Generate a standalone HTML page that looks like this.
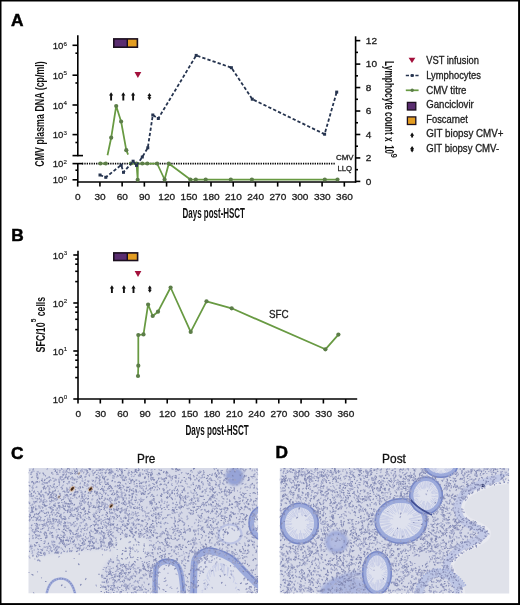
<!DOCTYPE html>
<html><head><meta charset="utf-8"><style>
html,body{margin:0;padding:0;background:#fff;}
svg{display:block;will-change:transform;}
text{font-family:"Liberation Sans", sans-serif;}
</style></head><body>
<svg width="520" height="605" viewBox="0 0 520 605">
<rect x="0" y="0" width="520" height="605" fill="#000"/>
<rect x="1.5" y="1.5" width="516.6" height="601.6" fill="#fff"/>
<text x="11.00" y="26.20" font-size="17.3" text-anchor="start" font-weight="bold" fill="#000" stroke="#000" stroke-width="0.5">A</text>
<line x1="77.80" y1="35.30" x2="77.80" y2="156.20" stroke="#000" stroke-width="1.6" />
<line x1="72.50" y1="155.60" x2="83.00" y2="155.60" stroke="#000" stroke-width="1.6" />
<line x1="72.50" y1="45.30" x2="77.80" y2="45.30" stroke="#000" stroke-width="1.6" />
<line x1="72.50" y1="75.20" x2="77.80" y2="75.20" stroke="#000" stroke-width="1.6" />
<line x1="72.50" y1="105.00" x2="77.80" y2="105.00" stroke="#000" stroke-width="1.6" />
<line x1="72.50" y1="134.60" x2="77.80" y2="134.60" stroke="#000" stroke-width="1.6" />
<line x1="75.40" y1="53.20" x2="77.80" y2="53.20" stroke="#000" stroke-width="1.6" />
<line x1="75.40" y1="83.00" x2="77.80" y2="83.00" stroke="#000" stroke-width="1.6" />
<line x1="75.40" y1="112.80" x2="77.80" y2="112.80" stroke="#000" stroke-width="1.6" />
<line x1="75.40" y1="142.50" x2="77.80" y2="142.50" stroke="#000" stroke-width="1.6" />
<line x1="77.80" y1="162.90" x2="77.80" y2="182.60" stroke="#000" stroke-width="1.6" />
<line x1="72.50" y1="163.60" x2="83.00" y2="163.60" stroke="#000" stroke-width="1.6" />
<line x1="75.40" y1="170.20" x2="77.80" y2="170.20" stroke="#000" stroke-width="1.6" />
<line x1="72.50" y1="179.80" x2="77.80" y2="179.80" stroke="#000" stroke-width="1.6" />
<line x1="77.20" y1="182.00" x2="356.20" y2="182.00" stroke="#000" stroke-width="1.6" />
<line x1="77.70" y1="182.00" x2="77.70" y2="186.60" stroke="#000" stroke-width="1.6" />
<text x="77.90" y="199.90" font-size="9.1" text-anchor="middle" font-weight="normal" fill="#222" textLength="5.6" lengthAdjust="spacingAndGlyphs"  stroke="#222" stroke-width="0.3">0</text>
<line x1="99.92" y1="182.00" x2="99.92" y2="186.60" stroke="#000" stroke-width="1.6" />
<text x="100.12" y="199.90" font-size="9.1" text-anchor="middle" font-weight="normal" fill="#222" textLength="11.2" lengthAdjust="spacingAndGlyphs"  stroke="#222" stroke-width="0.3">30</text>
<line x1="122.14" y1="182.00" x2="122.14" y2="186.60" stroke="#000" stroke-width="1.6" />
<text x="122.34" y="199.90" font-size="9.1" text-anchor="middle" font-weight="normal" fill="#222" textLength="11.2" lengthAdjust="spacingAndGlyphs"  stroke="#222" stroke-width="0.3">60</text>
<line x1="144.35" y1="182.00" x2="144.35" y2="186.60" stroke="#000" stroke-width="1.6" />
<text x="144.55" y="199.90" font-size="9.1" text-anchor="middle" font-weight="normal" fill="#222" textLength="11.2" lengthAdjust="spacingAndGlyphs"  stroke="#222" stroke-width="0.3">90</text>
<line x1="166.57" y1="182.00" x2="166.57" y2="186.60" stroke="#000" stroke-width="1.6" />
<text x="166.77" y="199.90" font-size="9.1" text-anchor="middle" font-weight="normal" fill="#222" textLength="16.799999999999997" lengthAdjust="spacingAndGlyphs"  stroke="#222" stroke-width="0.3">120</text>
<line x1="188.79" y1="182.00" x2="188.79" y2="186.60" stroke="#000" stroke-width="1.6" />
<text x="188.99" y="199.90" font-size="9.1" text-anchor="middle" font-weight="normal" fill="#222" textLength="16.799999999999997" lengthAdjust="spacingAndGlyphs"  stroke="#222" stroke-width="0.3">150</text>
<line x1="211.01" y1="182.00" x2="211.01" y2="186.60" stroke="#000" stroke-width="1.6" />
<text x="211.21" y="199.90" font-size="9.1" text-anchor="middle" font-weight="normal" fill="#222" textLength="16.799999999999997" lengthAdjust="spacingAndGlyphs"  stroke="#222" stroke-width="0.3">180</text>
<line x1="233.23" y1="182.00" x2="233.23" y2="186.60" stroke="#000" stroke-width="1.6" />
<text x="233.43" y="199.90" font-size="9.1" text-anchor="middle" font-weight="normal" fill="#222" textLength="16.799999999999997" lengthAdjust="spacingAndGlyphs"  stroke="#222" stroke-width="0.3">210</text>
<line x1="255.44" y1="182.00" x2="255.44" y2="186.60" stroke="#000" stroke-width="1.6" />
<text x="255.64" y="199.90" font-size="9.1" text-anchor="middle" font-weight="normal" fill="#222" textLength="16.799999999999997" lengthAdjust="spacingAndGlyphs"  stroke="#222" stroke-width="0.3">240</text>
<line x1="277.66" y1="182.00" x2="277.66" y2="186.60" stroke="#000" stroke-width="1.6" />
<text x="277.86" y="199.90" font-size="9.1" text-anchor="middle" font-weight="normal" fill="#222" textLength="16.799999999999997" lengthAdjust="spacingAndGlyphs"  stroke="#222" stroke-width="0.3">270</text>
<line x1="299.88" y1="182.00" x2="299.88" y2="186.60" stroke="#000" stroke-width="1.6" />
<text x="300.08" y="199.90" font-size="9.1" text-anchor="middle" font-weight="normal" fill="#222" textLength="16.799999999999997" lengthAdjust="spacingAndGlyphs"  stroke="#222" stroke-width="0.3">300</text>
<line x1="322.10" y1="182.00" x2="322.10" y2="186.60" stroke="#000" stroke-width="1.6" />
<text x="322.30" y="199.90" font-size="9.1" text-anchor="middle" font-weight="normal" fill="#222" textLength="16.799999999999997" lengthAdjust="spacingAndGlyphs"  stroke="#222" stroke-width="0.3">330</text>
<line x1="344.32" y1="182.00" x2="344.32" y2="186.60" stroke="#000" stroke-width="1.6" />
<text x="344.52" y="199.90" font-size="9.1" text-anchor="middle" font-weight="normal" fill="#222" textLength="16.799999999999997" lengthAdjust="spacingAndGlyphs"  stroke="#222" stroke-width="0.3">360</text>
<text x="63.30" y="48.90" font-size="9.6" text-anchor="end" fill="#222" stroke="#222" stroke-width="0.3">10</text>
<text x="63.50" y="45.50" font-size="6.2" fill="#222" stroke="#222" stroke-width="0.15">6</text>
<text x="63.30" y="78.80" font-size="9.6" text-anchor="end" fill="#222" stroke="#222" stroke-width="0.3">10</text>
<text x="63.50" y="75.40" font-size="6.2" fill="#222" stroke="#222" stroke-width="0.15">5</text>
<text x="63.30" y="108.60" font-size="9.6" text-anchor="end" fill="#222" stroke="#222" stroke-width="0.3">10</text>
<text x="63.50" y="105.20" font-size="6.2" fill="#222" stroke="#222" stroke-width="0.15">4</text>
<text x="63.30" y="138.20" font-size="9.6" text-anchor="end" fill="#222" stroke="#222" stroke-width="0.3">10</text>
<text x="63.50" y="134.80" font-size="6.2" fill="#222" stroke="#222" stroke-width="0.15">3</text>
<text x="63.30" y="167.20" font-size="9.6" text-anchor="end" fill="#222" stroke="#222" stroke-width="0.3">10</text>
<text x="63.50" y="163.80" font-size="6.2" fill="#222" stroke="#222" stroke-width="0.15">2</text>
<text x="63.30" y="183.40" font-size="9.6" text-anchor="end" fill="#222" stroke="#222" stroke-width="0.3">10</text>
<text x="63.50" y="180.00" font-size="6.2" fill="#222" stroke="#222" stroke-width="0.15">0</text>
<text transform="translate(44.2,114) rotate(-90)" font-size="13" text-anchor="middle" fill="#111" textLength="105.5" lengthAdjust="spacingAndGlyphs" font-weight="bold">CMV plasma DNA (cp/ml)</text>
<line x1="355.60" y1="36.30" x2="355.60" y2="182.60" stroke="#000" stroke-width="1.6" />
<line x1="355.60" y1="181.40" x2="360.30" y2="181.40" stroke="#000" stroke-width="1.6" />
<text x="365.80" y="184.50" font-size="9.1" text-anchor="start" font-weight="normal" fill="#222" textLength="5.6" lengthAdjust="spacingAndGlyphs"  stroke="#222" stroke-width="0.3">0</text>
<line x1="355.60" y1="169.67" x2="358.00" y2="169.67" stroke="#000" stroke-width="1.6" />
<line x1="355.60" y1="157.94" x2="360.30" y2="157.94" stroke="#000" stroke-width="1.6" />
<text x="365.80" y="161.04" font-size="9.1" text-anchor="start" font-weight="normal" fill="#222" textLength="5.6" lengthAdjust="spacingAndGlyphs"  stroke="#222" stroke-width="0.3">2</text>
<line x1="355.60" y1="146.21" x2="358.00" y2="146.21" stroke="#000" stroke-width="1.6" />
<line x1="355.60" y1="134.48" x2="360.30" y2="134.48" stroke="#000" stroke-width="1.6" />
<text x="365.80" y="137.58" font-size="9.1" text-anchor="start" font-weight="normal" fill="#222" textLength="5.6" lengthAdjust="spacingAndGlyphs"  stroke="#222" stroke-width="0.3">4</text>
<line x1="355.60" y1="122.75" x2="358.00" y2="122.75" stroke="#000" stroke-width="1.6" />
<line x1="355.60" y1="111.02" x2="360.30" y2="111.02" stroke="#000" stroke-width="1.6" />
<text x="365.80" y="114.12" font-size="9.1" text-anchor="start" font-weight="normal" fill="#222" textLength="5.6" lengthAdjust="spacingAndGlyphs"  stroke="#222" stroke-width="0.3">6</text>
<line x1="355.60" y1="99.29" x2="358.00" y2="99.29" stroke="#000" stroke-width="1.6" />
<line x1="355.60" y1="87.56" x2="360.30" y2="87.56" stroke="#000" stroke-width="1.6" />
<text x="365.80" y="90.66" font-size="9.1" text-anchor="start" font-weight="normal" fill="#222" textLength="5.6" lengthAdjust="spacingAndGlyphs"  stroke="#222" stroke-width="0.3">8</text>
<line x1="355.60" y1="75.83" x2="358.00" y2="75.83" stroke="#000" stroke-width="1.6" />
<line x1="355.60" y1="64.10" x2="360.30" y2="64.10" stroke="#000" stroke-width="1.6" />
<text x="365.80" y="67.20" font-size="9.1" text-anchor="start" font-weight="normal" fill="#222" textLength="11.2" lengthAdjust="spacingAndGlyphs"  stroke="#222" stroke-width="0.3">10</text>
<line x1="355.60" y1="52.37" x2="358.00" y2="52.37" stroke="#000" stroke-width="1.6" />
<line x1="355.60" y1="40.64" x2="360.30" y2="40.64" stroke="#000" stroke-width="1.6" />
<text x="365.80" y="43.74" font-size="9.1" text-anchor="start" font-weight="normal" fill="#222" textLength="11.2" lengthAdjust="spacingAndGlyphs"  stroke="#222" stroke-width="0.3">12</text>
<text transform="translate(385.3,61) rotate(90)" font-size="13" fill="#111" textLength="80.6" lengthAdjust="spacingAndGlyphs" font-weight="bold">Lymphocyte count x</text>
<text transform="translate(385.3,145.2) rotate(90)" font-size="12" fill="#111" textLength="8.8" lengthAdjust="spacingAndGlyphs" font-weight="bold">10</text>
<text transform="translate(390.6,153.6) rotate(90)" font-size="8.6" fill="#111" textLength="4.3" lengthAdjust="spacingAndGlyphs" font-weight="bold">9</text>
<text x="182.50" y="217.90" font-size="14.2" text-anchor="start" font-weight="bold" fill="#111" textLength="62.5" lengthAdjust="spacingAndGlyphs" >Days post-HSCT</text>
<line x1="82.00" y1="163.60" x2="335.20" y2="163.60" stroke="#000" stroke-width="1.7" stroke-dasharray="1.3 1.05"/>
<text x="336.00" y="160.30" font-size="8" text-anchor="start" font-weight="normal" fill="#222" textLength="17.6" lengthAdjust="spacingAndGlyphs"  stroke="#222" stroke-width="0.3">CMV</text>
<text x="337.40" y="170.60" font-size="8" text-anchor="start" font-weight="normal" fill="#222" textLength="14.6" lengthAdjust="spacingAndGlyphs"  stroke="#222" stroke-width="0.3">LLQ</text>
<rect x="113.80" y="38.90" width="13.50" height="8.30" fill="#5a2d70"/>
<rect x="127.30" y="38.90" width="10.10" height="8.30" fill="#e39d22"/>
<rect x="113.80" y="38.90" width="23.60" height="8.30" fill="none" stroke="#1b0f1e" stroke-width="1.6"/>
<line x1="127.30" y1="38.90" x2="127.30" y2="47.20" stroke="#1b0f1e" stroke-width="1.4" />
<path d="M134.50,72.10 L141.30,72.10 L137.90,78.00 Z" fill="#a3113c"/>
<path d="M111.10,92.20 L113.20,95.60 L112.05,95.60 L112.05,100.60 L110.15,100.60 L110.15,95.60 L109.00,95.60 Z" fill="#111"/>
<path d="M123.30,92.20 L125.40,95.60 L124.25,95.60 L124.25,100.60 L122.35,100.60 L122.35,95.60 L121.20,95.60 Z" fill="#111"/>
<path d="M133.10,92.20 L135.20,95.60 L134.05,95.60 L134.05,100.60 L132.15,100.60 L132.15,95.60 L131.00,95.60 Z" fill="#111"/>
<path d="M149.40,93.00 L151.40,96.00 L150.30,96.00 L150.30,97.30 L151.40,97.30 L149.40,100.30 L147.40,97.30 L148.50,97.30 L148.50,96.00 L147.40,96.00 Z" fill="#111"/>
<polyline points="100.40,163.50 105.80,163.50" fill="none" stroke="#689a42" stroke-width="1.75" stroke-linejoin="round"/>
<polyline points="130.80,163.50 136.50,163.50 137.70,179.80 137.90,163.50 142.30,163.50 147.30,163.50 157.10,163.50 164.60,179.50 168.80,163.50 190.30,179.50 195.80,179.50 205.70,179.50 230.80,179.50 251.90,179.50 324.80,179.50 337.50,179.50" fill="none" stroke="#689a42" stroke-width="1.75" stroke-linejoin="round"/>
<circle cx="100.40" cy="163.50" r="2.1" fill="#5c7d48"/>
<circle cx="105.80" cy="163.50" r="2.1" fill="#5c7d48"/>
<circle cx="130.80" cy="163.50" r="2.1" fill="#5c7d48"/>
<circle cx="136.50" cy="163.50" r="2.1" fill="#5c7d48"/>
<circle cx="137.70" cy="179.80" r="2.1" fill="#5c7d48"/>
<circle cx="142.30" cy="163.50" r="2.1" fill="#5c7d48"/>
<circle cx="147.30" cy="163.50" r="2.1" fill="#5c7d48"/>
<circle cx="157.10" cy="163.50" r="2.1" fill="#5c7d48"/>
<circle cx="164.60" cy="179.50" r="2.1" fill="#5c7d48"/>
<circle cx="168.80" cy="163.50" r="2.1" fill="#5c7d48"/>
<circle cx="190.30" cy="179.50" r="2.1" fill="#5c7d48"/>
<circle cx="195.80" cy="179.50" r="2.1" fill="#5c7d48"/>
<circle cx="205.70" cy="179.50" r="2.1" fill="#5c7d48"/>
<circle cx="230.80" cy="179.50" r="2.1" fill="#5c7d48"/>
<circle cx="251.90" cy="179.50" r="2.1" fill="#5c7d48"/>
<circle cx="324.80" cy="179.50" r="2.1" fill="#5c7d48"/>
<circle cx="337.50" cy="179.50" r="2.1" fill="#5c7d48"/>
<polyline points="107.50,155.20 111.20,137.70 116.20,106.00 121.10,121.50 126.30,150.20 128.10,154.60" fill="none" stroke="#689a42" stroke-width="1.75" stroke-linejoin="round"/>
<circle cx="111.20" cy="137.70" r="2.1" fill="#5c7d48"/>
<circle cx="116.20" cy="106.00" r="2.1" fill="#5c7d48"/>
<circle cx="121.10" cy="121.50" r="2.1" fill="#5c7d48"/>
<circle cx="126.30" cy="150.20" r="2.1" fill="#5c7d48"/>
<polyline points="100.00,175.00 105.80,177.30 121.20,165.00 123.50,172.30 133.10,161.20 136.50,165.40 142.30,157.00 147.80,147.80 152.80,115.00 158.30,118.50 196.20,55.40 231.40,67.70 252.30,99.20 324.60,134.20 336.70,92.10" fill="none" stroke="#26344f" stroke-width="1.8" stroke-linejoin="round" stroke-dasharray="3.3 2.1"/>
<rect x="98.50" y="173.50" width="3" height="3" fill="#26344f"/>
<rect x="104.30" y="175.80" width="3" height="3" fill="#26344f"/>
<rect x="119.70" y="163.50" width="3" height="3" fill="#26344f"/>
<rect x="122.00" y="170.80" width="3" height="3" fill="#26344f"/>
<rect x="131.60" y="159.70" width="3" height="3" fill="#26344f"/>
<rect x="135.00" y="163.90" width="3" height="3" fill="#26344f"/>
<rect x="140.80" y="155.50" width="3" height="3" fill="#26344f"/>
<rect x="146.30" y="146.30" width="3" height="3" fill="#26344f"/>
<rect x="151.30" y="113.50" width="3" height="3" fill="#26344f"/>
<rect x="156.80" y="117.00" width="3" height="3" fill="#26344f"/>
<rect x="194.70" y="53.90" width="3" height="3" fill="#26344f"/>
<rect x="229.90" y="66.20" width="3" height="3" fill="#26344f"/>
<rect x="250.80" y="97.70" width="3" height="3" fill="#26344f"/>
<rect x="323.10" y="132.70" width="3" height="3" fill="#26344f"/>
<rect x="335.20" y="90.60" width="3" height="3" fill="#26344f"/>
<path d="M408.60,57.70 L415.40,57.70 L412.00,63.10 Z" fill="#a3113c"/>
<text x="426.20" y="64.10" font-size="10" text-anchor="start" font-weight="normal" fill="#222" textLength="52.7" lengthAdjust="spacingAndGlyphs"  stroke="#222" stroke-width="0.3">VST infusion</text>
<line x1="405.80" y1="75.50" x2="418.60" y2="75.50" stroke="#26344f" stroke-width="1.7" stroke-dasharray="3.2 1.6"/>
<rect x="410.80" y="74.10" width="2.8" height="2.8" fill="#26344f"/>
<text x="426.20" y="78.80" font-size="10" text-anchor="start" font-weight="normal" fill="#222" textLength="54.8" lengthAdjust="spacingAndGlyphs"  stroke="#222" stroke-width="0.3">Lymphocytes</text>
<line x1="405.80" y1="90.30" x2="418.60" y2="90.30" stroke="#689a42" stroke-width="1.7" />
<circle cx="412.20" cy="90.30" r="1.7" fill="#5c7d48"/>
<text x="426.20" y="93.50" font-size="10" text-anchor="start" font-weight="normal" fill="#222" textLength="40.3" lengthAdjust="spacingAndGlyphs"  stroke="#222" stroke-width="0.3">CMV titre</text>
<rect x="407.4" y="102.4" width="8.4" height="7.6" fill="#5a2d70" stroke="#1b0f1e" stroke-width="1.3"/>
<text x="426.20" y="108.00" font-size="10" text-anchor="start" font-weight="normal" fill="#222" textLength="47.6" lengthAdjust="spacingAndGlyphs"  stroke="#222" stroke-width="0.3">Ganciclovir</text>
<rect x="407.4" y="116.9" width="8.4" height="7.6" fill="#e39d22" stroke="#1b0f1e" stroke-width="1.3"/>
<text x="426.20" y="122.80" font-size="10" text-anchor="start" font-weight="normal" fill="#222" textLength="41.7" lengthAdjust="spacingAndGlyphs"  stroke="#222" stroke-width="0.3">Foscarnet</text>
<path d="M412.10,132.40 L414.20,135.80 L413.05,135.80 L413.05,137.40 L411.15,137.40 L411.15,135.80 L410.00,135.80 Z" fill="#111"/>
<text x="426.20" y="137.20" font-size="10" text-anchor="start" font-weight="normal" fill="#222" textLength="77.3" lengthAdjust="spacingAndGlyphs"  stroke="#222" stroke-width="0.3">GIT biopsy CMV+</text>
<path d="M412.10,146.00 L414.10,149.00 L413.00,149.00 L413.00,149.40 L414.10,149.40 L412.10,152.40 L410.10,149.40 L411.20,149.40 L411.20,149.00 L410.10,149.00 Z" fill="#111"/>
<text x="426.20" y="151.60" font-size="10" text-anchor="start" font-weight="normal" fill="#222" textLength="73.0" lengthAdjust="spacingAndGlyphs"  stroke="#222" stroke-width="0.3">GIT biopsy CMV-</text>
<text x="11.20" y="241.30" font-size="17.3" text-anchor="start" font-weight="bold" fill="#000" stroke="#000" stroke-width="0.5">B</text>
<line x1="78.00" y1="250.80" x2="78.00" y2="399.60" stroke="#000" stroke-width="1.6" />
<line x1="77.40" y1="399.00" x2="357.20" y2="399.00" stroke="#000" stroke-width="1.6" />
<line x1="73.30" y1="399.00" x2="78.00" y2="399.00" stroke="#000" stroke-width="1.6" />
<line x1="73.30" y1="351.00" x2="78.00" y2="351.00" stroke="#000" stroke-width="1.6" />
<line x1="73.30" y1="303.00" x2="78.00" y2="303.00" stroke="#000" stroke-width="1.6" />
<line x1="73.30" y1="255.00" x2="78.00" y2="255.00" stroke="#000" stroke-width="1.6" />
<line x1="75.20" y1="259.10" x2="78.00" y2="259.10" stroke="#000" stroke-width="1.6" />
<line x1="75.20" y1="264.20" x2="78.00" y2="264.20" stroke="#000" stroke-width="1.6" />
<line x1="75.20" y1="271.30" x2="78.00" y2="271.30" stroke="#000" stroke-width="1.6" />
<line x1="75.20" y1="281.60" x2="78.00" y2="281.60" stroke="#000" stroke-width="1.6" />
<line x1="75.20" y1="307.10" x2="78.00" y2="307.10" stroke="#000" stroke-width="1.6" />
<line x1="75.20" y1="312.20" x2="78.00" y2="312.20" stroke="#000" stroke-width="1.6" />
<line x1="75.20" y1="319.30" x2="78.00" y2="319.30" stroke="#000" stroke-width="1.6" />
<line x1="75.20" y1="329.60" x2="78.00" y2="329.60" stroke="#000" stroke-width="1.6" />
<line x1="75.20" y1="355.10" x2="78.00" y2="355.10" stroke="#000" stroke-width="1.6" />
<line x1="75.20" y1="360.20" x2="78.00" y2="360.20" stroke="#000" stroke-width="1.6" />
<line x1="75.20" y1="367.30" x2="78.00" y2="367.30" stroke="#000" stroke-width="1.6" />
<line x1="75.20" y1="377.60" x2="78.00" y2="377.60" stroke="#000" stroke-width="1.6" />
<text x="63.50" y="258.60" font-size="9.6" text-anchor="end" fill="#222" stroke="#222" stroke-width="0.3">10</text>
<text x="63.70" y="255.20" font-size="6.2" fill="#222" stroke="#222" stroke-width="0.15">3</text>
<text x="63.50" y="306.60" font-size="9.6" text-anchor="end" fill="#222" stroke="#222" stroke-width="0.3">10</text>
<text x="63.70" y="303.20" font-size="6.2" fill="#222" stroke="#222" stroke-width="0.15">2</text>
<text x="63.50" y="354.60" font-size="9.6" text-anchor="end" fill="#222" stroke="#222" stroke-width="0.3">10</text>
<text x="63.70" y="351.20" font-size="6.2" fill="#222" stroke="#222" stroke-width="0.15">1</text>
<text x="63.50" y="402.60" font-size="9.6" text-anchor="end" fill="#222" stroke="#222" stroke-width="0.3">10</text>
<text x="63.70" y="399.20" font-size="6.2" fill="#222" stroke="#222" stroke-width="0.15">0</text>
<line x1="78.00" y1="399.00" x2="78.00" y2="403.50" stroke="#000" stroke-width="1.6" />
<text x="78.20" y="416.90" font-size="9.1" text-anchor="middle" font-weight="normal" fill="#222" textLength="5.6" lengthAdjust="spacingAndGlyphs"  stroke="#222" stroke-width="0.3">0</text>
<line x1="100.31" y1="399.00" x2="100.31" y2="403.50" stroke="#000" stroke-width="1.6" />
<text x="100.51" y="416.90" font-size="9.1" text-anchor="middle" font-weight="normal" fill="#222" textLength="11.2" lengthAdjust="spacingAndGlyphs"  stroke="#222" stroke-width="0.3">30</text>
<line x1="122.62" y1="399.00" x2="122.62" y2="403.50" stroke="#000" stroke-width="1.6" />
<text x="122.82" y="416.90" font-size="9.1" text-anchor="middle" font-weight="normal" fill="#222" textLength="11.2" lengthAdjust="spacingAndGlyphs"  stroke="#222" stroke-width="0.3">60</text>
<line x1="144.92" y1="399.00" x2="144.92" y2="403.50" stroke="#000" stroke-width="1.6" />
<text x="145.12" y="416.90" font-size="9.1" text-anchor="middle" font-weight="normal" fill="#222" textLength="11.2" lengthAdjust="spacingAndGlyphs"  stroke="#222" stroke-width="0.3">90</text>
<line x1="167.23" y1="399.00" x2="167.23" y2="403.50" stroke="#000" stroke-width="1.6" />
<text x="167.43" y="416.90" font-size="9.1" text-anchor="middle" font-weight="normal" fill="#222" textLength="16.799999999999997" lengthAdjust="spacingAndGlyphs"  stroke="#222" stroke-width="0.3">120</text>
<line x1="189.54" y1="399.00" x2="189.54" y2="403.50" stroke="#000" stroke-width="1.6" />
<text x="189.74" y="416.90" font-size="9.1" text-anchor="middle" font-weight="normal" fill="#222" textLength="16.799999999999997" lengthAdjust="spacingAndGlyphs"  stroke="#222" stroke-width="0.3">150</text>
<line x1="211.85" y1="399.00" x2="211.85" y2="403.50" stroke="#000" stroke-width="1.6" />
<text x="212.05" y="416.90" font-size="9.1" text-anchor="middle" font-weight="normal" fill="#222" textLength="16.799999999999997" lengthAdjust="spacingAndGlyphs"  stroke="#222" stroke-width="0.3">180</text>
<line x1="234.16" y1="399.00" x2="234.16" y2="403.50" stroke="#000" stroke-width="1.6" />
<text x="234.36" y="416.90" font-size="9.1" text-anchor="middle" font-weight="normal" fill="#222" textLength="16.799999999999997" lengthAdjust="spacingAndGlyphs"  stroke="#222" stroke-width="0.3">210</text>
<line x1="256.46" y1="399.00" x2="256.46" y2="403.50" stroke="#000" stroke-width="1.6" />
<text x="256.66" y="416.90" font-size="9.1" text-anchor="middle" font-weight="normal" fill="#222" textLength="16.799999999999997" lengthAdjust="spacingAndGlyphs"  stroke="#222" stroke-width="0.3">240</text>
<line x1="278.77" y1="399.00" x2="278.77" y2="403.50" stroke="#000" stroke-width="1.6" />
<text x="278.97" y="416.90" font-size="9.1" text-anchor="middle" font-weight="normal" fill="#222" textLength="16.799999999999997" lengthAdjust="spacingAndGlyphs"  stroke="#222" stroke-width="0.3">270</text>
<line x1="301.08" y1="399.00" x2="301.08" y2="403.50" stroke="#000" stroke-width="1.6" />
<text x="301.28" y="416.90" font-size="9.1" text-anchor="middle" font-weight="normal" fill="#222" textLength="16.799999999999997" lengthAdjust="spacingAndGlyphs"  stroke="#222" stroke-width="0.3">300</text>
<line x1="323.39" y1="399.00" x2="323.39" y2="403.50" stroke="#000" stroke-width="1.6" />
<text x="323.59" y="416.90" font-size="9.1" text-anchor="middle" font-weight="normal" fill="#222" textLength="16.799999999999997" lengthAdjust="spacingAndGlyphs"  stroke="#222" stroke-width="0.3">330</text>
<line x1="345.70" y1="399.00" x2="345.70" y2="403.50" stroke="#000" stroke-width="1.6" />
<text x="345.90" y="416.90" font-size="9.1" text-anchor="middle" font-weight="normal" fill="#222" textLength="16.799999999999997" lengthAdjust="spacingAndGlyphs"  stroke="#222" stroke-width="0.3">360</text>
<text x="185.40" y="435.20" font-size="14.2" text-anchor="start" font-weight="bold" fill="#111" textLength="63.4" lengthAdjust="spacingAndGlyphs" >Days post-HSCT</text>
<text transform="translate(44.9,352.6) rotate(-90)" font-size="13" fill="#111" font-weight="bold" textLength="30.4" lengthAdjust="spacingAndGlyphs">SFC/10</text>
<text transform="translate(36.3,322.3) rotate(-90)" font-size="6.8" fill="#111" font-weight="bold">5</text>
<text transform="translate(44.9,316.2) rotate(-90)" font-size="13" fill="#111" font-weight="bold" textLength="19.3" lengthAdjust="spacingAndGlyphs">cells</text>
<rect x="113.80" y="252.90" width="13.50" height="7.60" fill="#5a2d70"/>
<rect x="127.30" y="252.90" width="10.30" height="7.60" fill="#e39d22"/>
<rect x="113.80" y="252.90" width="23.80" height="7.60" fill="none" stroke="#1b0f1e" stroke-width="1.6"/>
<line x1="127.30" y1="252.90" x2="127.30" y2="260.50" stroke="#1b0f1e" stroke-width="1.4" />
<path d="M134.60,270.90 L141.40,270.90 L138.00,277.00 Z" fill="#a3113c"/>
<path d="M111.90,285.20 L114.00,288.60 L112.85,288.60 L112.85,292.90 L110.95,292.90 L110.95,288.60 L109.80,288.60 Z" fill="#111"/>
<path d="M123.90,285.20 L126.00,288.60 L124.85,288.60 L124.85,292.90 L122.95,292.90 L122.95,288.60 L121.80,288.60 Z" fill="#111"/>
<path d="M133.50,285.20 L135.60,288.60 L134.45,288.60 L134.45,292.90 L132.55,292.90 L132.55,288.60 L131.40,288.60 Z" fill="#111"/>
<path d="M149.80,285.40 L151.80,288.40 L150.70,288.40 L150.70,289.70 L151.80,289.70 L149.80,292.70 L147.80,289.70 L148.90,289.70 L148.90,288.40 L147.80,288.40 Z" fill="#111"/>
<polyline points="138.00,376.00 138.30,365.70 138.30,335.00 143.50,334.40 148.10,304.50 152.70,316.00 158.00,311.70 170.60,287.50 190.70,331.90 206.50,301.30 231.70,308.30 325.40,349.30 338.40,334.60" fill="none" stroke="#689a42" stroke-width="1.75" stroke-linejoin="round"/>
<circle cx="138.00" cy="376.00" r="2.1" fill="#5c7d48"/>
<circle cx="138.30" cy="365.70" r="2.1" fill="#5c7d48"/>
<circle cx="138.30" cy="335.00" r="2.1" fill="#5c7d48"/>
<circle cx="143.50" cy="334.40" r="2.1" fill="#5c7d48"/>
<circle cx="148.10" cy="304.50" r="2.1" fill="#5c7d48"/>
<circle cx="152.70" cy="316.00" r="2.1" fill="#5c7d48"/>
<circle cx="158.00" cy="311.70" r="2.1" fill="#5c7d48"/>
<circle cx="170.60" cy="287.50" r="2.1" fill="#5c7d48"/>
<circle cx="190.70" cy="331.90" r="2.1" fill="#5c7d48"/>
<circle cx="206.50" cy="301.30" r="2.1" fill="#5c7d48"/>
<circle cx="231.70" cy="308.30" r="2.1" fill="#5c7d48"/>
<circle cx="325.40" cy="349.30" r="2.1" fill="#5c7d48"/>
<circle cx="338.40" cy="334.60" r="2.1" fill="#5c7d48"/>
<text x="269.00" y="318.20" font-size="10" text-anchor="start" font-weight="normal" fill="#222" textLength="19.6" lengthAdjust="spacingAndGlyphs"  stroke="#222" stroke-width="0.3">SFC</text>
<text x="10.90" y="458.60" font-size="17.3" text-anchor="start" font-weight="bold" fill="#000" stroke="#000" stroke-width="0.5">C</text>
<text x="275.40" y="458.30" font-size="17.3" text-anchor="start" font-weight="bold" fill="#000" stroke="#000" stroke-width="0.5">D</text>
<text x="137.10" y="462.90" font-size="13" text-anchor="start" font-weight="normal" fill="#111" textLength="18.3" lengthAdjust="spacingAndGlyphs"  stroke="#111" stroke-width="0.3">Pre</text>
<text x="382.10" y="462.90" font-size="13" text-anchor="start" font-weight="normal" fill="#111" textLength="23.8" lengthAdjust="spacingAndGlyphs"  stroke="#111" stroke-width="0.3">Post</text>
<filter id="soft" x="-5%" y="-5%" width="110%" height="110%"><feGaussianBlur stdDeviation="0.55"/></filter>
<filter id="soft2" x="-30%" y="-30%" width="160%" height="160%"><feGaussianBlur stdDeviation="1.5"/></filter>
<clipPath id="cC"><rect x="28.5" y="468" width="229.6" height="125.3"/></clipPath>
<g clip-path="url(#cC)"><g filter="url(#soft)">
<rect x="28.5" y="468" width="229.6" height="125.3" fill="#d6d9e7"/>
<path d="M20.0,557.0 C23.3,549.7 32.8,556.8 40.0,556.0 C47.2,555.2 56.3,553.3 63.0,552.5 C69.7,551.7 74.8,551.4 80.0,551.0 C85.2,550.6 90.0,550.2 94.0,550.0 C98.0,549.8 101.0,549.2 104.0,549.5 C107.0,549.8 110.8,550.1 112.0,551.5 C113.2,552.9 112.2,555.9 111.0,558.0 C109.8,560.1 106.7,561.2 105.0,564.0 C103.3,566.8 102.0,569.0 101.0,575.0 C100.0,581.0 112.5,595.8 99.0,600.0 C85.5,604.2 33.2,607.2 20.0,600.0 C6.8,592.8 16.7,564.3 20.0,557.0 Z" fill="#e0e2ea" filter="url(#soft2)"/>
<path d="M114.0,541.0 C116.8,537.7 124.7,536.3 130.0,536.0 C135.3,535.7 142.7,536.7 146.0,539.0 C149.3,541.3 151.0,546.3 150.0,550.0 C149.0,553.7 144.8,558.8 140.0,561.0 C135.2,563.2 125.5,563.8 121.0,563.0 C116.5,562.2 114.2,559.7 113.0,556.0 C111.8,552.3 111.2,544.3 114.0,541.0 Z" fill="#dde0ea" filter="url(#soft2)"/>
<path d="M46,600 Q47,579 61,578.5 Q74,579 76,600" fill="#dfe1eb" stroke="#a2addb" stroke-width="2.6"/>
<path d="M46,600 Q47,579 61,578.5 Q74,579 76,600" fill="none" stroke="#7c88c2" stroke-width="1.3" stroke-dasharray="1.2 1.3"/>
<path d="M155.0,600.0 C155.1,595.3 155.0,577.8 155.5,572.0 C156.0,566.2 156.2,566.8 158.0,565.0 C159.8,563.2 163.0,561.7 166.0,561.5 C169.0,561.3 173.5,561.9 176.0,564.0 C178.5,566.1 179.7,568.0 181.0,574.0 C182.3,580.0 183.5,595.7 184.0,600.0" fill="#dde0ec" stroke="#9caadb" stroke-width="5.5"/>
<path d="M155.0,600.0 C155.1,595.3 155.0,577.8 155.5,572.0 C156.0,566.2 156.2,566.8 158.0,565.0 C159.8,563.2 163.0,561.7 166.0,561.5 C169.0,561.3 173.5,561.9 176.0,564.0 C178.5,566.1 179.7,568.0 181.0,574.0 C182.3,580.0 183.5,595.7 184.0,600.0" fill="none" stroke="#7686c6" stroke-width="1.5" transform="translate(0,-2.15)"/>
<path d="M193.5,600.0 C193.6,594.7 193.6,575.0 194.0,568.0 C194.4,561.0 194.2,560.8 196.0,558.0 C197.8,555.2 201.7,552.5 205.0,551.5 C208.3,550.5 211.5,550.8 216.0,552.0 C220.5,553.2 227.3,555.8 232.0,559.0 C236.7,562.2 240.0,567.0 244.0,571.0 C248.0,575.0 252.3,579.8 256.0,583.0 C259.7,586.2 264.3,588.8 266.0,590.0" fill="#dde0ec" stroke="#9caadb" stroke-width="7"/>
<path d="M193.5,600.0 C193.6,594.7 193.6,575.0 194.0,568.0 C194.4,561.0 194.2,560.8 196.0,558.0 C197.8,555.2 201.7,552.5 205.0,551.5 C208.3,550.5 211.5,550.8 216.0,552.0 C220.5,553.2 227.3,555.8 232.0,559.0 C236.7,562.2 240.0,567.0 244.0,571.0 C248.0,575.0 252.3,579.8 256.0,583.0 C259.7,586.2 264.3,588.8 266.0,590.0" fill="none" stroke="#7686c6" stroke-width="1.5" transform="translate(0,-2.9)"/>
<path d="M237.0 596.3L237.3 596.3M236.9 599.3L238.7 599.1M236.8 601.6L238.4 601.3M236.7 602.2L235.1 600.8M236.0 607.0L235.7 605.2M235.6 609.2L231.8 604.5M235.3 610.4L232.4 606.0M234.6 612.8L233.9 609.7M234.3 613.7L231.4 608.1M233.4 616.3L234.7 615.1M232.1 619.2L229.4 611.4M231.1 620.9L228.5 612.4M230.3 622.2L227.8 613.1M230.0 622.7L230.7 620.7M228.7 624.4L226.9 615.4M226.6 626.4L227.1 624.1M226.2 626.7L227.0 625.3M224.7 627.7L224.7 623.0M223.9 628.1L224.3 626.5M222.0 628.8L222.2 627.4M220.4 629.0L220.4 619.6M219.9 629.0L219.9 618.0M218.9 628.9L219.2 616.7M217.4 628.6L217.5 622.9M216.5 628.3L216.5 623.5M214.8 627.4L215.7 618.6M213.0 626.1L213.7 619.5M212.5 625.6L213.2 619.1M210.9 623.9L213.4 613.5M209.5 622.0L212.5 612.0M208.8 620.8L208.1 618.7M208.6 620.4L208.1 617.8M207.3 618.0L208.0 614.0M206.8 616.8L210.4 609.0M205.9 614.4L204.3 613.6M205.2 612.3L204.8 610.4M204.2 608.3L202.6 607.7M204.0 607.4L206.3 604.4M203.6 604.6L203.0 603.6M203.4 603.2L203.0 602.3M203.1 599.0L201.9 598.7M203.0 598.5L201.2 598.3M203.0 595.8L205.5 595.9M203.1 592.0L201.5 592.2M203.3 590.2L201.6 590.5M203.6 587.2L206.3 589.7M203.9 585.4L207.4 588.9M204.2 583.7L207.9 587.9M205.1 580.0L203.2 580.5M205.4 579.0L209.4 585.4M206.8 575.2L207.7 579.3M207.1 574.4L209.6 581.1M208.2 572.3L207.5 574.5M209.0 570.8L210.3 576.9M209.6 569.9L208.6 571.5M210.6 568.5L211.4 574.4M212.7 566.2L214.4 576.5M213.7 565.3L213.0 566.8M214.8 564.6L214.6 568.0M215.3 564.3L215.9 571.7M216.6 563.6L216.4 566.5M218.1 563.2L218.3 570.7M220.4 563.0L220.4 565.8M221.6 563.1L221.4 570.7M222.2 563.3L222.3 567.5M223.5 563.7L222.9 573.0M224.6 564.3L223.6 575.1M225.8 565.0L226.6 566.1M227.7 566.6L227.5 571.5M228.3 567.2L227.1 575.0M228.9 567.9L227.3 576.2M230.8 570.4L231.5 572.4M231.3 571.3L231.7 574.0M232.6 573.9L232.6 577.0M233.3 575.6L233.7 578.0M233.9 576.9L233.9 579.5M234.5 578.8L233.2 582.6M235.4 582.2L235.4 584.1M235.7 583.3L237.4 583.9M236.3 586.5L235.5 588.3M236.4 587.3L235.4 589.0M236.8 590.4L236.6 591.2M236.9 593.4L237.8 593.7" stroke="#c6cce7" stroke-width="0.9" fill="none"/>
<ellipse cx="263" cy="523" rx="11.5" ry="14.5" fill="#dfe2ee" stroke="#9caadb" stroke-width="5"/>
<ellipse cx="263" cy="523" rx="14" ry="17" fill="none" stroke="#7686c6" stroke-width="1.5"/>
<ellipse cx="230" cy="534" rx="11.5" ry="9.5" fill="#dcdfeb" stroke="#bcc3e3" stroke-width="2.2"/>
<circle cx="234.6" cy="476.5" r="8" fill="#97a4d7" stroke="#8796cf" stroke-width="2" filter="url(#soft2)"/>
<g transform="scale(0.5)" fill="none" stroke-linecap="round" stroke-width="2.4">
<path d="M67 938l-1 1m8 8l1 2m29-4l-1 1m7-3l1 0m12-6l1 2m9 2l1 2m2 2l1 0m2-6l0 1m10 7l2 1m-1-8l-1 2m4-5l1 2m32 1l0 1m3 5l-2 1m4-3l-2 1m4-5l0 1m7-1l-2 1m8-3l-1 2m5 5l1 2m6-1l1 1m8-3l-2 1m9-4l1 0m10-3l-1 2m9-4l2 1m3 8l1 1m14-7l-1 1m14-1l0 1m9 2l1 1m3 2l1 0m3 0l1 0m1 1l1 2m26-2l1 0m1-3l1 2m1 1l1 0m10-8l0 1m5-1l1 1m0 3l0 1m4-4l1 2m2-2l1 1m3 5l0 1m20-5l-2 1m21 1l-1 2m6-4l0 1m31 5l-1 1m2-2l0 1m4 0l1 1m0-7l1 0m8 1l1 0m6 1l1 0m9-2l0 1m5-6l0 1m8 0l-2 1m11 1l-1 1m-426 14l-2 1m13 1l-1 2m16-7l0 1m8 2l-1 1m7-7l1 0m8 0l2 1m6 4l0 1m6-6l1 0m-1 10l-2 1m7-11l-1 2m6 2l0 1m6 1l1 0m9 4l0 1m24-9l1 2m20 1l1 0m8 4l1 2m3-6l-2 1m16 1l0 1m16-1l2 1m3-5l-1 1m12 6l1 0m11-9l1 0m6 2l1 1m2-3l1 1m-1 2l1 0m4-3l1 0m10 1l1 0m5 9l1 1m1-11l-1 1m23 8l-2 1m20-3l1 2m0-5l-1 1m7-3l2 1m-1 3l-1 1m21 2l1 0m4-3l1 1m3-7l-1 1m2 8l-1 2m12-4l1 2m13-10l1 1m1 5l0 1m10-6l1 0m3 2l1 0m11 7l1 0m19-2l-2 1m33 1l0 1m12 0l-1 1m5-7l2 1m0-1l0 1m6-6l-2 1m-435 14l2 1m17 1l1 0m2 0l0 1m4-5l-1 2m1-1l-2 1m4 8l0 1m7-10l0 1m10-3l1 0m4 0l1 0m10 7l1 0m4-4l-2 1m11 2l0 1m6-4l-1 1m31 4l2 1m1-8l-2 1m10 4l1 0m4 3l1 0m-1-4l-1 2m11-2l0 1m2 3l1 0m49-4l0 1m6 2l1 0m4-8l-1 1m1 6l1 0m12-3l1 0m6-1l-1 2m6-3l0 1m0 7l0 1m0 0l0 1m9-4l2 1m5-4l-1 2m10 1l0 1m10 1l0 1m24-8l0 1m13-2l1 1m33 0l-1 2m16 0l1 2m1-7l1 0m9 8l0 1m2 0l-1 1m8-9l0 1m8-2l-1 2m27 7l0 1m12-3l-2 1m18 1l0 1m6 0l1 2m4-6l1 0m-448 10l1 0m2 6l-1 2m15-2l0 1m4-9l1 0m0 0l-2 1m4 1l1 2m4-6l1 1m2 9l1 1m8-10l1 1m16 0l-2 1m3 2l-1 1m4 4l-2 1m3 0l1 2m4-7l2 1m0 0l-2 1m11-3l1 0m2-3l1 0m29 1l-1 2m3 6l1 0m2-10l1 0m0 6l1 0m1-5l1 0m9 4l1 0m7-2l0 1m4 4l-1 2m2-10l0 1m14 2l2 1m2 4l0 1m7 0l1 2m5-10l-1 2m8-3l1 0m6 1l2 1m3 7l-1 2m2-6l-1 1m5 1l0 1m3 1l1 2m5-1l0 1m0-4l-2 1m4-9l-1 2m5-1l1 0m7 7l0 1m6-5l-1 2m15-5l1 0m20 6l-1 1m2 0l-2 1m21-1l1 1m4 0l1 0m2 1l1 0m7-10l2 1m3 3l-1 2m23-2l0 1m9-5l-1 2m21 9l0 1m37-5l2 1m0 3l1 2m0-5l-1 1m9-3l1 2m-1-5l1 2m39-2l1 0m-442 16l0 1m7 0l0 1m3-7l2 1m-1 1l0 1m2 0l1 2m1 1l1 1m-1-9l0 1m17 10l-1 2m3-2l-2 1m2-5l-1 2m1-4l1 0m1 0l-2 1m5-6l-1 2m2 9l1 2m3-5l0 1m6 0l2 1m2-3l0 1m9-2l2 1m1-2l2 1m5-1l1 0m8 5l1 0m0-10l-1 1m15 6l0 1m0-8l-2 1m15 0l1 1m12-2l1 0m2 0l1 2m39-1l0 1m10-1l1 2m0 8l1 1m5-5l0 1m15-5l-1 2m3-2l-1 1m19-2l1 2m8 5l-1 2m7-11l0 1m5 4l-2 1m29-5l1 0m2 9l1 1m2-7l1 0m3 7l1 1m12-5l0 1m4 0l1 1m1-3l2 1m7 2l0 1m1-2l-1 2m5-8l1 0m12 4l0 1m7-2l-1 1m30 0l1 0m1 3l-1 2m2-5l-2 1m5-6l-1 1m9-1l2 1m12 2l-1 2m3 1l-1 1m3-8l2 1m27 1l2 1m-1 4l1 2m1-6l1 2m2-2l1 0m17-1l2 1m4 1l2 1m-2-5l0 1m-458 19l1 0m16-7l2 1m3-2l0 1m20 5l2 1m3-1l-2 1m10-6l-2 1m5 1l-2 1m5 6l-1 1m7-8l-1 2m3-2l1 0m5 8l2 1m6-8l-1 1m3 5l-1 2m2-6l-2 1m18 3l1 2m4-12l2 1m2 2l1 1m2 4l-1 1m25-6l-1 2m8 5l1 0m0-9l1 0m5 3l-1 1m2-5l1 2m10 5l0 1m1-7l0 1m7 2l1 2m0 4l0 1m7-3l2 1m7 0l2 1m10-5l0 1m0-6l1 0m0 8l0 1m3-5l0 1m2 6l1 2m16-6l0 1m19-1l1 0m-1 2l1 0m0 1l-1 2m2-6l-1 1m2 1l1 1m3-5l1 1m-1-4l2 1m15 5l0 1m29 0l0 1m13-5l1 2m13 5l-2 1m4-3l2 1m-1-9l1 1m3 7l2 1m2-4l0 1m5-3l-1 1m11 4l1 1m5-1l-1 1m4-3l-1 2m7-8l1 2m-1 1l1 0m4 3l-1 2m21-8l2 1m5 6l1 0m5-1l1 0m-1-3l1 2m8-5l2 1m1 5l-1 2m10 2l-1 1m2-6l-2 1m18 4l1 1m13-7l1 1m-446 15l-1 2m8-1l1 0m3-6l2 1m7 2l-1 1m4-8l0 1m5 2l-2 1m9 4l1 0m0 1l0 1m2 0l2 1m2-10l-1 2m1-1l1 2m0-2l0 1m5 5l1 1m10-7l1 0m0 4l1 0m-1-4l1 2m0 5l2 1m6-6l1 1m1 0l1 2m1-2l1 1m10 2l1 0m2 0l0 1m3-3l-1 2m9-6l-2 1m16-1l0 1m3-3l1 0m6 3l-1 2m13 0l1 0m3-2l-1 2m7-2l-1 2m10 6l1 1m1-11l-1 1m2 1l2 1m2-4l0 1m3 10l-1 2m23-2l1 0m1-1l-1 1m8-5l1 0m12 2l2 1m4-2l-1 1m6-3l-1 2m29-6l1 0m9 1l-1 2m7 3l1 0m5-2l1 2m2 4l1 0m0-9l-2 1m16 3l-1 1m4-6l0 1m7 1l1 2m2 0l2 1m3-5l-1 2m9 5l0 1m10-3l-1 1m7-2l1 0m2 0l0 1m7-6l2 1m-2 10l-2 1m6-11l-1 1m2-1l-1 1m4 0l1 1m4-2l1 0m14 3l-2 1m8-2l2 1m8 7l1 0m1-4l0 1m4 0l1 1m3-6l1 0m23 3l0 1m9-3l1 2m7 3l1 0m14 0l1 0m-456 12l1 1m1 1l-1 2m13-6l1 2m19-4l-1 2m8 3l-1 2m5-8l-2 1m2 3l1 2m-1-8l-1 2m3-4l0 1m2 4l0 1m4 3l-2 1m5-5l-2 1m23-3l-1 2m1-4l-1 2m7-2l-2 1m21 8l-1 2m11-11l0 1m0 1l-2 1m22 2l2 1m20-3l0 1m18 3l1 1m3 2l-2 1m6-1l-1 2m6-13l-1 1m4-1l1 0m2 4l0 1m2 1l2 1m-1-6l-1 1m4 7l2 1m8 0l1 0m8-4l1 0m8-6l1 2m16 0l1 0m5-2l1 2m4 6l-1 1m38-9l-1 2m38 4l1 1m-1-6l1 2m6 1l0 1m12 2l-2 1m7-8l1 0m12 3l1 1m1-3l1 2m6 3l1 2m10-6l0 1m1 8l1 1m15-1l0 1m2-8l1 0m3 1l-2 1m23 3l1 1m-1-2l1 0m17-1l2 1m1 0l1 0m0 2l-2 1m-449 2l1 1m0 5l-1 2m5-6l1 0m8 5l1 0m1-1l-1 2m9-6l-1 1m5 5l2 1m1-3l0 1m1-7l1 0m5 6l-1 1m2 3l1 1m0-1l-2 1m5-1l1 1m3-7l0 1m2 1l1 1m5-1l1 0m5 3l-1 1m5-9l-1 1m9 1l1 2m21-2l1 2m1-2l-2 1m3 1l-1 2m5-7l2 1m-1 1l1 1m28-2l1 0m8-1l-1 1m17 3l-1 2m4 0l2 1m5-7l1 0m2 1l1 1m3 3l1 0m14-2l1 0m7 6l1 0m-1 0l2 1m-1-2l1 1m0-4l0 1m8-4l1 1m9 1l0 1m3 1l-1 2m8 0l1 2m-1-2l-2 1m7-3l0 1m8-3l1 1m13 2l0 1m0-5l1 1m-1-1l0 1m15 0l-2 1m24 2l1 0m7 3l-2 1m3-6l1 2m2 0l0 1m3 1l1 1m32-3l1 0m14 0l1 0m0 2l-1 2m14-2l1 0m15-10l1 2m7 5l1 0m5 3l0 1m2-3l2 1m20 2l-2 1m2-6l-2 1m7 4l-2 1m2-6l2 1m-2 4l2 1m4-9l-2 1m17-4l-1 1m8 2l0 1m-449 14l-1 1m13 4l1 2m-1-2l-1 2m3-7l1 0m10-3l-1 1m6-4l-1 2m9 0l0 1m4 5l-2 1m12-2l0 1m3-6l0 1m9 4l-1 1m20-7l1 1m6 1l0 1m6 4l1 0m12-3l1 1m28-3l1 1m2 5l1 2m5-11l1 1m0 10l1 1m1-4l0 1m4-9l-1 2m5 1l-1 2m8 5l1 1m5-6l-1 2m33-4l0 1m0 1l0 1m10-2l0 1m6 1l1 0m9 2l-2 1m8 1l1 0m8-2l-1 1m13-7l2 1m9-2l-1 1m14 8l0 1m4-8l1 1m20 1l-1 1m9 1l0 1m20-2l-1 2m1-8l0 1m18 4l-1 2m53-5l0 1m7 6l1 1m41-2l2 1m-452 6l-1 1m6 2l-2 1m2-5l0 1m11-1l0 1m0 5l0 1m7 1l-1 1m4 0l1 0m7-3l1 0m4 1l-2 1m30-10l2 1m8 5l-1 2m11 3l-1 1m3-9l-1 2m15 0l1 0m0-5l-1 1m11 9l0 1m2-7l0 1m10 5l-2 1m5-3l-1 2m5-10l2 1m2 6l1 2m5 1l1 2m7-4l1 1m4-7l0 1m12 1l1 2m0-2l-2 1m5-4l1 0m6 4l0 1m5-3l-1 2m11-1l-1 1m5-3l1 1m7 4l1 0m0-7l-2 1m17 1l2 1m-1 8l1 0m3-6l-1 2m3-6l0 1m5 1l-1 1m3 5l1 1m4-4l1 0m2-3l0 1m3 6l2 1m10 0l-1 1m4-2l1 1m4-10l-2 1m4 5l1 2m11-7l-2 1m2 6l-1 1m13-4l1 1m2-4l1 0m6 1l1 0m0 4l1 2m9-4l0 1m8-3l-1 1m16-3l1 1m-1-3l1 0m1 3l-1 1m15 4l1 1m2 1l1 1m4-8l0 1m11 2l0 1m14-5l0 1m3 6l1 2m19-7l1 0m35-4l2 1m2-1l1 0m-458 12l0 1m15 6l-2 1m8-5l-2 1m2-2l0 1m2 6l1 0m10-3l2 1m-2 0l-1 1m2-6l-1 1m2 1l1 0m9 2l2 1m-1-5l0 1m9 2l1 1m1-4l0 1m6 4l1 0m5-7l1 0m18 1l1 0m7 3l1 1m3 0l-1 1m3-4l-1 2m6 5l-1 1m6-5l0 1m10-4l-1 2m26 7l0 1m2-5l-1 2m5-1l-2 1m8-6l1 0m6 1l1 0m16 5l-1 2m10-11l2 1m14 3l0 1m2-3l0 1m10 2l1 2m0-5l-1 2m5-2l1 0m4 3l-2 1m13-1l1 2m19-3l-2 1m16-5l-1 1m2 1l0 1m7 1l1 0m7-2l0 1m8 7l-2 1m7-11l-2 1m29-1l1 0m7 11l1 0m6-8l0 1m7-1l0 1m22 6l1 0m1-4l1 2m0-7l1 2m55 5l1 0m0-8l2 1m8 5l2 1m5-3l-2 1m-451 9l1 0m12 9l1 0m-1 0l-1 1m2-7l1 0m9-4l1 0m6 2l1 1m0-2l-1 1m19 6l2 1m11-7l2 1m-1-2l1 0m1 0l-1 2m1-3l-1 2m4 6l2 1m-1-4l1 2m2-7l1 0m4 8l1 0m1-1l1 0m6-5l1 2m3-5l-1 2m17 3l1 0m1-2l2 1m8 7l-2 1m5-6l-1 2m2-5l0 1m11-2l0 1m11 8l1 0m3-7l-1 1m3-1l0 1m8 5l1 2m-1-4l1 1m1-4l-2 1m4-3l-2 1m4 3l-2 1m3 2l-1 2m65-4l1 0m-1 3l1 1m13-2l2 1m4-2l-1 2m16-6l2 1m10-1l-2 1m4 5l2 1m18-2l1 0m19-1l1 0m4-1l0 1m6-2l2 1m-2 1l0 1m2-9l0 1m44 2l0 1m13 4l-2 1m10 0l1 1m1-2l2 1m13-1l2 1m16 0l1 1m4-9l2 1m0 6l1 2m5-9l2 1m0 6l1 0m-447 13l0 1m5-1l1 0m14-10l0 1m5 6l1 0m-1 0l1 2m3-7l1 0m5 6l0 1m4-9l1 0m5 9l-1 2m10-9l-2 1m16 7l2 1m10-1l1 1m4-2l-1 2m24-5l-2 1m10 0l1 0m12-6l-1 2m2 0l0 1m3 2l1 0m5-2l0 1m5-5l-1 2m2 4l1 0m5-6l1 0m3 2l1 0m37 7l0 1m8 0l1 1m26-1l0 1m33-10l0 1m4 6l0 1m1 0l0 1m3 1l1 0m20 0l-1 1m7-11l1 2m8-1l1 0m-1 0l1 1m15 6l0 1m12-7l0 1m14-3l1 2m1 3l1 1m0-5l1 0m9 8l1 0m0-2l-1 2m9-3l0 1m2-1l1 1m32-7l1 1m0 9l2 1m4-5l1 1m9 0l-1 1m1-2l0 1m2 3l1 0m3-6l1 2m9 1l-1 1m13-7l1 2m4 4l0 1m1-9l1 1m-437 17l-1 1m11-6l1 0m9 1l1 0m18-1l-1 2m118 8l0 1m41-1l1 0m17-2l-2 1m5-3l0 1m8-5l2 1m-1-3l1 0m0 8l1 1m8-8l1 2m3 5l1 1m3 1l1 2m5-5l1 1m10-6l-2 1m34-3l2 1m14 8l1 2m5-1l-1 2m1-11l-2 1m2-3l0 1m4 0l1 0m0-1l-1 2m10 8l1 1m31-8l-2 1m14 2l0 1m8-2l1 0m10 0l1 0m12 2l1 0m-269 15l1 1m4-9l1 2m45 7l-1 2m8-10l2 1m5-4l1 1m7 7l0 1m5 0l-1 1m5-3l1 0m-1 4l0 1m11-1l0 1m4-3l1 0m4 2l0 1m18-8l1 2m0-2l0 1m3-2l1 0m8 2l1 2m18-5l1 0m8 3l0 1m18 0l-1 2m5-3l-1 1m2 2l-2 1m5-8l-1 2m13-2l-1 1m4 6l1 0m14 0l1 0m6-6l0 1m26 1l0 1m4 5l1 0m0-4l0 1m4 3l1 0m-1-1l0 1m10-10l1 1m0 9l-2 1m7-1l-2 1m-276 8l-1 1m14 0l1 0m7-4l1 0m1 7l-2 1m7-9l1 1m3-3l0 1m4 1l-1 2m4-1l-2 1m2 1l-1 1m1 2l2 1m3 0l0 1m18-3l1 0m11-6l-1 2m3 4l-1 1m1-4l-1 2m7-6l1 2m8 4l2 1m-2-4l2 1m-1-4l1 1m4 9l1 1m6-7l1 1m20-3l-1 1m30-2l2 1m1 5l0 1m13-1l2 1m-1-6l0 1m130-2l-1 1m-456 14l1 0m74-3l0 1m87 0l2 1m1 3l-2 1m5-3l1 0m2 4l2 1m2-2l-2 1m11-1l1 0m-1-3l1 0m0-5l1 2m-1 5l1 2m13 0l0 1m25-9l-1 1m6 7l1 2m6-10l2 1m2-1l-1 1m3 8l1 1m1-5l-1 2m2-7l-1 1m8 9l1 0m3-2l0 1m3 1l-1 2m51-2l1 0m3-1l1 0m6-2l2 1m13-9l-1 1m14 3l2 1m18-4l-2 1m17 9l1 2m9-4l-1 1m43-9l1 0m1 0l-2 1m6 2l1 2m4-6l-1 1m-330 16l-1 2m34-7l1 0m4 4l-2 1m6 1l1 2m0-8l-2 1m12 2l2 1m-1 3l1 0m3 3l-1 2m8-5l-1 2m10-9l-1 1m12 5l-1 2m20 2l-1 2m5-8l0 1m1-2l2 1m17-4l-1 2m66 8l0 1m10-8l0 1m12 2l1 2m-1-5l-1 1m10 5l1 0m98-2l1 0m16 2l0 1m0-9l1 1m1 5l1 0m0-2l-1 1m-384 16l0 1m71 0l1 0m2-11l1 0m4 0l0 1m12 10l1 0m22-5l-1 2m6 1l1 0m3 2l-2 1m26-4l0 1m7-3l1 0m26-4l1 2m1-2l1 0m1 7l1 0m54-5l0 1m2 1l1 1m13 3l0 1m4-5l0 1m0-2l-2 1m6 4l-1 1m106-2l0 1m11 0l-1 2m-297 2l1 0m3 7l2 1m3-8l0 1m13 4l0 1m9-1l-1 2m14-8l2 1m12 0l0 1m6 1l-2 1m11-2l-1 1m8 5l1 2m14-8l-1 2m7 3l1 2m5-9l0 1m7 1l2 1m34 2l1 0m7 0l1 0m127-6l0 1m7 7l-2 1m8 1l2 1" stroke="#8f95bc"/>
<path d="M66 941l0 1m7 5l0 1m3-4l1 0m3 2l-1 1m31-9l-2 1m6 4l0 1m18-4l1 0m29 1l-1 1m7 2l-1 2m19 1l1 0m11-9l1 2m1 7l1 0m1-3l0 1m5-6l-2 1m8 0l-1 1m3-3l1 1m6 7l0 1m0-8l-1 2m1-1l2 1m9-4l2 1m4-1l1 0m3 9l1 1m13-1l-1 1m1-3l2 1m6 0l-1 1m5-2l-1 1m9-8l1 2m2 6l0 1m9-5l1 1m5 1l1 2m0-7l0 1m8 0l-2 1m7-1l1 0m12 1l1 0m10 7l0 1m30-3l1 0m20-1l1 0m43-7l1 2m3-2l1 0m4 7l0 1m5-4l1 0m0 5l1 1m11-3l0 1m0-7l-1 1m15 2l0 1m15 5l-1 1m17-11l1 0m-427 14l-1 1m2 0l1 0m19 4l-2 1m5-3l2 1m1 4l1 2m8-3l1 1m5-11l-2 1m6 7l1 1m1 1l0 1m9-7l1 1m3 2l0 1m6 1l1 1m-1-9l1 0m13 4l0 1m6-3l1 0m9 2l-2 1m3-1l-1 1m2-6l-1 1m21 5l1 0m5 0l1 1m14 4l0 1m14-8l1 1m16 5l1 0m0-4l-2 1m8-1l-1 1m5-6l1 2m2 7l0 1m3 0l-1 2m1-12l1 0m17-1l-1 1m10 8l1 0m0-4l1 2m11 0l-1 2m3-1l1 2m21 0l1 1m13-4l1 0m11 0l1 1m27-2l1 0m14-4l-1 1m5 8l-1 2m7-11l-1 1m1 3l1 1m13 2l-1 2m3-3l1 1m3-9l-1 2m6-1l0 1m9 4l-2 1m5 0l-2 1m9 3l1 2m6-3l1 2m12-1l1 2m1-2l0 1m14-3l1 0m3-6l1 0m-419 14l0 1m3-2l-2 1m17 0l1 2m2-1l2 1m3-4l2 1m20-1l-2 1m27 1l2 1m-2 4l1 2m16-6l-1 2m15 1l1 2m2-9l-1 2m13 7l1 1m0-9l-1 1m24-4l1 0m30 0l1 1m-1 10l1 0m5-4l1 1m4-4l1 0m16 7l2 1m3-10l1 1m11 1l2 1m0-1l-1 2m14 1l1 0m9-6l-1 2m15-3l1 1m0 7l-2 1m4 0l0 1m12 1l1 0m12-10l0 1m17 6l1 0m7 2l1 0m10 1l-1 1m15-4l-1 2m31 0l-1 2m1-2l1 1m2-3l-1 1m7-3l-1 1m2 1l1 1m7-4l-1 1m25-2l-1 2m-414 9l1 1m7-1l1 0m2 8l1 0m7-2l-1 2m18-5l-2 1m5-5l2 1m4 1l1 0m23 4l2 1m5-1l-1 2m12-3l0 1m7 0l1 0m3 1l0 1m18 0l1 0m2-1l1 2m21-11l0 1m2 5l-2 1m3 1l-1 2m8-5l1 2m6 2l1 0m8-9l-1 1m16 2l0 1m3 3l1 2m16-4l1 0m4 2l1 2m13-5l-2 1m3 3l1 0m15-5l-1 1m9-2l1 1m4 4l-1 1m13-3l-2 1m10 5l-1 1m6-5l-1 1m5 1l0 1m1-1l-1 2m7-9l0 1m0 1l-1 1m2-4l1 0m11 8l1 2m4-3l1 2m6-9l0 1m43 3l1 1m4 1l-2 1m2-7l1 2m13-3l1 2m0 3l1 1m3 1l-2 1m7 3l1 1m5-2l-1 2m2-2l0 1m6-8l2 1m2 5l-2 1m5-1l1 1m6-1l0 1m15-8l0 1m2-1l-1 1m5-1l0 1m5-1l-1 2m8 0l0 1m7 1l1 1m-445 7l0 1m11 5l-1 1m4-4l-1 1m3 3l1 2m-1-5l1 2m2-7l1 0m6 4l-2 1m4-6l1 0m1 1l1 0m1 8l1 1m-1-3l1 1m-1 3l1 1m4-9l-1 2m6 5l1 2m14-3l0 1m7-10l2 1m10 5l-1 2m3-3l1 2m3-7l-2 1m2 10l1 2m1-12l0 1m9 0l1 1m1 1l-1 1m3 4l0 1m1-4l1 2m16-1l-1 1m9-4l1 0m6-2l0 1m2 2l2 1m10 0l2 1m3 4l1 0m4-9l0 1m1 3l1 0m7 4l1 1m3-2l-1 1m5-10l1 0m1 4l-1 2m5-5l0 1m3 2l1 2m19 4l1 2m0-7l2 1m2-6l1 0m28 5l-2 1m3 3l1 0m38-7l-2 1m18 1l-1 1m16 5l-2 1m14-9l-2 1m7-2l-1 2m11-3l1 0m3 8l-1 1m4-7l1 0m10 8l0 1m4-1l1 0m1-10l0 1m2 10l-1 1m2-5l0 1m4-4l1 2m23-1l0 1m1-3l0 1m3-3l1 0m14 10l1 0m8-1l1 1m12-4l2 1m-1-5l1 0m-434 16l1 1m4-1l2 1m0-4l1 0m5-1l2 1m0 2l0 1m5-3l0 1m2-2l1 0m25-1l0 1m3 6l1 0m1-8l1 0m2 8l1 0m11 2l1 0m2-9l0 1m1 4l1 0m22 3l1 1m3-5l1 0m6-6l-2 1m10 8l1 1m2-7l0 1m0-2l0 1m11 6l0 1m2-4l1 2m0-8l1 1m16 2l2 1m14 0l1 1m2-3l1 1m8 7l0 1m5-11l-1 1m6-1l0 1m10 9l1 0m0-8l-1 2m6 0l0 1m9-2l2 1m8-1l-2 1m13 3l1 1m5 2l-1 2m5-4l1 1m18 2l1 0m5-10l1 0m0 7l-1 1m12 1l1 1m12-1l1 2m-1-4l1 2m2-7l0 1m9 4l1 2m-1-9l1 2m11 1l1 2m6-6l-1 1m9 5l-2 1m48 4l1 1m1-5l0 1m18 3l-1 2m14-2l1 2m14-4l1 1m7-4l0 1m1-3l1 0m-1-2l2 1m0 1l-1 1m-445 15l1 0m5 0l0 1m3-9l-1 2m6 2l1 0m-1 5l1 0m7-5l1 0m4 1l0 1m1-6l1 0m-1 1l1 0m6 9l1 0m5-3l2 1m7 3l0 1m13-8l-1 2m2 0l-2 1m10 2l0 1m9 0l-1 2m1-12l1 2m2 8l1 0m3-2l-1 1m10 0l-1 1m3 0l1 2m1-8l0 1m1 1l1 0m1 2l0 1m1-7l-1 2m17 1l0 1m13 1l0 1m4-2l1 0m2-4l0 1m0 7l1 0m11-4l-2 1m4 0l1 0m-1-6l-2 1m5 4l-1 2m7-1l-2 1m8 2l1 2m-1-3l1 0m9 2l-2 1m8-1l1 1m10-4l1 0m4-6l1 1m7-2l1 0m7 5l1 2m9 1l-1 2m27-3l1 1m2-3l2 1m4 0l1 0m9 4l1 0m2-9l1 0m11 5l1 0m4 1l1 0m0-7l2 1m5 4l-1 1m5 0l-1 2m13 0l2 1m0-8l0 1m9 3l1 0m1-6l-1 1m8 10l1 0m2-2l1 0m5-7l0 1m6 8l1 2m7-13l1 2m4 1l2 1m2 4l0 1m4 0l-1 2m4-3l2 1m2-9l-1 2m3 8l2 1m7-3l1 0m-1 2l1 2m1-5l1 2m0-2l1 2m22-8l1 0m1 2l0 1m1 4l1 2m15-4l-2 1m4-1l0 1m0 1l1 0m1 2l2 1m1 0l1 1m4-4l1 2m3-9l-1 1m4 8l1 1m-1-9l1 2m-453 16l0 1m3-5l-2 1m4-5l-1 1m3 2l0 1m13-1l0 1m42 4l1 2m18-10l1 1m36 2l-1 2m9 4l1 2m2-2l1 2m2-9l1 0m2 9l1 0m4-10l0 1m6 8l-2 1m17-5l-1 1m2-1l1 0m17-2l1 2m3-3l-2 1m2-4l0 1m14 0l0 1m9 3l-1 1m5-3l0 1m2 6l-1 2m5-1l1 0m8 0l0 1m5-2l1 2m0-6l0 1m6-2l0 1m9 1l2 1m13 1l1 1m1-6l-2 1m18 4l0 1m4-4l2 1m-1-7l-1 1m3 0l-1 1m8 2l0 1m6 1l1 2m2-4l1 2m14-1l1 1m7 2l-2 1m12 2l1 1m15-9l1 1m4-3l1 2m3 3l0 1m12-5l1 1m4 5l2 1m1-4l1 0m-1 2l-1 2m15-9l-2 1m9 8l-2 1m8-2l1 0m0 0l1 0m1-1l0 1m5-1l0 1m18 3l1 0m17-1l-1 2m-452 9l0 1m7-2l0 1m5-6l2 1m4 4l1 1m0-9l2 1m-1 6l1 0m19-5l1 2m5 2l1 2m0 2l0 1m1-6l-2 1m7 5l-2 1m5-12l-2 1m3 10l-1 2m7-10l1 1m-1 7l1 2m1-8l1 1m5-1l1 2m6-3l1 1m3-5l-2 1m11 10l1 0m6-5l-1 1m14 1l0 1m0-7l1 0m6 4l1 0m2 0l1 1m11-2l-1 1m3-1l-1 2m3 1l0 1m11 0l-2 1m4-7l1 0m12 2l0 1m4-4l0 1m1 2l1 0m-1 5l0 1m15 0l1 1m3-3l1 1m0 1l-2 1m5-12l1 0m9 6l0 1m2-4l1 2m9 4l0 1m3-4l-2 1m21-6l-2 1m4 6l1 0m8 1l1 1m19-6l1 0m7-1l-2 1m11-1l2 1m5-2l0 1m0 2l1 0m9-5l-1 1m16 0l0 1m0-2l1 0m26 4l1 1m0-4l2 1m4 4l1 0m7 1l0 1m1-6l-1 1m14 7l0 1m19-10l2 1m-1 7l1 2m8-3l1 1m0-2l1 1m39 0l1 1m4-3l1 0m4-6l1 0m0 2l1 0m0-1l1 2m-444 12l1 0m2 3l1 2m18-1l0 1m1-5l1 1m2 2l1 2m2 3l-1 2m7-9l0 1m16-3l1 0m6 1l1 0m0 0l2 1m-1-2l2 1m5 4l0 1m2 3l-1 2m4-11l1 2m1 2l-1 1m4-3l-1 1m3 3l1 1m8 1l0 1m3-5l0 1m3-6l0 1m6 5l2 1m2-5l-2 1m10 5l-1 1m6-5l2 1m7-1l1 2m1 4l1 2m10-9l0 1m6-3l0 1m4 2l-1 1m3 4l1 0m12 1l1 1m15-4l2 1m17 1l1 0m3 1l0 1m6-8l2 1m23 6l1 0m1-3l1 1m15 0l1 2m0-11l-2 1m15 2l1 0m15 5l-1 2m6-4l1 1m9-7l1 1m47 9l2 1m5-6l1 0m1 4l1 2m11-1l1 2m0-12l0 1m6 8l0 1m24-8l0 1m5 2l2 1m4-3l1 1m8 5l-1 2m3-7l2 1m16 1l1 0m-435 6l1 1m8 6l-1 2m5-8l0 1m14 9l1 1m25-5l1 1m15-1l-2 1m6 1l1 0m6-3l2 1m7 0l2 1m-1-6l1 2m2-3l2 1m1 9l0 1m14-5l1 0m3 0l0 1m4-5l0 1m3 2l0 1m2 0l0 1m4 1l1 1m15-6l-2 1m5-1l1 2m5 5l-2 1m4-4l0 1m8-8l2 1m0-2l1 1m4-1l1 2m-1 0l1 1m41 0l1 2m4-5l1 0m38 8l1 2m19-7l0 1m3 2l-2 1m3-5l-2 1m7 1l0 1m12-3l1 1m6 0l1 1m5-1l0 1m16 6l0 1m1-10l-2 1m10 0l-2 1m13 8l1 1m5-5l2 1m1 3l2 1m7-8l1 0m28-3l1 1m3 2l1 1m24 6l1 0m0-3l0 1m1 0l-1 1m2-4l0 1m2 4l0 1m4-5l-1 1m-442 13l0 1m7-7l-1 1m2 4l-2 1m7-5l1 0m3 5l2 1m-2-8l-1 2m4 0l1 0m2 5l1 0m30 0l0 1m15-7l1 0m0 3l0 1m3 4l1 0m3 0l0 1m3-4l0 1m7-4l-2 1m8-2l1 0m-1 2l0 1m3-5l2 1m3 0l2 1m2 5l1 1m2-8l0 1m12-1l1 0m5 3l1 0m0 3l-1 2m16 1l-2 1m20-8l-2 1m3 2l0 1m0 1l0 1m5-7l2 1m5 3l-1 2m20-9l0 1m1 4l-2 1m4-6l0 1m12 0l1 1m0 4l0 1m10-7l1 1m0 3l0 1m19 3l1 0m1-3l1 1m34-5l1 1m2-2l1 2m1 7l0 1m9 0l0 1m10-8l1 1m5 1l2 1m24 5l0 1m1-3l2 1m-2-3l0 1m11-7l1 0m1 6l-1 1m17 3l1 0m27-11l-1 2m37 1l-1 1m7 1l0 1m16-5l1 0m-445 21l-1 2m17-3l0 1m18-2l1 0m9 3l1 0m0-9l0 1m2 0l-1 1m2 0l-2 1m25 3l1 0m1-8l-1 1m6-1l1 2m0 4l1 0m-1-4l0 1m11 6l-1 1m6-2l1 1m5 2l1 0m2-11l1 2m3 5l0 1m8-7l0 1m2 4l0 1m1-7l1 0m1 2l2 1m-1 8l-1 1m3-7l1 2m15-1l0 1m0 1l1 1m19-7l-2 1m4-2l1 2m0 6l1 2m33-7l-1 1m3-2l0 1m12 5l0 1m27 0l-1 1m20-6l1 1m4-1l1 0m1 3l1 1m3-6l2 1m2-2l0 1m5 3l1 0m13-6l2 1m21 2l-1 2m11 0l2 1m23-6l-1 1m2 8l1 1m10-4l1 0m5 4l1 1m0-3l1 0m3-3l1 1m0-1l1 1m4-4l-2 1m13 2l0 1m21 1l1 0m29-7l1 2m5 1l1 2m-1 4l0 1m-444 7l-2 1m3-5l-2 1m5 6l1 0m6-2l2 1m0 4l-1 2m19-9l0 1m9 5l1 0m3-9l-1 1m1 5l2 1m0-3l1 0m3-5l2 1m-2 0l-1 1m4 0l-1 2m3-2l-1 1m4 1l1 0m2 2l0 1m10 3l-1 2m7-3l1 0m17-2l-1 2m34-5l2 1m13-5l1 0m1 7l1 2m4-6l1 0m43 1l2 1m-1-2l0 1m14 4l1 0m32-7l1 2m2 2l1 2m5-1l2 1m-1-2l1 0m13 3l1 1m6-7l-2 1m8-2l0 1m1 5l-1 2m7-7l1 2m6 2l0 1m4-7l-1 2m25 1l0 1m5 7l2 1m-2-4l-1 2m9 0l1 0m11 0l1 0m3-8l-1 2m4 5l0 1m13 0l2 1m8-7l-1 2m5 1l0 1m8-6l1 0m1 8l1 2m3-3l0 1m39 0l1 2m-423 5l2 1m4 1l1 0m0-7l-1 1m1 2l1 0m0 4l1 0m5-6l1 1m21-1l-2 1m4-2l2 1m8 0l-1 2m113 4l0 1m24-3l1 2m7 3l-2 1m35-5l0 1m1 0l1 1m22-1l1 2m5 1l-1 1m8-8l1 0m13 0l2 1m-2-1l1 0m0 0l1 2m23 5l1 2m2-10l-1 2m12 2l-1 1m4-1l1 1m7 4l0 1m14-4l-1 1m3-7l-1 1m4 0l2 1m4 3l-2 1m10-7l0 1m12-2l1 2m4 4l-2 1m14-7l1 0m0 2l1 2m2-2l2 1m-1 4l0 1m0-2l1 0m9 2l1 0m8 2l1 0m4-1l2 1m11-4l1 0m-430 10l-1 1m143 1l1 1m0-1l-1 2m2-2l-1 2m7-1l0 1m11-3l2 1m45 1l1 0m1 4l0 1m22-7l-1 1m6 0l1 0m3 3l-1 1m7 0l1 0m13-9l1 1m3 7l1 0m-1-2l1 2m11-8l2 1m-1 8l1 1m8-6l0 1m3-1l-1 2m5-4l1 1m6 2l1 0m7-1l1 0m10 2l-1 2m2 0l-2 1m16-3l0 1m2-5l1 0m8 5l0 1m3-5l-2 1m43 3l-1 1m2 0l1 1m7-9l1 1m1 2l-1 2m14-1l1 1m-285 17l1 0m11-1l1 2m1-7l0 1m2 3l1 0m12-2l1 0m6-6l2 1m1 4l0 1m7-6l1 0m2 8l1 1m11-4l-1 1m23 3l2 1m7-4l-1 1m4-1l1 2m1 0l-2 1m16-3l-1 2m1-4l-2 1m14 3l-1 2m4-8l1 0m4-1l1 0m6-2l1 0m18 10l-1 1m27-5l-1 2m1-8l0 1m2 2l1 1m16 6l-1 1m73-2l-2 1m21-7l-2 1m15-1l1 0m-299 12l-1 1m4 0l0 1m1 2l1 1m2 0l0 1m0-6l1 0m11-1l-2 1m12 1l-1 1m4-2l1 0m4 5l0 1m0-4l-2 1m4-1l0 1m20-3l0 1m20 5l-1 1m7-7l2 1m17 0l2 1m43 1l1 2m25-2l-1 2m17-6l1 0m38 0l1 0m17 6l1 2m3-8l1 0m37 2l1 2m5 3l1 0m-375 13l1 2m82-7l0 1m8 1l-1 1m4-6l1 0m0-2l-1 2m4 9l-1 1m7-8l1 0m1 7l-2 1m13-8l-2 1m13-1l1 1m6 4l1 2m41-2l-1 2m16 0l1 0m2-7l-2 1m3 4l-1 1m56-4l0 1m4-7l-2 1m99 6l0 1m16-1l0 1m5-3l2 1m-310 12l1 0m6-6l-2 1m5 8l1 1m1-9l1 1m8 5l1 0m2 0l-2 1m4-7l1 2m4-3l1 0m1 11l1 2m1-4l0 1m14-6l-1 1m3-1l0 1m1 6l2 1m-1-6l0 1m1 2l1 1m2-4l-2 1m8 0l-1 1m8 2l-1 2m13-2l-2 1m24-2l2 1m2 1l-1 1m6-6l-1 2m4 3l2 1m47-12l1 0m10 9l0 1m3-1l2 1m4 0l1 0m1 1l1 2m0-5l1 2m20-8l-2 1m8 2l-1 1m87 4l1 1m6-10l1 0m-297 20l1 0m3-5l0 1m7-2l1 2m12-2l0 1m9 1l1 0m5-4l1 2m0 0l-1 2m3 4l0 1m9 0l-1 2m3-12l2 1m3 8l2 1m-1-2l0 1m12-6l-2 1m8-3l1 2m1 0l1 0m4 2l-1 1m5 4l0 1m0-10l0 1m13 4l-2 1m52 0l-2 1m17-3l-1 1m2-6l0 1m5 8l0 1m91-7l1 0m16-2l-1 2m2-1l-2 1m7-1l1 0m1 6l2 1m2 0l1 0m4-6l-1 2m6-2l-1 1" stroke="#9ca2c6"/>
<path d="M64 944l-1 1m23 1l1 2m24-8l0 1m2 4l1 0m5-1l1 0m0-4l0 1m11 3l1 0m4-7l-1 1m3-2l1 0m0 9l2 1m2 0l2 1m5-4l1 2m4 1l-1 1m1-5l-2 1m11-1l1 0m7-3l0 1m2 1l1 1m1 3l-2 1m4-9l1 2m1-2l1 2m20 0l1 1m10 4l0 1m7-6l-1 2m2 2l-1 2m2 0l1 1m1-3l2 1m14-5l1 0m4 2l-1 2m2 1l-1 2m5-5l1 0m13 2l0 1m9-5l-2 1m2 1l-1 2m2 1l1 1m4-5l-1 1m15 6l2 1m24-2l-1 1m2 0l1 2m2-8l1 0m5 2l-1 2m6-1l1 1m-1 0l1 0m10-8l0 1m9-1l-1 2m3 0l1 2m21 6l-2 1m12-12l2 1m-1 0l-1 1m12 8l-2 1m11-3l0 1m23 1l-1 1m5-6l1 1m0-2l-1 1m7 3l1 1m24-8l-1 1m3 4l1 2m16-6l0 1m1 1l1 1m12-3l1 0m14 2l1 0m-454 8l0 1m12 6l2 1m8 2l1 0m5 1l-1 2m17-5l0 1m14-3l1 0m3 0l1 0m1-5l1 1m3 5l0 1m2-2l0 1m3 2l1 1m0-4l1 0m7 1l1 1m3 2l1 2m9-5l0 1m3-2l0 1m2-3l-1 2m24-4l1 0m5 5l0 1m1-7l1 0m0 6l0 1m4 1l1 1m6-2l1 0m0-3l-1 2m4 1l-1 2m8 0l0 1m10-8l0 1m5-4l-1 1m5 2l1 2m3-3l2 1m1-1l-2 1m8 8l1 2m3-6l-2 1m15 3l1 2m13-11l-2 1m13 4l-1 1m8-8l0 1m0 4l0 1m4-6l1 0m-1 2l1 2m2 3l1 0m1 3l1 2m2-1l0 1m9-4l-1 2m5-2l1 0m7 1l-1 1m3-3l1 2m5-5l1 0m-1 0l2 1m12 1l-2 1m18 0l1 0m11 1l1 1m6-6l0 1m3 7l0 1m25-9l2 1m-2 4l-2 1m19-4l1 1m0-3l1 2m-1-4l0 1m1 1l-1 2m15-4l1 2m2 6l2 1m12-7l1 1m0 7l0 1m14-10l1 1m6 3l1 0m1-3l1 2m7 2l1 1m10-4l-2 1m10-5l1 2m-459 21l2 1m5-9l-2 1m2 0l1 0m1 2l1 2m6-5l1 0m8-2l2 1m-1 6l1 0m24 0l-1 1m11-4l0 1m9-3l-1 1m42 1l1 0m0 1l-1 1m7-5l0 1m10-2l0 1m14-2l-1 1m10 1l1 0m1 7l1 0m2-3l1 1m0 1l2 1m-1-3l-1 1m5 4l1 1m4-11l-1 1m6 1l0 1m5 7l2 1m1-8l-2 1m3 5l1 1m0-6l1 1m7-6l0 1m11 6l1 0m3-6l-1 2m7 0l-1 1m13 2l-2 1m5-2l-1 2m30-3l-1 1m9 3l-1 2m8-8l1 1m8 2l-1 1m15-4l1 0m10 2l-1 1m3-5l0 1m22 7l1 1m10-8l1 2m0 8l-1 1m18-11l1 2m2 7l2 1m3-11l1 1m29 3l1 0m44-4l-2 1m9 6l-1 1m-445 14l1 2m28-8l-1 2m2-6l0 1m9 3l1 0m7 6l0 1m3-1l1 0m1-2l-1 2m4-9l1 0m18 3l1 0m18 7l-1 1m4-1l1 1m0-8l1 0m3-3l1 2m-1 1l1 0m4-2l1 1m5 8l-1 1m13-2l-1 2m2-6l-1 1m7 3l-1 2m12-5l1 0m1-2l1 0m2 3l0 1m11-5l2 1m1-5l-2 1m2 9l1 0m2-8l-1 1m12 8l0 1m5-8l-1 1m4 1l0 1m0-4l-2 1m2 3l0 1m11 0l1 0m0-5l0 1m0 5l-1 1m3-7l1 0m5 5l2 1m9 1l-1 2m15-11l1 0m3 10l-1 1m11-7l-2 1m2 2l1 0m3-5l-1 2m10-5l1 0m4 5l0 1m17 3l0 1m19-4l0 1m2-7l1 0m10 7l-1 1m21-1l1 0m0 2l1 1m6-8l-1 2m5 0l-1 2m2-1l0 1m5 4l-1 2m5-5l0 1m2 2l0 1m9-5l1 0m3 3l0 1m0-4l2 1m-2-1l2 1m-1-2l1 0m17 6l-1 1m6-1l1 0m-1-3l1 1m2-7l-1 1m-388 12l-1 2m1 3l1 1m3-9l1 0m24 0l0 1m4 2l1 2m2-4l0 1m3 8l2 1m0-9l0 1m8 2l1 2m6-4l1 2m-1-2l1 1m14 2l1 1m1-7l1 0m6 4l-2 1m7-1l2 1m-1 1l-1 1m11 1l-1 2m6-1l1 1m16-8l0 1m11 0l2 1m1-4l-1 1m11 8l-2 1m9-8l-1 2m14 0l-2 1m7-2l-1 2m5 0l1 0m1 3l1 0m13-2l0 1m8-1l2 1m-2-1l1 1m5 1l1 0m0 2l-1 1m18-9l1 0m0 2l0 1m3-3l1 1m3 1l-2 1m10-2l-2 1m10 4l2 1m13-2l2 1m-1 1l1 0m0-5l1 1m11 5l-2 1m3-10l-1 2m5 4l-1 2m5-8l1 1m4 1l0 1m6-2l-1 1m5 7l1 1m4-10l1 0m5 10l1 2m0-5l1 0m15 2l1 0m12-2l2 1m2-1l0 1m12-3l0 1m6 4l0 1m1-3l1 0m2-3l-1 1m5-7l0 1m14 8l0 1m19-9l-2 1m8 7l-1 2m14-6l1 1m9 5l0 1m16-11l-2 1m-448 20l1 1m11-3l-1 1m3-2l-2 1m9 0l1 0m6 0l1 1m1-1l-2 1m17-5l1 1m25 2l0 1m3 2l-1 1m6 0l1 0m1-6l1 1m1-6l1 0m1 10l2 1m20-6l-1 2m13 1l-1 2m1-9l-2 1m23 6l1 2m0-9l1 1m4 6l2 1m8-7l1 0m4-1l0 1m3 8l1 0m1 1l0 1m0-8l0 1m7-5l0 1m0 2l1 0m1 7l0 1m5-4l0 1m9-5l-1 1m1 7l-1 1m4-6l-1 1m9 3l0 1m0-4l0 1m15-4l-2 1m11 1l2 1m18 4l2 1m0-8l1 0m8 7l0 1m5-4l1 1m25-8l1 2m17-3l-1 2m9 6l-1 1m13-6l1 2m11-5l1 0m13 3l1 0m8 1l1 0m1-3l0 1m7 7l1 0m3-4l1 0m2 6l1 2m20-11l1 0m18 5l1 2m2-1l-2 1m6-9l0 1m6 3l-1 2m8 1l1 0m2-4l-1 1m13 2l-1 2m5-7l2 1m-451 16l0 1m1 3l0 1m3-5l-1 1m5 3l1 2m16-10l1 1m2 0l-1 2m10 1l1 2m8-5l2 1m6-1l0 1m1 2l0 1m1-4l0 1m5 2l0 1m4 3l1 0m2-6l-1 1m6-5l1 0m12 11l0 1m0-11l-1 1m4 7l0 1m1-1l1 0m12 1l-2 1m3-1l1 2m0-5l1 2m7-9l0 1m2 9l0 1m2-6l-1 1m9 0l-2 1m6-1l-2 1m6 0l2 1m-1-3l1 0m0 0l1 0m3 6l1 0m5-11l-2 1m3 8l-1 2m14-1l1 1m10-1l-1 1m5-2l-1 1m8-2l-2 1m7-8l2 1m-1 8l0 1m5-6l1 0m6 2l0 1m5-1l1 2m0-1l2 1m9-9l0 1m26 7l0 1m5 0l0 1m1 0l1 2m-1-3l0 1m3-3l2 1m8 1l-1 1m22 1l2 1m-1-1l1 2m6-2l1 0m6-5l-1 2m4-2l0 1m26-1l0 1m2-7l1 0m2 10l1 0m5-5l1 1m20-6l2 1m13 3l1 0m7 6l-2 1m13-3l1 2m3-10l1 2m3 5l2 1m0-8l0 1m9 3l1 1m6 6l-2 1m4-5l1 2m7-4l-2 1m7-6l1 1m-433 12l0 1m1 1l-1 2m6 3l-1 2m8-3l-1 2m3-4l0 1m4-5l1 2m5 4l1 0m6-3l1 2m19 0l2 1m3 3l-1 1m10-11l2 1m3-1l0 1m4 3l2 1m0 5l1 0m1-2l-1 1m2 2l1 0m5-2l1 0m4-7l-1 1m2 5l2 1m3-4l2 1m8 1l-1 2m4-2l2 1m1-6l0 1m2 2l1 0m19-1l0 1m13 4l1 1m1-5l1 2m4-4l0 1m4 1l1 1m0-1l-1 1m2 0l1 0m7-6l2 1m5 2l1 2m15 5l0 1m3-4l0 1m13-1l-2 1m20-5l0 1m6 2l0 1m8 3l-1 1m14-3l0 1m1-3l-2 1m20 3l-1 1m13-8l0 1m2 1l0 1m31-6l2 1m-1 5l-1 2m11-8l0 1m10 10l1 0m12-8l2 1m7-4l1 0m8 3l2 1m2 7l0 1m7-1l2 1m6-7l-2 1m10 5l-1 1m7-6l1 2m1 0l0 1m14-2l0 1m2-1l1 0m8 3l1 1m-431 4l0 1m4-3l1 1m6 3l0 1m2-3l-1 2m5 3l1 0m19-1l0 1m7 1l0 1m3-4l0 1m2 0l1 1m8-8l-2 1m9 0l2 1m-2 3l-2 1m3 1l1 0m14-7l1 0m2 1l1 0m21 6l-1 2m9-7l2 1m8-2l2 1m-1 9l2 1m6-2l1 0m3-2l-2 1m17-9l0 1m2 6l2 1m0-4l-1 2m17-4l0 1m6 1l1 0m8-1l1 1m2 0l-2 1m27 2l-2 1m8 1l2 1m19-1l1 2m6-10l-1 2m5 1l1 0m1-4l2 1m31 9l-1 2m9-3l0 1m40-8l0 1m18 0l1 1m2 5l1 0m2-4l2 1m17 3l1 0m1-4l1 0m4-1l-1 1m5-2l1 0m5 1l0 1m3-5l1 2m10 1l0 1m17 2l2 1m0 0l-1 1m2-7l-2 1m18 4l1 1m5-1l-1 2m-441 7l1 1m0 5l1 2m0-6l0 1m9-1l2 1m3 0l-2 1m41 2l0 1m1-10l2 1m-1 6l1 1m1 0l1 0m49-1l1 0m7-1l-1 2m4-4l-2 1m11-5l1 0m9 7l0 1m5-6l-1 2m4 2l2 1m2-2l2 1m0-2l1 1m0 0l0 1m18-1l1 2m5 0l-1 2m4 2l0 1m0-9l2 1m1 1l-2 1m7 4l0 1m4-5l1 0m1-2l-1 1m28-2l-1 2m7 5l-2 1m4-6l-1 1m3-3l1 0m2 8l0 1m5-10l1 2m3-4l0 1m33 6l1 2m55 1l-2 1m8-11l-2 1m8 9l1 1m2-5l0 1m5-7l1 1m5 10l0 1m1-8l1 1m3-5l0 1m10 0l1 0m0 2l0 1m18-1l0 1m32 5l1 0m-429 11l-1 2m3-6l1 0m3 3l1 0m8-6l1 0m4 7l2 1m5-5l0 1m5 5l1 0m14-8l2 1m8 6l2 1m0-8l-2 1m4 1l0 1m7-1l2 1m1-1l0 1m0 6l0 1m5-1l0 1m7-1l1 0m2-9l1 0m17 1l0 1m5 4l0 1m10-8l1 2m0 0l1 2m1-1l1 2m2-1l1 1m0-5l1 0m6 5l1 1m0-6l1 0m2 8l1 2m14-4l-1 1m23 1l1 1m8-10l2 1m6 5l1 0m0 0l-1 2m2 2l2 1m-1-4l0 1m0-7l-1 1m7 7l2 1m-1-2l1 0m5-5l0 1m1 6l0 1m2-4l1 0m0 4l1 1m0-2l0 1m13-11l-1 1m1 5l1 2m5-2l0 1m2-3l0 1m4 4l1 0m23-4l1 1m23-1l-1 1m2-6l0 1m5 7l-1 1m9-1l-2 1m3-2l0 1m10-4l1 0m-1-3l-2 1m10 4l1 2m2-3l1 1m16 0l-1 1m2 1l0 1m14-2l1 0m0 4l1 2m1-13l1 0m6 10l1 0m4-5l1 0m8-2l-1 1m3 4l2 1m0-3l-2 1m5 1l2 1m0 1l-1 2m21-11l1 1m25 7l1 0m3-5l1 0m0-2l0 1m7 0l-1 2m-442 8l1 0m0 0l0 1m17-1l0 1m3 5l0 1m12-5l2 1m10-2l0 1m2 4l1 2m0-1l1 2m1 1l2 1m-1-1l-1 1m5-6l2 1m-2-3l1 0m16 5l1 1m6-9l1 0m19 10l1 2m12-8l-2 1m26-1l1 2m1-4l-1 2m9-5l-1 1m5 0l2 1m-1 7l1 2m18-11l0 1m11 3l1 2m6-3l1 1m10 6l1 2m23-10l1 1m11 0l1 1m-1-3l-2 1m10 6l0 1m1-3l-2 1m8-5l1 0m8 9l1 2m1-4l-1 1m5-1l1 0m-1-2l-1 1m7 0l1 1m7-1l1 1m7-5l1 0m11 6l-1 2m21-11l0 1m28 4l-1 1m7 0l0 1m22 3l-2 1m2-1l0 1m35-8l-1 1m22-5l1 0m5 7l0 1m-439 13l0 1m6-5l-2 1m15 1l1 0m8-1l0 1m23-1l-1 1m7-2l-1 2m1-4l0 1m1-3l0 1m0-2l-1 2m6-1l1 0m3 0l1 1m11 0l-1 2m14 7l1 0m3-6l-1 2m2 1l1 1m2-1l0 1m8-6l1 0m2 8l-1 2m1-10l-2 1m7 0l0 1m1 6l-1 1m4-6l-2 1m15-4l-1 1m3-1l0 1m14 2l1 2m0 0l1 1m2-5l-1 2m5 2l-2 1m9 0l-1 2m35-1l1 0m8-6l2 1m38-3l0 1m14 8l0 1m1-12l0 1m2 6l1 2m1 1l-1 1m26-2l-1 1m7 0l0 1m11-9l0 1m7-3l1 1m3 3l0 1m23 3l1 1m8-8l-1 1m20 6l-1 2m6-2l1 0m53 3l-2 1m2-12l1 2m6 7l0 1m-443 3l-2 1m19-1l1 0m2 6l2 1m16-8l0 1m2 2l0 1m12 3l-1 2m17-9l1 2m8 3l0 1m11-6l1 0m4 10l-2 1m3-7l-1 1m3-1l2 1m5 3l-2 1m21-4l-2 1m7-2l-2 1m10-1l-1 2m6-6l0 1m17 2l0 1m1-4l0 1m25 8l1 0m5 2l1 0m-1-7l1 1m10 0l-1 1m44 1l0 1m15-3l1 1m21-5l0 1m10-2l1 2m8 4l2 1m8-5l2 1m9 6l-1 1m2-2l-1 1m3 2l-1 2m2-11l-1 2m12 3l0 1m9-8l2 1m5 1l-1 2m10-3l-2 1m11 9l-1 2m50-2l2 1m3-11l0 1m6 7l-1 1m23 1l-1 2m-447 7l1 0m0-2l0 1m7 1l1 2m6-9l2 1m5 1l0 1m3 0l-1 1m22-5l1 2m3-2l-1 2m44 2l1 0m86-1l-1 2m11 6l0 1m5-10l0 1m1 7l1 1m32-6l1 0m3-3l-2 1m24-2l1 0m1 6l2 1m7-4l-1 1m7 6l0 1m5-3l1 0m35-1l-1 1m12-5l1 0m0-3l0 1m6 0l-1 2m12-4l2 1m1 5l-2 1m46-4l0 1m32-2l0 1m3 7l1 0m6-8l-2 1m-416 14l2 1m137 5l0 1m10-4l-1 1m8-5l1 0m8-3l2 1m7-1l0 1m17 5l2 1m37-5l2 1m2 1l0 1m0-5l-1 2m16 2l1 2m2 1l2 1m3-6l-2 1m5-1l0 1m1 7l0 1m8-4l-2 1m2 2l1 0m2-5l-2 1m6-5l1 0m-1 2l0 1m9 5l1 0m11-5l0 1m19-6l0 1m1 4l1 0m6-4l0 1m8 6l-1 2m1-9l1 1m47-1l0 1m49 1l-1 2m4-4l2 1m-355 10l1 1m76 3l-1 1m7 4l-2 1m9-10l0 1m13 4l0 1m1 4l0 1m3-8l-1 1m2-3l-1 1m16 9l-1 1m7-3l1 1m0-8l-1 2m4 6l1 2m6-7l-2 1m15-3l-2 1m3-1l-2 1m8-1l0 1m29-2l0 1m5 6l-2 1m12-1l-2 1m11-6l1 0m22 6l1 2m1-1l2 1m-1-2l-1 1m3 0l0 1m4-7l0 1m10-1l-1 1m50-3l0 1m34-4l0 1m-431 20l2 1m132-2l0 1m6 1l-1 2m16-8l1 2m-1 2l-2 1m4-5l-2 1m4 5l1 1m14-1l1 2m1-6l-1 1m6-7l1 1m2 5l2 1m7-2l1 1m2-1l-2 1m12-4l1 2m8 0l-1 2m21 4l1 1m3-10l-2 1m3 4l1 0m11-1l1 1m62 1l0 1m3-8l-1 1m105 1l1 1m20-3l-1 1m-415 22l1 0m118-6l1 0m2 5l0 1m0-2l0 1m16-2l2 1m-2-8l0 1m5-2l2 1m3 6l0 1m1-8l-1 2m6 8l0 1m3-3l1 2m3-10l0 1m8 6l-1 1m3-7l1 1m7-2l1 1m32 0l-1 1m6 7l-1 1m69 1l0 1m14-11l1 0m99 3l-2 1m7 3l1 0m8-7l0 1m7 8l-1 2m5-11l2 1m-393 16l-1 1m39-2l-1 1m46 3l1 1m1 0l2 1m5-11l1 0m-1 7l2 1m-1 1l0 1m10-4l2 1m0 0l-1 2m2 2l0 1m9-1l1 0m10-4l0 1m4 0l0 1m19 1l1 0m5 0l1 2m18-8l-1 1m70 6l-2 1m3-4l-1 2m15-9l1 0m1 2l2 1m5 6l1 0m2-10l1 0m2 7l-1 1m48-7l-1 1m40 0l-2 1m10 1l1 0m3-1l-2 1m9 5l-2 1m9-9l-1 2m6-1l-2 1m-445 19l1 1m134-4l1 0m6 2l0 1m3-8l0 1m1 4l0 1m11-7l1 2m0 0l1 0m1 6l1 0m13 1l-1 1m2-4l-2 1m23 1l0 1m7-3l1 0m-1-5l-2 1m39 2l0 1m24 1l1 0m39 1l-1 1m40-7l1 0m83 6l1 0m8 1l1 2m9-8l1 0m0 4l1 1m1-3l1 0" stroke="#8188b3"/>
<path d="M57 945l-1 1m4-6l-1 1m3 4l0 1m6-4l0 1m8 0l-2 1m21-7l-1 2m20 0l2 1m9 4l2 1m1-1l1 0m-1-4l-1 2m12 3l-1 1m6-4l1 0m2-4l1 0m10 8l0 1m4-3l1 0m2-6l-2 1m5 0l2 1m3 2l0 1m11 0l1 1m10-4l0 1m2 4l-1 1m8-8l1 1m0 6l-1 1m4-7l1 0m12 2l-1 2m2 3l0 1m0-10l1 2m1 5l2 1m4 2l-1 1m8-6l-1 1m5-3l0 1m3-1l-2 1m16-1l0 1m17 0l-2 1m8 4l1 0m4 1l-1 1m7-9l2 1m10 2l0 1m14-4l1 1m53 6l1 1m23-3l1 2m3-4l-1 2m37 3l2 1m18-3l2 1m3-6l1 0m7 0l2 1m12-4l1 1m3 1l0 1m3 3l-2 1m17-4l-1 2m5-2l1 2m3 3l1 0m0-7l-1 1m-424 10l-1 1m25 9l-1 2m6-3l-1 2m8-9l0 1m20 7l1 1m0-5l0 1m1 1l-2 1m6 0l1 2m9-8l-2 1m5 3l1 2m6 1l-1 2m9-13l1 0m17 3l2 1m0 4l0 1m1 2l1 0m3-10l-1 2m3 1l1 2m13-5l0 1m6 6l2 1m1-4l0 1m6-1l-2 1m11-2l0 1m0 0l-1 2m1-7l1 0m6 5l-1 1m3 5l-1 2m7-5l1 2m4-6l-1 1m6-1l-2 1m5 6l2 1m4-10l0 1m18 7l1 0m10-3l-1 1m8-7l2 1m18 0l-1 1m5 1l-2 1m3-3l1 1m1 4l0 1m7-5l0 1m10-3l1 0m-1 7l-1 1m32-4l-1 1m10 0l1 0m4 1l-2 1m3-1l-1 1m21-8l1 0m15 6l0 1m10-4l-2 1m11 4l-2 1m5 0l1 0m21 1l0 1m9-8l-1 2m13 3l1 0m3-3l1 1m3 4l-1 2m2-1l1 0m-458 5l0 1m1-1l0 1m8 6l-1 2m6-8l-1 1m2-3l0 1m7-1l-1 2m7 3l2 1m-1-5l1 1m11 6l0 1m8-2l1 0m1-2l-1 2m4-10l-2 1m10 8l-1 2m9-1l-2 1m11-4l-1 1m3-4l1 2m25-4l2 1m-2-2l2 1m3 6l-1 2m1 1l1 0m5-3l-1 1m1-7l1 0m0 7l-1 2m9-11l1 2m2 9l-1 2m6-13l-1 2m1 6l-1 2m7-8l1 2m5 0l-2 1m9-2l-1 2m6 0l1 2m27 3l2 1m33-1l1 2m12-1l1 1m6-3l1 2m19-8l1 0m9-3l1 1m7 1l1 0m4-2l1 1m1 6l-1 2m8-5l1 0m3 2l-1 2m8 3l0 1m10-6l0 1m14-2l1 0m19 1l-1 1m11 0l1 2m1 0l-1 1m3-1l-2 1m10-9l1 0m2 1l0 1m2 2l-1 1m8-1l1 0m-1-1l1 1m26 4l-1 1m15-6l1 0m1-4l1 1m8 7l-2 1m10 2l0 1m15-7l1 0m-451 15l-1 1m9-8l1 1m19 1l0 1m4-4l1 0m14 3l2 1m3 6l-1 1m16 0l2 1m0-6l-1 2m7-6l-1 2m12-2l1 1m5 1l1 0m14-4l2 1m0 4l0 1m10-5l-1 2m9-2l0 1m3 0l-1 1m18 6l1 0m11-1l-1 2m11-1l0 1m0-9l1 1m23-1l2 1m6 6l-1 1m5-9l0 1m2-1l0 1m7 9l2 1m0-11l1 0m0 3l-2 1m4-4l1 0m1 5l0 1m1 4l1 0m-1-10l0 1m10 7l-2 1m4-2l1 0m1-4l1 0m7 4l-1 2m8-6l1 0m17-1l-1 2m46-2l1 1m1 7l1 0m15-9l0 1m2 2l2 1m4-3l0 1m7 4l-1 1m3-4l-1 2m8-3l0 1m9-1l1 0m0 8l1 0m11-6l0 1m7 1l2 1m-1-2l-1 1m32-3l-1 2m10-4l-1 1m4-2l1 0m-1 8l1 0m18-5l1 2m-456 11l1 1m2 2l-1 1m4-2l0 1m6 3l1 2m22-12l-1 2m10 4l-1 2m7-3l-1 1m3-4l0 1m11-1l-2 1m11 6l1 1m5-3l-2 1m4-1l-2 1m16-5l1 0m10 1l2 1m0-3l0 1m0-1l0 1m5 1l1 0m5 2l1 2m-1-6l1 0m3-3l1 2m11 4l0 1m5 0l1 2m1-7l-1 1m11-2l-2 1m20-1l1 0m6 5l0 1m4-7l-2 1m3 9l-1 2m5-3l-2 1m2-5l-1 1m2-5l1 2m-1-3l-2 1m3 6l0 1m1 3l1 0m16-8l0 1m38 4l0 1m14-3l-1 1m13-7l2 1m0 0l-1 1m2-1l-1 1m5-2l0 1m7 3l0 1m10 3l1 0m4-3l2 1m8 3l-1 1m4 0l1 0m6-2l2 1m-1-7l-2 1m7-2l2 1m37 8l-1 1m29-9l1 2m0 0l-1 2m32-6l-1 1m8 10l1 0m-431 10l2 1m4-9l2 1m2 5l1 1m1 1l-1 2m13-7l2 1m-2-3l1 0m0 3l-2 1m4 2l0 1m4-7l-1 2m2 3l2 1m1-3l1 2m6 4l-1 2m4-6l0 1m4-3l1 2m1-4l2 1m0 6l0 1m0-8l0 1m6 5l-2 1m11-1l0 1m1-10l1 1m1 9l1 2m6-12l1 1m8 0l1 0m14 4l1 2m1-6l0 1m1-2l2 1m0 0l1 0m1 7l1 1m0-4l1 1m1 1l2 1m-2 1l1 0m-1 0l-1 2m6-9l0 1m7 8l1 0m2-9l1 0m7 7l1 2m0-4l0 1m12 3l1 2m3-3l1 1m9-7l-1 2m12-4l1 0m0 2l0 1m19 3l-1 1m2-9l1 2m-1 8l2 1m8-3l-1 2m10-2l0 1m5-1l-1 2m7-10l-1 2m2 1l1 1m1-1l2 1m35 1l1 1m0-4l1 2m0 0l0 1m6 2l-1 1m17 2l-1 1m5-9l1 0m9 2l1 2m5-6l1 1m12 3l0 1m1 6l1 2m3-12l2 1m-2 7l-2 1m13-8l2 1m1-3l-2 1m34 5l2 1m0-6l2 1m4 3l0 1m7 5l1 0m27-1l2 1m3-10l0 1m10 8l1 2m4-3l1 0m7-4l0 1m7 5l0 1m7-12l1 0m-453 14l-2 1m3 7l0 1m6-5l0 1m9-1l-1 2m2-1l1 2m16-2l1 0m5-2l1 1m2 1l1 0m2-7l1 1m4 9l0 1m3-5l1 0m1 3l1 1m24-9l0 1m12 4l1 0m-1 2l-1 2m29-7l-2 1m11-2l1 0m2 8l0 1m1-9l1 1m3 8l-1 1m4-12l-1 2m4 5l1 0m4-1l1 1m1-7l1 2m2 1l0 1m12-4l1 0m3 6l0 1m0-2l1 2m2-2l-2 1m3 5l0 1m1-10l-1 1m3 6l0 1m3 1l1 1m7-1l-1 1m3-11l-2 1m12 3l-2 1m10-1l-2 1m9-4l2 1m-1 8l1 0m14-5l-1 2m10-6l0 1m5 3l2 1m4-1l0 1m20-1l0 1m26-2l-2 1m2 3l1 0m0 0l0 1m12-8l1 2m33-4l1 0m-1 4l1 0m18 0l1 0m6 4l-1 1m9-5l-1 1m13 2l0 1m17-3l1 2m3-3l1 0m14 6l-1 2m16-11l1 2m-448 11l1 0m22 0l1 0m5 2l2 1m-2-4l1 0m8 9l-2 1m18-11l2 1m3 1l1 0m1-1l0 1m11 3l-2 1m12-4l0 1m3-2l2 1m1-2l-1 1m1 9l-1 1m2-11l2 1m0 8l0 1m3 0l1 2m3-1l1 2m2-8l-1 1m10 4l-1 2m22-6l0 1m6-3l0 1m2-3l1 0m2 0l1 0m-1 0l1 0m10-1l1 0m1 9l1 1m10-5l1 1m6-5l-1 2m1 4l1 1m18-3l2 1m0-4l-1 1m3 3l1 1m9 0l-1 2m2-6l2 1m5 0l0 1m5-1l1 0m11-4l-2 1m9 9l0 1m12-2l0 1m4-6l1 0m3 4l-1 1m5-1l1 0m18 0l-2 1m22-1l-1 1m39 0l2 1m32-4l2 1m0-1l1 0m12 4l-1 1m6-9l1 2m10 0l1 0m0-2l0 1m16-2l1 2m33 0l2 1m-454 13l1 2m15-6l-1 1m8 6l-2 1m15-6l-1 2m15 0l0 1m8 0l-1 2m2-2l0 1m3 3l1 2m1-6l0 1m6-7l0 1m24 5l0 1m12-2l-1 1m2 4l-1 1m7-7l1 0m15 4l1 0m7-6l1 2m4 1l1 1m6 0l0 1m3-2l-1 1m10-7l1 2m7 3l-1 1m10 4l1 0m4-4l-1 1m15-5l1 2m-1-4l1 2m11 6l1 0m4-8l1 1m21 0l2 1m1 5l1 0m5-6l1 0m4 10l2 1m7-7l-2 1m2-6l1 2m9 1l1 0m28 4l1 0m3-3l2 1m11-1l1 1m-1 1l-1 1m18 0l1 1m4-7l1 0m1 9l2 1m3-1l1 0m10-1l1 2m6-6l1 0m4-1l1 1m4 2l-1 1m4-7l-2 1m17-2l1 1m8 1l1 2m20-3l1 1m21-1l1 0m6 10l1 1m4-12l0 1m-452 22l1 2m10-7l1 2m-1-2l-2 1m5 4l-2 1m5-7l1 0m7 3l-2 1m3 2l0 1m1-9l2 1m3 3l1 2m5-6l-1 2m3-3l-1 1m6-1l1 2m-1-2l-2 1m2 8l-1 2m9-7l0 1m2-7l1 1m-1 3l0 1m4-1l1 2m8 4l1 0m3-10l1 0m1 2l0 1m2-2l2 1m10 4l1 1m1 0l0 1m5 3l0 1m5-11l-2 1m12 3l1 2m3 4l-1 2m18-13l-1 2m4 3l1 1m4 5l-1 2m7-12l1 0m2 5l-1 2m10-8l-2 1m4-1l-2 1m8 2l1 0m15 6l-2 1m7-5l1 2m-1-4l0 1m4 2l2 1m-2 1l1 0m6-6l-1 1m5-1l2 1m2-3l-1 1m4 6l1 0m0 0l1 1m3-4l-2 1m9 2l-1 2m4-2l0 1m7-7l1 0m11 9l1 2m8-4l1 1m8-1l0 1m6-6l1 1m5-3l0 1m33 4l0 1m2-6l0 1m0 1l1 0m14 6l0 1m6-9l-1 2m11 4l2 1m14-6l1 0m-1 6l1 1m0 0l1 1m4-4l2 1m13-5l-2 1m12-3l0 1m10 1l-1 2m2 6l-1 2m15-10l-2 1m5 0l-1 2m11 2l1 1m19 3l-1 1m1-3l1 2m9 0l0 1m-457 0l1 0m5 5l1 2m3 0l-1 2m5-3l0 1m3-2l-1 2m23-3l-2 1m8-5l-1 1m7-1l-1 1m5 7l1 0m0-5l-2 1m12 2l0 1m9-2l1 2m23 3l-1 2m17-1l0 1m25-1l0 1m3-2l1 1m-1 0l2 1m0-3l-1 1m7 1l1 0m4-2l2 1m11-10l1 2m8 6l2 1m6 1l2 1m17-10l-1 1m15 2l1 0m14 2l0 1m1 1l-1 2m4-6l-1 1m3 4l0 1m12-1l1 2m11 0l-2 1m4-2l-1 2m2-5l-1 2m16-8l0 1m11 9l1 1m1-11l-2 1m5 6l1 1m2-2l2 1m2 1l0 1m5-10l1 0m6 4l-2 1m15 2l1 1m3-4l-1 2m5-2l1 2m4-4l0 1m2 1l1 0m17-2l2 1m-1 5l2 1m5-9l0 1m71 10l1 0m10-10l1 2m-447 17l2 1m45-3l1 1m8-5l2 1m3 7l1 0m3-9l1 1m3 4l1 2m-1 2l0 1m5-5l2 1m5-1l1 0m1-5l1 0m5 7l0 1m1 2l0 1m2-7l-1 1m6-2l-2 1m13 3l1 2m3-3l-1 2m5 2l2 1m-2-2l1 0m4-2l1 1m1-2l1 2m4 1l-1 2m9-5l1 2m-1 2l1 1m1-12l-1 1m3 1l1 0m0 1l-1 1m3-1l0 1m20 2l0 1m21-5l1 0m-1 0l2 1m3 0l1 2m10 1l1 1m12-1l0 1m4-3l1 0m3-4l1 1m2 4l-1 1m5 2l0 1m3-2l0 1m6-1l-2 1m21-4l1 2m13-2l1 0m4-1l2 1m3 7l1 0m19-3l1 2m20 1l1 2m0-5l-1 1m2 2l-1 2m9-13l1 1m34 3l1 2m14-5l1 2m0 3l0 1m-359 8l1 0m15 5l1 1m-1-7l-1 2m2 0l0 1m14 1l-1 1m1-2l-1 2m12 3l-1 1m3-1l2 1m15-3l-2 1m11 1l1 0m1-9l1 1m7 6l-1 2m19 0l1 0m6-7l-1 2m4 1l0 1m5 4l0 1m6-12l-1 1m3 5l-1 2m22 0l1 0m1-3l2 1m-1-6l-1 1m39 0l1 1m5 7l1 1m21-9l1 0m2 1l1 0m0 8l0 1m10-6l-1 1m19-2l0 1m6 4l0 1m44-8l-2 1m2 4l2 1m8-2l-2 1m4-1l1 2m6-4l1 2m3 3l-2 1m16-5l2 1m14 2l1 0m1-3l0 1m1-4l-1 1m4-2l2 1m36 4l2 1m9-1l1 1m15 4l1 0m0-5l1 0m-443 6l1 0m21 6l-2 1m6-4l1 0m1-2l2 1m2 1l-1 1m1-3l-1 1m1 1l0 1m1 7l1 0m2-6l1 2m-1 2l1 0m12-7l0 1m1 2l0 1m2 5l2 1m23-3l1 0m3-6l0 1m7-2l1 2m7-3l1 1m2 5l2 1m3-5l0 1m5-1l-1 2m8 2l1 1m19-5l0 1m14 3l-1 1m8 0l-1 2m7-8l2 1m5 4l1 0m14 3l0 1m11-9l1 1m4 0l1 2m-1 1l1 1m3 3l2 1m6 0l-2 1m13-7l-1 2m23-5l1 2m7-3l-1 2m11 1l2 1m0 3l1 0m16 2l1 0m0-2l2 1m17 2l0 1m13-2l2 1m1-1l0 1m3-11l0 1m2 10l-1 2m14-10l1 2m15 1l0 1m1 4l0 1m18-4l-2 1m4-1l-2 1m9-4l-1 2m10 1l0 1m1-6l1 2m32 4l0 1m24-2l0 1m-454 11l-1 1m2 2l1 1m5-11l-1 2m12-1l-2 1m3-3l0 1m1 5l-1 2m13-2l-1 1m1-3l1 0m28 5l-2 1m88-5l0 1m86-6l-1 2m2 0l-2 1m6-3l-1 2m7-1l1 0m23 4l1 0m17 2l-1 2m13-8l1 0m-1 3l1 0m3 4l-2 1m6-3l0 1m4-4l0 1m2 5l-1 2m21-5l1 0m3 5l0 1m4-1l-2 1m15-1l1 1m0-4l1 2m0-7l-1 2m4 0l-1 2m7 2l2 1m5-4l-2 1m6-4l1 2m0 6l-1 1m2-7l0 1m16 1l0 1m18 1l-1 1m1-4l-2 1m5-6l1 0m2 3l-1 1m15-2l1 0m-1-1l1 0m3 1l0 1m-424 10l1 0m7 1l1 1m70-3l1 0m70 5l1 0m2 1l2 1m12-5l-1 1m2 7l-2 1m4-2l1 1m19-3l-1 2m27 1l0 1m39-1l1 0m33-1l0 1m13 0l1 0m17-8l1 2m0-4l2 1m-1 3l-1 1m5-2l-1 1m4 6l-2 1m7-10l0 1m2 2l-2 1m2-4l1 0m4 7l1 2m2-6l1 0m4 0l0 1m11-5l0 1m3 8l-1 2m33-10l1 0m2 4l0 1m9 2l1 0m-1-9l2 1m3-1l-2 1m-271 18l1 0m7-3l0 1m19 4l0 1m20 1l1 0m0-10l1 0m0 2l0 1m1 4l1 1m1-4l1 0m1 3l0 1m7-8l1 2m-1 6l1 0m-1 0l-2 1m4 0l1 0m6-3l-2 1m19-1l1 0m3-4l0 1m13-3l0 1m7 4l0 1m65-1l1 1m14 0l-1 2m14-4l2 1m29 4l-2 1m6-10l2 1m19 3l2 1m9-5l2 1m3 0l0 1m28 6l-1 2m1-5l1 0m-438 9l0 1m136-1l1 0m-1-3l1 0m1 10l1 0m5-6l0 1m2-5l-1 1m2 8l0 1m9-1l-2 1m7-7l1 0m8 3l0 1m7-7l1 1m8 2l-1 1m4 7l1 1m2-5l0 1m1 3l2 1m3-7l0 1m0 2l1 0m-1-4l1 0m9-4l-1 2m8 9l-2 1m3-5l-1 2m8-4l0 1m1 2l1 1m2 0l-1 2m1-6l1 1m4-1l0 1m29 0l0 1m16 1l2 1m14-7l0 1m13 0l1 2m17-5l1 2m-1 9l0 1m1-6l1 0m-1 1l1 0m2-5l-2 1m61-2l0 1m24-1l1 0m7-1l1 0m7 8l0 1m-419 6l0 1m120-3l1 2m1 0l1 0m17 0l-1 2m21-3l1 0m6 1l-1 1m5 0l1 2m1-1l-2 1m6-4l1 0m-1 2l1 2m5-6l-2 1m5 10l-1 2m11-5l0 1m2-6l1 1m3 0l-1 1m10 0l1 1m11 0l1 0m-1 2l0 1m4-5l1 0m5-3l-2 1m58-1l1 0m2 9l-2 1m86-8l2 1m52-1l-1 1m-320 14l1 2m10 0l1 1m1 1l1 1m0-3l1 0m10-1l-2 1m11-6l1 2m20 3l1 2m0-9l-1 1m4 4l-2 1m10 4l1 0m1-7l-2 1m7 2l0 1m4 2l-1 2m7-10l1 1m10 7l0 1m1-10l1 2m17 6l1 2m9 0l-1 2m3-8l0 1m17 1l-2 1m9 3l-2 1m21-3l0 1m22-4l1 2m4 4l0 1m36-1l1 1m26-6l0 1m56-5l-1 2m9-1l1 0m-294 19l-1 2m2-11l0 1m4-2l-1 1m2 4l1 0m12 4l-1 2m3-8l1 0m22 6l-2 1m4-1l-1 2m4-4l1 0m6-3l2 1m2-5l0 1m1 1l-1 1m6 5l-1 1m5-1l1 1m12-3l1 0m-1 1l-2 1m5-4l-2 1m3 5l0 1m1-5l1 0m32-5l1 0m11-1l-1 1m3 6l-2 1m8 2l-1 1m4-4l1 2m8-6l0 1m2 1l1 2m1 3l-1 2m100-8l1 0m18 2l1 0m0 2l1 0m2-5l1 2" stroke="#a9aece"/>
</g>
<ellipse cx="72.3" cy="488.8" rx="2.2" ry="3.2" fill="#d79e66" opacity="0.5" transform="rotate(40 72.3 488.8)"/>
<ellipse cx="72.3" cy="488.8" rx="1.1" ry="2.2" fill="#3d2516" opacity="1" transform="rotate(40 72.3 488.8)"/>
<ellipse cx="90.5" cy="489" rx="1.9800000000000002" ry="2.8800000000000003" fill="#d79e66" opacity="0.5" transform="rotate(40 90.5 489)"/>
<ellipse cx="90.5" cy="489" rx="0.9900000000000001" ry="1.9800000000000002" fill="#3d2516" opacity="1" transform="rotate(40 90.5 489)"/>
<ellipse cx="111.2" cy="506" rx="1.87" ry="2.72" fill="#d79e66" opacity="0.5" transform="rotate(40 111.2 506)"/>
<ellipse cx="111.2" cy="506" rx="0.935" ry="1.87" fill="#3d2516" opacity="1" transform="rotate(40 111.2 506)"/>
<ellipse cx="59" cy="497" rx="1.4300000000000002" ry="2.08" fill="#d79e66" opacity="0.2" transform="rotate(40 59 497)"/>
<ellipse cx="59" cy="497" rx="0.7150000000000001" ry="1.4300000000000002" fill="#3d2516" opacity="0.4" transform="rotate(40 59 497)"/>
<ellipse cx="79" cy="473.5" rx="1.32" ry="1.92" fill="#d79e66" opacity="0.175" transform="rotate(40 79 473.5)"/>
<ellipse cx="79" cy="473.5" rx="0.66" ry="1.32" fill="#3d2516" opacity="0.35" transform="rotate(40 79 473.5)"/>
</g></g>
<clipPath id="cD"><rect x="279.6" y="468" width="229.6" height="125.5"/></clipPath>
<g clip-path="url(#cD)"><g filter="url(#soft)">
<rect x="279.6" y="468" width="229.6" height="125.5" fill="#d6d9e7"/>
<path d="M514.0,482.0 C511.0,482.3 501.0,483.0 496.0,484.0 C491.0,485.0 488.3,486.2 484.0,488.0 C479.7,489.8 473.3,492.5 470.0,495.0 C466.7,497.5 465.2,500.5 464.0,503.0 C462.8,505.5 462.3,507.5 463.0,510.0 C463.7,512.5 465.0,515.6 468.0,518.0 C471.0,520.4 477.5,522.3 481.0,524.5 C484.5,526.7 488.0,528.6 489.0,531.0 C490.0,533.4 489.2,536.5 487.0,539.0 C484.8,541.5 479.8,543.9 476.0,546.0 C472.2,548.1 467.3,549.3 464.0,551.5 C460.7,553.7 458.0,556.6 456.0,559.0 C454.0,561.4 452.0,563.3 452.0,566.0 C452.0,568.7 454.3,571.8 456.0,575.0 C457.7,578.2 460.7,581.5 462.0,585.0 C463.3,588.5 463.7,594.2 464.0,596.0" fill="none" stroke="#c2c9e6" stroke-width="18"/>
<path d="M514.0,482.0 C511.0,463.3 501.0,483.0 496.0,484.0 C491.0,485.0 488.3,486.2 484.0,488.0 C479.7,489.8 473.3,492.5 470.0,495.0 C466.7,497.5 465.2,500.5 464.0,503.0 C462.8,505.5 462.3,507.5 463.0,510.0 C463.7,512.5 465.0,515.6 468.0,518.0 C471.0,520.4 477.5,522.3 481.0,524.5 C484.5,526.7 488.0,528.6 489.0,531.0 C490.0,533.4 489.2,536.5 487.0,539.0 C484.8,541.5 479.8,543.9 476.0,546.0 C472.2,548.1 467.3,549.3 464.0,551.5 C460.7,553.7 458.0,556.6 456.0,559.0 C454.0,561.4 452.0,563.3 452.0,566.0 C452.0,568.7 454.3,571.8 456.0,575.0 C457.7,578.2 460.7,581.5 462.0,585.0 C463.3,588.5 455.3,594.2 464.0,596.0 C472.7,597.8 505.7,615.0 514.0,596.0 C522.3,577.0 517.0,500.7 514.0,482.0 Z" fill="#e0e2ea"/>
<path d="M514.0,482.0 C511.0,482.3 501.0,483.0 496.0,484.0 C491.0,485.0 488.3,486.2 484.0,488.0 C479.7,489.8 473.3,492.5 470.0,495.0 C466.7,497.5 465.2,500.5 464.0,503.0 C462.8,505.5 462.3,507.5 463.0,510.0 C463.7,512.5 465.0,515.6 468.0,518.0 C471.0,520.4 477.5,522.3 481.0,524.5 C484.5,526.7 488.0,528.6 489.0,531.0 C490.0,533.4 489.2,536.5 487.0,539.0 C484.8,541.5 479.8,543.9 476.0,546.0 C472.2,548.1 467.3,549.3 464.0,551.5 C460.7,553.7 458.0,556.6 456.0,559.0 C454.0,561.4 452.0,563.3 452.0,566.0 C452.0,568.7 454.3,571.8 456.0,575.0 C457.7,578.2 460.7,581.5 462.0,585.0 C463.3,588.5 463.7,594.2 464.0,596.0" fill="none" stroke="#e8e9f0" stroke-width="3.2"/>
<path d="M418,600 Q420,578 436,573 Q452,572 462,588" fill="none" stroke="#bcc5e4" stroke-width="8"/>
<path d="M414,600 Q416,574 436,569 Q455,568 466,586" fill="none" stroke="#9fabd9" stroke-width="1.4" stroke-dasharray="1.4 1.2"/>
<ellipse cx="347" cy="592" rx="27" ry="15" fill="#aeb8df" filter="url(#soft2)"/>
<path d="M322,596 Q330,578 352,574 Q366,573 372,580" fill="none" stroke="#9da9d9" stroke-width="3" filter="url(#soft2)"/>
<ellipse cx="299.5" cy="523.5" rx="17.0" ry="18.5" fill="#dfe2ee" stroke="#9caadb" stroke-width="5"/>
<path d="M314.0 523.9L309.0 523.8M313.9 525.3L306.6 524.4M313.6 527.3L307.1 525.5M312.9 529.5L306.3 526.5M312.4 530.9L307.2 527.8M311.2 533.0L306.2 528.8M310.5 533.9L306.7 530.2M309.0 535.6L304.1 529.2M307.3 537.0L305.3 533.1M305.9 537.8L304.0 533.4M304.8 538.4L303.0 532.9M302.5 539.1L301.4 533.2M301.3 539.4L300.3 530.3M299.6 539.5L299.5 533.0M297.3 539.3L297.9 534.7M296.1 539.0L297.1 534.0M294.6 538.6L296.2 533.4M292.7 537.6L296.7 529.1M291.1 536.5L295.0 530.3M289.6 535.2L293.3 530.7M289.0 534.6L293.5 529.7M287.3 532.2L293.6 527.6M286.8 531.1L290.6 528.7M286.1 529.5L291.5 527.0M285.5 527.7L289.3 526.5M285.1 525.0L291.5 524.3M285.0 524.0L292.1 523.8M285.1 521.6L289.2 522.1M285.3 520.2L291.2 521.6M286.0 517.6L291.6 520.1M286.8 515.7L292.1 519.1M287.9 513.9L292.5 517.8M288.7 512.8L293.5 517.7M290.0 511.4L294.4 517.2M291.3 510.3L295.4 517.0M292.4 509.5L296.2 517.1M294.5 508.5L296.4 514.4M296.0 508.0L298.0 516.9M298.0 507.6L298.5 512.7M300.0 507.5L299.8 512.8M301.7 507.7L301.1 512.5M303.0 508.0L301.4 515.4M304.9 508.6L302.2 516.3M306.6 509.5L304.4 514.1M308.1 510.6L304.7 515.9M309.5 511.9L305.5 516.7M310.3 512.8L306.3 517.0M311.8 514.9L308.2 517.6M312.5 516.4L305.1 520.5M313.1 518.0L307.2 520.4M313.6 519.8L309.2 521.0M313.9 521.2L308.8 522.1" stroke="#c6cce7" stroke-width="0.9" fill="none"/>
<ellipse cx="299.5" cy="523.5" rx="18.8" ry="20.3" fill="none" stroke="#7686c6" stroke-width="1.5"/>
<ellipse cx="401" cy="521" rx="24.0" ry="20.5" fill="#dfe2ee" stroke="#9caadb" stroke-width="5"/>
<path d="M422.5 520.5L414.6 520.7M422.3 523.1L410.6 522.0M422.1 524.5L411.7 522.8M421.5 526.4L413.6 524.5M421.1 527.3L408.6 523.5M419.7 529.9L410.4 525.6M418.6 531.3L407.5 525.0M417.7 532.4L410.9 528.0M416.5 533.4L411.3 529.5M414.1 535.3L406.0 526.6M413.6 535.6L407.8 529.1M410.5 537.2L405.6 529.2M409.7 537.5L405.3 529.5M408.0 538.0L404.1 528.7M405.3 538.6L403.2 530.6M403.6 538.9L402.1 529.2M401.5 539.0L401.2 530.5M399.3 538.9L400.3 528.0M396.2 538.6L398.4 530.8M394.5 538.2L398.2 528.6M392.0 537.3L395.3 531.8M391.4 537.1L396.5 528.9M388.7 535.8L393.8 530.0M386.8 534.5L393.9 528.0M385.4 533.4L392.0 528.4M384.6 532.6L392.0 527.6M382.8 530.5L389.5 527.2M382.0 529.5L390.5 525.8M381.5 528.5L392.3 524.5M380.3 525.8L390.7 523.5M380.0 525.0L389.7 523.2M379.6 522.5L388.6 521.9M379.5 521.2L390.1 521.1M379.6 519.2L388.0 519.9M379.9 517.5L390.7 519.2M380.4 515.8L393.2 519.0M380.8 514.7L389.2 517.2M382.4 511.9L390.7 515.8M383.0 511.1L393.4 516.7M384.4 509.6L389.8 513.0M386.1 508.0L393.0 513.8M387.8 506.8L395.2 514.5M389.1 506.0L393.1 510.7M391.0 505.1L395.9 512.6M392.4 504.5L396.4 511.8M395.5 503.6L399.0 514.3M397.3 503.3L398.7 509.6M399.6 503.0L400.1 509.9M401.5 503.0L401.3 511.1M403.2 503.1L402.1 511.7M404.4 503.2L403.2 509.3M407.4 503.8L403.7 513.3M409.2 504.4L405.3 512.1M410.9 505.0L405.7 513.1M413.0 506.1L407.7 512.3M414.8 507.2L408.0 513.7M415.6 507.8L407.4 515.0M417.3 509.2L409.9 514.3M419.2 511.4L412.2 514.9M420.2 512.9L412.9 515.8M420.7 513.8L413.4 516.3M421.7 516.0L409.2 519.0M421.9 516.8L408.8 519.4M422.4 519.6L410.6 520.4" stroke="#c6cce7" stroke-width="0.9" fill="none"/>
<ellipse cx="401" cy="521" rx="25.8" ry="22.3" fill="none" stroke="#7686c6" stroke-width="1.5"/>
<ellipse cx="426" cy="495.5" rx="14.75" ry="16.75" fill="#dfe2ee" stroke="#9caadb" stroke-width="4.5"/>
<path d="M438.5 496.0L435.1 495.9M438.4 497.0L431.4 496.1M437.9 499.8L433.9 498.2M437.4 501.5L431.8 498.4M436.6 503.1L432.5 500.0M435.6 504.7L430.5 499.6M434.6 506.0L430.6 501.0M433.0 507.5L431.2 504.1M431.3 508.6L429.2 503.0M430.2 509.1L428.1 502.1M429.0 509.6L427.3 501.2M426.9 510.0L426.5 502.7M425.3 510.0L425.5 505.4M423.4 509.7L424.5 503.7M422.1 509.3L424.4 501.0M420.4 508.5L423.5 501.2M418.8 507.3L420.6 504.0M417.3 506.0L421.9 500.2M416.1 504.3L419.3 501.3M415.2 502.8L418.3 500.5M414.4 501.0L418.2 499.1M414.0 499.6L417.1 498.4M413.6 496.9L420.2 496.1M413.5 495.2L417.9 495.3M413.6 493.6L418.7 494.4M414.0 491.6L417.3 492.8M414.5 489.7L418.1 491.7M415.2 488.1L418.4 490.5M416.6 486.0L420.7 490.3M417.5 484.8L419.9 488.1M419.0 483.5L422.0 488.9M420.0 482.8L422.9 489.1M422.0 481.8L424.1 489.4M423.9 481.2L424.9 488.6M425.6 481.0L425.8 488.3M427.3 481.1L426.8 486.5M428.5 481.3L427.5 487.5M430.3 481.9L428.6 487.5M431.6 482.5L428.7 489.5M433.2 483.7L431.2 487.2M434.6 485.0L429.7 491.1M435.9 486.6L432.5 489.9M436.9 488.4L431.2 492.3M437.6 490.0L430.9 493.2M438.1 491.8L432.0 493.7M438.3 493.2L434.7 493.9" stroke="#c6cce7" stroke-width="0.9" fill="none"/>
<ellipse cx="426" cy="495.5" rx="16.3" ry="18.3" fill="none" stroke="#7686c6" stroke-width="1.5"/>
<ellipse cx="377" cy="573" rx="12.75" ry="19.75" fill="#dfe2ee" stroke="#9caadb" stroke-width="4.5"/>
<path d="M387.5 572.6L383.5 572.8M387.4 575.1L383.7 574.2M387.1 577.7L381.6 574.9M386.8 579.1L384.2 576.9M386.2 581.5L381.7 576.8M385.1 584.2L381.8 578.9M384.2 585.7L381.3 579.7M383.3 587.0L380.0 578.9M382.2 588.2L380.8 582.9M381.0 589.2L379.8 582.9M379.6 590.0L378.2 579.7M378.2 590.4L377.7 582.8M377.2 590.5L377.1 579.8M375.3 590.3L376.0 582.1M374.1 589.8L374.9 584.0M372.8 589.1L373.8 583.7M371.8 588.2L373.3 582.6M370.6 586.9L372.2 582.4M369.4 585.0L373.5 577.9M368.9 584.1L372.9 577.9M367.7 581.2L371.6 577.2M367.3 579.5L371.8 576.1M366.9 577.5L371.3 575.3M366.6 575.5L370.4 574.4M366.5 572.9L369.1 572.9M366.6 570.5L369.1 571.3M366.9 568.0L369.1 569.6M367.4 566.1L372.3 570.0M368.1 563.8L370.1 566.8M368.9 561.9L371.9 566.8M369.7 560.4L373.3 567.4M370.8 558.8L373.1 565.1M371.6 558.0L374.6 567.0M373.3 556.6L374.1 561.7M374.0 556.3L374.8 562.5M375.6 555.7L376.3 565.6M376.8 555.5L376.9 562.2M378.7 555.7L377.7 566.2M379.8 556.1L378.2 566.4M381.2 557.0L379.3 565.3M382.5 558.1L381.3 562.8M383.4 559.1L382.0 563.4M384.3 560.4L380.3 568.0M385.4 562.5L380.7 568.9M386.0 563.9L382.1 568.4M386.7 566.4L381.7 570.2M387.0 567.9L384.4 569.7M387.4 570.5L385.0 571.3" stroke="#c6cce7" stroke-width="0.9" fill="none"/>
<ellipse cx="377" cy="573" rx="14.3" ry="21.3" fill="none" stroke="#7686c6" stroke-width="1.5"/>
<ellipse cx="441" cy="466" rx="14.75" ry="9.75" fill="#dfe2ee" stroke="#9caadb" stroke-width="4.5"/>
<path d="M453.5 465.8L446.5 465.9M453.3 467.2L446.7 466.7M452.9 468.3L447.5 467.4M451.7 469.9L448.3 469.1M450.6 470.8L445.6 468.7M449.2 471.6L445.1 469.3M447.8 472.3L444.0 469.3M445.9 472.9L444.6 471.9M443.3 473.4L442.6 471.9M441.2 473.5L441.1 470.2M439.6 473.5L440.1 471.4M437.1 473.1L438.3 471.9M435.0 472.6L438.4 469.4M433.5 472.0L436.2 470.5M432.0 471.2L436.8 468.9M430.7 470.2L436.5 468.2M429.4 468.8L432.9 468.4M428.9 467.9L434.8 467.1M428.5 466.4L433.5 466.3M428.6 465.1L432.4 465.3M428.9 464.1L434.4 464.8M429.7 462.9L434.7 463.9M430.5 462.0L435.6 463.6M432.2 460.7L437.3 463.4M433.2 460.1L436.2 461.7M435.2 459.4L437.6 461.4M437.3 458.8L439.1 461.6M439.9 458.5L440.5 461.8M441.4 458.5L441.2 461.8M443.8 458.7L442.4 461.7M445.5 459.0L444.0 460.6M447.4 459.6L444.8 461.5M449.6 460.5L444.8 463.2M450.4 461.1L445.6 463.2M452.0 462.5L447.8 463.4M452.7 463.4L447.1 464.4M453.3 464.5L447.9 465.0" stroke="#c6cce7" stroke-width="0.9" fill="none"/>
<ellipse cx="441" cy="466" rx="16.3" ry="11.3" fill="none" stroke="#7686c6" stroke-width="1.5"/>
<circle cx="336.5" cy="542" r="9.5" fill="#b3bce1" stroke="#9aa6d8" stroke-width="3.5" filter="url(#soft2)"/>
<path d="M410,499 Q418,509 432,515" stroke="#3f4d92" stroke-width="1.8" fill="none"/>
<circle cx="482.8" cy="485.5" r="1.8" fill="#2a3366"/>
<g transform="scale(0.5)" fill="none" stroke-linecap="round" stroke-width="2.4">
<path d="M568 942l-1 2m5 2l0 1m8-4l1 1m12 1l0 1m6-5l-2 1m5 0l1 0m0-5l0 1m6 6l1 0m9 1l0 1m16-9l-1 1m1 7l1 2m6-3l1 2m1-3l0 1m17 1l2 1m0-2l1 0m0-7l1 0m6 7l2 1m-1-3l-2 1m8 1l-1 1m2-2l-2 1m8-2l1 0m7 3l1 2m8-4l0 1m6-6l2 1m13 7l0 1m4-4l0 1m5-4l-1 2m4 3l1 1m4-6l1 1m1-5l1 1m0 4l0 1m1 3l-1 1m11-8l1 0m0-1l1 1m4 2l1 0m2-2l-1 2m11 2l2 1m-1 1l0 1m1-7l-2 1m5-1l1 0m21 5l0 1m5 1l0 1m2-8l-1 1m11 0l0 1m9-4l0 1m19 4l1 2m5 0l-1 1m64 2l-2 1m12-2l-1 2m6-10l-2 1m5 6l2 1m2-3l2 1m5-4l-2 1m8 0l0 1m2 2l1 1m0 0l1 1m18-2l0 1m5-7l-1 2m12 1l0 1m3-2l1 0m4 4l1 0m-1-1l0 1m5-6l1 0m0 7l1 0m2-6l1 0m3-1l-1 1m-440 18l0 1m0-4l1 1m-1 0l1 0m0 0l1 2m2-5l0 1m18 1l0 1m6 2l-1 1m4-7l-1 1m6-2l2 1m-1 2l1 0m5-2l1 0m-1 3l1 0m7 0l-1 1m5 3l-1 1m1 0l1 1m0-7l-2 1m3 1l0 1m8-2l2 1m2 1l0 1m2-1l-1 2m10-4l-2 1m2-3l-1 2m5-4l-1 2m5 5l0 1m3-7l-1 2m7-3l0 1m1 4l1 0m-1-6l1 1m6 4l-2 1m28 5l0 1m4-5l1 0m1-6l1 1m2 3l1 0m1 0l1 2m22 0l1 0m2-1l0 1m1-5l-1 2m16 5l1 1m11-6l1 0m8-2l-1 1m5-3l1 0m10 3l0 1m2 5l-1 1m2-3l-2 1m3-6l1 0m0 2l-1 1m11-1l-2 1m3 1l-2 1m8-6l1 0m0 0l-2 1m3-2l-1 1m10 5l1 2m1-4l1 2m4 0l1 1m2-4l1 2m0 4l1 1m6-2l2 1m-1 2l1 2m0-11l-1 2m3 3l1 0m2-5l-2 1m4 2l-2 1m5-2l0 1m6 0l2 1m0 0l-2 1m9-4l1 1m-1 2l1 2m4-2l0 1m1-1l-1 2m19-2l1 0m18 3l1 1m2-1l-2 1m16-8l2 1m-2 6l-1 2m5-4l-1 1m7-4l-1 1m1 4l1 0m2-8l-2 1m4 3l0 1m4 4l-2 1m9-2l0 1m24-2l0 1m8-4l0 1m4-1l-1 2m2-2l1 0m0 6l-2 1m4-4l1 0m10 2l0 1m0-8l0 1m2 3l-1 2m3-2l-1 2m2-7l0 1m6-1l1 0m-447 17l1 0m2-6l1 0m4-1l-1 2m10 3l-1 1m6 4l1 1m1-11l1 0m5 10l-1 2m3-2l-1 1m8-5l1 0m7 4l-1 2m6-9l1 2m25 1l1 0m1 5l1 0m28-7l0 1m12 4l1 1m6-3l1 0m3 3l0 1m4-4l0 1m15-3l1 0m12-2l-2 1m3-1l1 2m2-1l-1 1m2 6l-1 2m7-4l1 0m3-4l0 1m2-6l-2 1m6 6l0 1m6-1l2 1m-2-2l1 1m3-4l-1 2m4 2l1 0m1-6l0 1m12 8l1 1m3-11l0 1m12 4l-1 1m5-3l2 1m4 4l1 1m0 0l1 0m3-6l0 1m79 6l0 1m6-11l0 1m0 3l1 2m1 5l1 2m1-2l-2 1m2-6l-1 1m39 4l1 0m23-1l2 1m4-11l0 1m5 4l-1 2m15-4l-1 1m2-3l-1 1m2 2l0 1m11 1l1 0m1 0l0 1m15-2l0 1m1-6l0 1m-449 20l1 0m8-6l1 1m7-2l2 1m3 6l1 0m22-5l0 1m17-5l2 1m5 7l1 0m2-5l1 0m3 7l1 1m0-10l1 0m1 0l1 0m16 9l1 2m3-3l-2 1m6-4l0 1m6-3l2 1m-1-2l1 1m2 7l1 2m3-4l1 0m8 0l2 1m9-4l-2 1m11 4l1 2m-1-10l2 1m13 4l-1 2m1 1l-2 1m6-11l1 0m10 0l-1 2m2 8l1 2m15-12l0 1m0 0l-1 2m5 1l0 1m4 0l-1 1m9-1l-1 1m2-2l0 1m1-5l1 0m3 1l0 1m18 3l2 1m-2-7l1 0m5 1l1 0m-1 4l1 0m1 0l1 0m4-5l1 2m0 9l1 0m3-5l1 1m0-6l-2 1m75 3l1 1m0-5l-1 2m6 6l0 1m3-8l-1 2m9-4l2 1m0 1l-2 1m2 4l-1 2m4-6l1 2m6-5l0 1m2 5l-1 2m8 1l-1 2m3-10l1 1m20 7l0 1m0-3l2 1m6-4l2 1m-400 14l0 1m2 1l-2 1m2-5l-1 2m8-1l-2 1m11-6l2 1m0 4l2 1m0-6l1 1m8 3l-1 2m1 2l2 1m-1 0l-1 2m14-1l1 0m1-7l-1 2m16 3l1 1m3-9l1 0m4 1l-1 2m10 1l1 0m-1 0l0 1m5-5l0 1m18 8l1 1m0-11l1 1m6 4l1 1m3 0l1 2m13-1l2 1m-1-6l2 1m10-2l1 2m5 4l0 1m4 1l1 1m6-1l1 0m5 0l0 1m3 0l1 2m0-10l1 0m5 6l-2 1m10-5l0 1m8 2l1 0m23 2l0 1m2-7l-1 2m8 2l1 0m4 1l1 0m0 0l1 0m7-6l-2 1m7 0l2 1m5-1l-1 1m5-4l1 2m69 4l1 0m6 2l2 1m6-3l0 1m0 0l-2 1m4-4l-1 2m5 2l0 1m14-7l0 1m0 7l-1 2m9-3l-1 1m1-1l0 1m-370 13l1 2m0-7l1 0m7 4l2 1m-1-11l2 1m0 1l2 1m2 3l2 1m7 4l0 1m6-4l1 0m15 2l-2 1m5-11l1 2m5 9l0 1m19-9l1 1m9 7l-1 1m1-7l0 1m14-1l0 1m10 1l0 1m1 1l-2 1m33-4l1 1m22-6l2 1m-1-1l1 0m12 2l1 2m2 4l1 0m3-7l-1 1m12 5l1 0m2-7l0 1m3-2l2 1m3 2l1 2m2 1l1 2m3 1l2 1m8-9l1 0m27 0l1 1m4-1l-1 2m3-1l0 1m50 6l-1 1m29-5l0 1m11-4l1 0m10 8l0 1m4-11l1 1m0-1l-1 1m2-1l1 1m2-1l1 0m-369 15l1 0m4 7l-1 2m5-2l-1 1m5 0l2 1m9-9l1 1m36-2l-2 1m9 1l1 1m0 1l1 0m1 1l1 2m2-3l0 1m2 2l2 1m14 0l1 0m-1-3l1 1m5-6l0 1m13 4l-1 2m2-7l-1 2m2-2l-1 2m9 4l-1 2m9-9l-1 2m2-1l-2 1m8-1l1 2m1 1l1 0m19 5l1 1m13-10l0 1m14 8l-1 1m19-7l2 1m4-5l1 2m106 4l1 1m4 4l1 0m0-5l-1 1m3 0l2 1m-1-7l1 2m4 3l1 0m0 5l1 0m-335 2l2 1m2 9l-1 2m64-8l1 2m2-6l2 1m0 0l0 1m3-3l1 1m0 2l-1 2m2 0l1 2m-1-7l-1 2m15 5l0 1m19-2l0 1m6 2l1 0m6 0l0 1m6 0l1 0m0-7l2 1m18-1l0 1m8-3l2 1m13 3l1 0m2 2l-2 1m11-2l1 2m8-6l-1 2m8-3l-1 1m42 4l-1 2m46 1l0 1m3 0l1 0m9-5l1 2m25-3l1 0m-1-3l1 0m2 9l1 1m1-8l1 0m18 1l0 1m1 5l-1 2m7-7l1 0m1 5l-1 1m-358 2l-1 2m36 0l-2 1m47-3l-1 2m3 3l-1 2m8 2l1 0m2-7l1 0m29 6l1 1m6 1l-2 1m16-4l1 1m1-2l1 0m17-3l-2 1m8 5l-1 1m9-10l1 1m0-2l1 1m3 8l1 1m2-2l1 0m106-4l0 1m4-4l-1 1m10-1l1 2m0 7l2 1m2-3l1 1m4-2l-2 1m13-8l1 1m2 5l1 2m2-3l1 1m14 0l-1 2m3 3l0 1m0-2l2 1m-2-5l2 1m16 2l1 0m-1-4l0 1m23 5l1 0m-391 8l0 1m3-5l0 1m85 1l1 0m-1 5l-1 2m9-8l1 2m-1-1l-1 2m3 2l1 0m12-2l-1 1m13-7l0 1m0 5l1 2m14-8l-2 1m9 1l-1 2m4 6l-1 1m10-12l1 1m26 4l-2 1m10-4l0 1m75-2l1 0m34 3l0 1m2 1l1 0m0 1l-1 2m10-4l-1 1m26 3l1 2m5-5l0 1m1 2l0 1m1 0l1 2m-1-4l2 1m-1 2l1 2m-1-6l1 0m3 3l-1 2m5-10l-2 1m9-3l1 0m6 7l-1 1m14 2l1 2m2-10l2 1m0 3l2 1m1-3l-1 2m18 4l1 0m-408 13l1 2m60-10l1 0m22 8l1 2m2-8l0 1m1-2l1 1m6-2l-1 2m12-2l0 1m16 2l-2 1m6-3l1 0m4 7l1 1m17-8l1 0m0 4l-1 1m10-7l-1 2m11-1l1 2m0-3l0 1m3 3l1 0m0-4l1 0m6 4l0 1m7 4l1 2m0-3l-1 1m2-4l2 1m110 3l1 2m22-13l1 2m-1 8l1 1m6-7l0 1m1-4l-2 1m2 2l0 1m8 0l0 1m2 4l-1 1m1-4l1 2m4 1l-1 1m6-11l0 1m2 1l-2 1m4 0l-2 1m5 6l1 0m1-1l-1 2m19-10l0 1m7 1l1 0m2 7l0 1m2-8l2 1m2 5l-1 2m9-7l0 1m6 4l0 1m-407 6l1 1m0 3l1 0m2-4l0 1m7 5l-1 2m52-5l1 1m9-2l-1 2m9 2l1 2m1-11l0 1m2 6l2 1m1-4l0 1m4-6l0 1m11-1l1 2m7 6l1 1m26-9l0 1m3 6l1 1m3 2l1 0m19-2l-1 2m18-8l-2 1m6 4l0 1m5-8l0 1m86 7l2 1m1-5l1 0m4 6l2 1m12-3l0 1m8-6l1 2m0 4l1 2m1-2l-2 1m12-7l0 1m4-3l-1 2m21-2l0 1m1 8l1 2m13-8l1 0m12 1l0 1m20 1l1 2m4 2l2 1m-377 2l1 0m12 9l-1 2m34-4l1 2m0-1l1 0m8-1l-1 2m34-11l0 1m4-1l2 1m8 0l1 1m17 9l1 1m2-9l-1 2m9 5l-1 2m11-12l1 0m1 0l1 0m15 6l-2 1m4-6l1 0m0 5l0 1m28 1l2 1m4-4l1 1m13 4l-2 1m5-4l-2 1m18-3l2 1m-1 0l1 0m5 5l-1 2m7-8l-2 1m9-6l-2 1m22 2l1 2m6-3l1 0m28 5l2 1m8 2l1 1m0-9l1 1m0 2l1 2m17-3l0 1m4 1l-2 1m10 2l2 1m17 1l1 0m0-6l0 1m5 0l2 1m-397 11l0 1m3-5l-1 2m7-4l2 1m-1 9l0 1m6-2l0 1m6-5l2 1m8-1l1 2m5 0l1 1m3-8l1 0m12 11l0 1m7-11l-1 1m1-2l1 0m-1 10l0 1m10-1l-1 1m16-10l1 0m1 5l1 0m48-6l1 0m6 9l-2 1m13-6l2 1m-1 2l1 2m20-1l1 2m10-2l1 2m15-8l-2 1m2-1l2 1m2 5l-1 2m12-5l1 0m17 6l1 0m5-3l-1 2m5-1l-1 2m10-8l1 0m7 2l1 0m10 1l2 1m-2-3l-1 2m2 4l0 1m1 0l-2 1m10-7l1 0m-1-5l-2 1m8 0l1 1m7-1l1 0m2 9l0 1m5-10l-2 1m7-2l-1 1m5 7l0 1m3-8l1 0m17 3l-2 1m5-4l-1 2m2 0l1 0m2-2l0 1m2 4l1 1m0 0l1 0m2-4l0 1m-350 9l0 1m3 3l-1 2m6 1l-1 1m5-9l-2 1m17 1l0 1m1 6l1 2m3-8l0 1m11 3l-1 2m5-7l1 0m0 4l1 2m3-3l1 0m5-4l1 2m6 0l-2 1m4-3l1 2m33-1l2 1m1 2l0 1m12-6l-1 2m8 4l1 2m0-2l0 1m2 1l1 0m8-4l-1 1m4 2l0 1m5 2l1 0m12 0l-1 1m22-8l0 1m17-2l-1 1m23-2l0 1m4 1l1 0m12 0l2 1m3-3l1 2m7 7l0 1m15-9l1 0m4 5l1 0m2-2l-1 1m43 5l1 2m19-7l0 1m16-2l0 1m6 0l1 2m5-6l2 1m-352 12l-1 2m10-3l-1 1m10 0l-1 2m7-4l1 1m1 7l1 1m9-2l-1 1m10-2l1 0m5 1l-1 1m23-1l0 1m4-5l1 1m4 6l1 0m18-2l1 0m-1-8l-1 2m8-1l0 1m4 8l1 1m0-3l-1 1m2-10l0 1m5 5l0 1m11-4l2 1m23 4l0 1m3-6l-1 1m2 0l1 0m-1-4l1 1m57-1l1 0m2 0l-1 2m28 5l1 0m0 1l1 2m39-8l1 1m5 5l1 1m1-8l0 1m9-2l0 1m4 2l0 1m7-1l-1 1m9 0l-1 1m4 2l1 0m6-5l1 0m-341 13l-1 1m10 4l1 1m7-2l1 2m1-2l1 0m2 0l-2 1m3 3l2 1m3-8l-1 1m6-3l-2 1m5 8l2 1m32-8l1 0m14-3l2 1m8-1l-1 2m3-2l-2 1m2 9l2 1m0-9l2 1m1-2l1 0m-1 5l0 1m11-2l1 1m2-5l1 0m9 1l2 1m10-4l-2 1m6 9l-1 1m76-1l2 1m-1-11l-2 1m25 3l1 0m0-2l0 1m5-3l-1 1m8 2l1 0m1 8l-1 2m6-4l0 1m27-6l1 0m18 7l-1 1m14-1l-2 1m5-9l-2 1m5 0l2 1m-2 2l1 0m0-2l1 2m0-4l-1 1m2 1l-1 2m2 2l0 1m-336 3l0 1m13 5l0 1m6 0l0 1m1-9l0 1m22 3l1 1m-1-5l-1 1m7 5l-1 1m9 2l-2 1m3-10l2 1m2 4l1 0m4-4l1 1m45 5l1 2m6-3l0 1m11-4l-1 1m3 7l1 0m8-2l1 0m0-4l-1 2m6-6l0 1m1 8l1 1m4-4l0 1m4-1l1 0m0 0l1 0m69-6l0 1m18 3l1 0m8-1l1 2m14-5l1 0m4 4l0 1m0 0l-2 1m3-3l1 0m0-4l-1 2m2 3l1 0m3 1l-1 2m1 3l-2 1m7-8l1 0m6-4l1 2m3 1l0 1m3 3l0 1m2-6l1 1m0 5l1 2m5-6l1 0m8 3l1 2m2 2l1 0m3-8l-1 2m1-1l0 1m8 6l1 0m3-6l0 1m5-6l1 1m-335 17l0 1m9 3l1 0m-1-10l-1 1m9 2l-1 1m7-3l0 1m8 8l1 1m5-10l0 1m2 2l0 1m11 4l-1 1m4 1l-1 2m5-7l1 2m16-1l1 1m6 1l0 1m22-7l0 1m6-2l1 2m7 6l1 1m0-11l0 1m3 9l-1 1m8-7l1 2m4-5l-1 1m1 0l-2 1m6 7l1 0m-1-5l1 0m0 1l1 0m16 1l1 0m59-7l1 0m12 9l0 1m2 0l-1 2m9-9l0 1m4-4l-2 1m13 2l1 0m7 1l2 1m5 4l0 1m6-5l1 0m8 6l-1 1m21-4l2 1m-1-7l0 1m3-3l0 1m4 7l1 1m2-6l-1 2m2 0l2 1m7-6l1 1m2 5l1 0m4-6l1 2m1 1l0 1m6-1l-2 1m-347 13l2 1m12 0l1 0m4-1l-1 2m20 2l1 2m0-6l2 1m6 1l0 1m13-4l-1 2m7 0l-1 1m8 4l0 1m3-4l0 1m11-6l-1 1m17 6l1 0m7-5l1 0m5-5l0 1m4 0l1 0m2 4l-1 2m5 3l1 1m0-5l-2 1m18-4l1 2m0 4l1 2m-1 0l-1 2m13-10l0 1m0 2l2 1m8 0l-1 2m2-4l1 1m58-4l-1 2m6-2l1 2m2 2l1 0m8 2l1 0m18 2l-1 2m4-9l-2 1m6-2l-1 1m11 5l0 1m1-9l1 0m3 6l1 2m2-2l-2 1m4 0l1 0m3-1l-2 1m5 2l2 1m6 0l0 1m5-3l1 0m8-2l1 0m3 0l-2 1m5 2l0 1m5-3l-1 1m5-6l0 1m1 3l-1 2m21-4l1 1m3 3l1 0m-358 9l1 0m12 5l1 0m-1-5l0 1m4-4l-1 1m7 7l-1 2m21-6l1 0m4-6l1 0m7 3l-1 1m2 5l1 0m3-3l1 1m9-2l1 2m3 0l1 0m4 0l0 1m3-5l0 1m1-1l0 1m9-2l2 1m9 1l1 0m9 5l1 1m-1-9l1 0m1 2l1 0m18 0l0 1m5 7l-2 1m10-9l0 1m0 5l1 2m16-8l-2 1m2 6l2 1m5-1l0 1m0-7l1 0m26 3l1 0m1-5l1 0m5 5l-2 1m8 3l1 0m1-7l1 2m16-4l2 1m20-1l1 0m15 6l1 1m0-1l0 1m1-1l-1 2m22-5l1 0m2 1l-1 2m7 1l1 2m5-3l1 0m12 2l0 1m2-6l1 0m2-2l2 1m32-2l-1 1" stroke="#8f95bc"/>
<path d="M563 940l-2 1m6 5l0 1m8-6l-1 1m5-1l0 1m4 2l2 1m4 1l1 1m4-2l1 0m1-9l1 0m5 9l0 1m4-3l-1 1m7-7l0 1m4 9l-2 1m2-8l-2 1m2 0l-1 2m7-3l0 1m2 1l0 1m6-1l1 0m17-1l1 2m5 2l0 1m1-5l1 1m37 2l1 1m6-5l0 1m4 1l0 1m4 2l-2 1m11-10l-2 1m3 3l1 2m-1-3l-2 1m5-3l0 1m10 4l0 1m0 1l1 0m3 3l1 0m0-3l-1 2m2-1l-1 2m4-4l-2 1m4-1l0 1m6-5l1 1m4 7l1 0m-1-5l1 0m19 4l1 1m16 0l-2 1m13-10l2 1m11-1l1 0m-1 7l-1 2m4-11l-1 1m5 8l0 1m8 0l-1 1m1-8l-2 1m4-2l1 0m11 7l1 0m0-8l-2 1m3 1l1 2m4-2l-1 2m4 2l0 1m0-2l0 1m54 4l1 1m5-4l2 1m8-3l1 2m0-3l1 1m4 4l1 1m11-1l1 0m0-1l1 1m1-7l0 1m0 1l-1 1m16-3l1 0m0 2l-2 1m11-4l1 0m7 5l1 0m27 0l-2 1m5-7l1 2m9-1l-1 2m-454 18l1 1m5-4l1 1m20-4l-2 1m4-5l-2 1m3 3l-2 1m5 4l-2 1m3-6l0 1m0-5l1 2m8-1l2 1m1 9l1 2m0-11l1 1m0-3l2 1m1 9l-1 1m6-5l-1 2m17-2l-1 2m9-3l1 0m0-2l1 2m0 6l1 1m2-3l1 1m1-10l1 0m-1 2l1 1m17 7l-2 1m13-8l-2 1m14 0l2 1m-2 4l-2 1m11-3l0 1m6-3l2 1m8-2l1 0m3 4l0 1m2 0l0 1m5-2l2 1m7-9l-1 1m6 1l-1 1m6 5l0 1m0 2l-1 2m6-2l-1 1m8-8l1 0m10 4l0 1m4-1l0 1m2-1l0 1m7 0l-1 1m6-8l-1 1m23 7l2 1m-1-2l-2 1m5-2l0 1m2 2l1 1m2-2l-2 1m6-9l1 1m12 8l-1 2m4-6l0 1m5 0l1 1m2-5l-2 1m4 1l1 0m5-4l0 1m8 5l0 1m8 1l2 1m16-2l0 1m9-6l1 1m1-2l-2 1m9 4l2 1m6-6l-1 2m4-5l-1 2m6 7l1 1m1-1l0 1m4-8l0 1m7 1l0 1m17 5l-2 1m4-9l-1 1m6 6l-1 1m-388 4l0 1m9-2l1 2m1 2l1 0m6 0l1 1m1 4l2 1m8-7l0 1m12-5l0 1m8 0l-2 1m19-1l-1 2m1-3l-1 2m7 3l2 1m-1-4l-1 1m16 2l0 1m6 1l1 0m14 0l1 0m-1 3l1 1m21-8l-1 2m2 4l-1 1m2-7l1 1m-1 7l1 0m10-10l-2 1m15 0l1 2m2 7l1 2m16-3l0 1m2-5l1 1m6-4l-2 1m11-2l1 1m10-2l2 1m8 3l0 1m1-5l1 2m2-2l1 0m5 3l1 2m0 2l-1 1m3-1l2 1m4-2l-1 1m2-6l-2 1m20-2l1 0m-1 6l0 1m71 0l1 1m6 2l0 1m3-10l1 2m4-2l1 0m14 3l1 0m-1 6l0 1m3-12l-1 1m6 2l-1 2m2 2l1 1m-1 0l0 1m13-5l0 1m9 5l1 1m-1-11l0 1m28 5l2 1m0-7l-1 1m21 1l2 1m9-2l1 1m-453 13l1 1m4 4l-1 2m14-8l-1 2m3-3l1 1m11 3l-1 2m10-2l-2 1m16 0l-1 1m20 1l1 1m1-9l2 1m-1 8l0 1m9 1l-1 1m3-10l1 0m9 6l1 0m32 3l1 0m11-8l1 0m-1 8l-2 1m8-4l0 1m19-9l0 1m5 1l-1 2m1-3l1 0m3 1l1 2m13 4l2 1m-1 1l0 1m11-3l2 1m-1-5l1 2m8 1l-1 1m2 3l0 1m8-11l-1 1m3 7l0 1m7-4l1 2m0-6l1 1m5 8l-1 1m9-12l-1 2m2 6l-2 1m4 2l0 1m2-4l1 0m70-2l0 1m3-4l0 1m0 0l-2 1m10 3l0 1m23 2l0 1m2-1l1 2m3-4l-1 2m13-3l-1 2m6-6l1 2m1-1l1 0m2-1l-1 1m19-2l2 1m-401 15l0 1m7 1l0 1m5-6l1 1m16 1l-2 1m3 2l2 1m3-4l0 1m0-7l2 1m8 3l2 1m0 4l1 1m0-9l-1 2m7-3l1 1m-1 5l-1 2m7 0l1 2m-1-9l0 1m18 3l1 2m3 0l1 0m1-3l1 2m11 5l1 1m9-4l-1 2m7-3l0 1m2 2l-1 2m5-7l1 0m20 5l1 2m-1-11l1 1m8 5l1 1m35-4l1 0m12 2l0 1m0 4l2 1m19-1l1 1m0-1l1 1m3-4l0 1m9-2l-1 1m1-2l1 1m1 0l0 1m5 3l1 0m0-6l1 0m2 4l2 1m4-8l1 0m68 6l1 2m11-4l-1 1m13 0l-1 1m4-2l1 0m13 2l0 1m0-7l0 1m14-1l2 1m-381 13l-1 2m25 2l-2 1m2 2l-2 1m9-11l0 1m3 5l1 0m2-6l1 2m5-1l1 0m4 3l1 1m1-6l1 0m13 1l1 1m7 8l-1 2m1-7l-1 1m14-3l2 1m17 6l-1 2m12-3l-1 2m5-1l-2 1m4-7l2 1m7-3l-2 1m4 4l-1 1m2-6l1 0m14 2l1 0m3-3l1 0m1 4l-1 2m4-6l1 1m7 0l0 1m6 0l-1 2m16 6l-1 1m3-3l1 1m4-6l0 1m3-4l0 1m15 0l0 1m14 4l0 1m17-6l1 1m-1-1l-1 1m17 3l-2 1m65 0l1 0m2-7l0 1m7 9l1 1m13-11l-1 2m20-1l-1 1m2 0l0 1m4 0l-1 2m-370 16l-1 2m12-1l1 0m11-7l-1 1m39 2l1 0m9-6l1 2m1-1l-1 2m5 6l1 1m4-2l1 2m6-4l1 0m-1 1l0 1m16 3l1 0m8-10l-1 1m5-2l1 0m-1 8l-1 2m2-4l1 0m10-4l-1 2m8 1l1 0m-1 0l2 1m14 0l-1 2m5-6l1 1m13 8l0 1m8-12l1 2m9 9l0 1m2-10l1 0m-1-1l1 0m121 8l0 1m3-4l-1 1m4-6l-1 1m3 8l-2 1m2-3l-1 1m8-6l0 1m2 5l1 1m1-2l0 1m1 1l1 0m0-1l-2 1m10 1l1 2m2-5l1 0m4-1l0 1m12 2l1 2m-361 6l0 1m47 4l2 1m18-6l2 1m-2-2l-2 1m4 2l0 1m2-5l-1 1m2 2l1 1m0-6l0 1m11 5l-1 2m2-6l-1 2m13-4l1 1m9-1l-2 1m4-1l-1 1m21 8l1 1m4-8l1 0m12 6l1 1m7-7l1 1m4-3l1 0m2-1l1 2m8 2l-2 1m6 3l-2 1m10-8l2 1m-2 6l1 1m6 0l1 0m91-4l1 1m5 1l-2 1m23-6l-2 1m3 3l-1 1m9 1l2 1m0 0l1 0m2-10l-1 2m2 9l1 0m28-9l-1 1m-275 18l0 1m5 1l1 1m4-7l0 1m3 5l1 0m8-11l2 1m1 2l1 0m13-1l-1 1m3-2l1 0m17 5l0 1m4 4l0 1m19-2l-1 1m4-2l-1 1m5-2l0 1m6-2l1 0m5-3l1 0m5 7l-2 1m4-12l1 2m1 2l1 1m84 4l1 0m18-4l1 1m10 0l0 1m3-5l0 1m5 2l1 1m18 2l0 1m1-2l1 2m19-5l-1 1m3 3l2 1m2-8l1 2m20 8l1 1m3-2l1 0m-294 12l2 1m-1-7l0 1m3 3l1 1m4-2l-1 1m4 0l-2 1m4-5l1 1m4 0l0 1m9-6l2 1m3 5l1 1m0-5l0 1m13-1l-2 1m19-1l-1 1m9 3l1 0m1 4l-2 1m10-2l1 2m0-1l1 0m1-8l-1 2m16 2l1 2m115-6l0 1m11 5l1 0m1-7l0 1m2 2l1 0m1 0l-2 1m16 6l1 0m11-7l1 1m28 4l-1 1m1-10l0 1m1 1l0 1m4 2l-1 2m3-6l1 0m8 7l-2 1m5-2l0 1m1 3l1 0m5-2l1 0m-405 6l-1 1m3 2l1 1m69-3l1 2m6-4l1 2m0 2l0 1m6-2l2 1m2 4l-1 2m6-6l0 1m15-7l2 1m1 1l0 1m0 2l1 0m2-5l0 1m4 10l1 1m0-6l-1 2m3-5l1 2m7 3l0 1m8-3l1 0m1 3l-1 1m5-1l-2 1m6-10l0 1m9 8l1 0m22-1l1 0m4-6l-1 2m101 4l-1 1m3-1l0 1m13-5l1 1m9 2l-1 1m9 0l1 0m8-4l-2 1m13 0l1 0m18 4l-1 1m26-2l2 1m18-8l0 1m3 6l0 1m7 2l2 1m-345 9l1 0m3-6l2 1m2 7l1 1m18-9l-2 1m6 6l-1 2m20-2l1 0m20-9l1 2m4 3l1 1m3-6l0 1m3 8l1 1m1-8l1 0m0 8l2 1m11-4l-1 2m6 0l-1 1m14-2l0 1m18-6l0 1m38-1l-1 2m27 2l-1 1m2 2l1 1m10-5l-2 1m2 1l-1 1m6-10l0 1m2 4l-2 1m4-3l1 2m4-3l-1 1m4 8l2 1m7-7l2 1m2 1l-1 1m26-5l1 1m1 2l1 0m-1 1l-1 2m21-7l0 1m4 7l2 1m17-5l1 2m6-2l0 1m2-1l1 1m1 0l-1 2m13 0l1 0m-401 12l0 1m15-6l-2 1m22 2l-2 1m4-2l1 2m10-5l1 2m4-4l0 1m2 1l1 2m3 1l-1 2m2-1l-1 2m7-3l-1 2m10 3l-1 2m7-6l1 2m5-6l-1 2m17-3l2 1m2-3l-1 1m28 4l-1 2m7-3l0 1m2 0l0 1m13 2l-1 2m11-4l-1 1m20-7l-2 1m7 4l-2 1m5 0l2 1m3-5l0 1m16 1l-1 1m4 4l0 1m17-1l1 2m0-9l1 1m2 6l2 1m11-1l-1 2m3-2l2 1m-2-7l-1 2m7-1l-1 1m2 5l0 1m26-9l2 1m0 5l1 0m5 0l1 2m4-6l1 0m3 5l-1 1m3-7l1 0m1 7l-1 2m2-9l-2 1m4 4l-2 1m6 1l1 0m3-10l1 0m7 10l-1 1m7-8l-1 2m21 5l1 2m10-8l1 1m3-1l1 1m1-3l-1 1m3 0l1 1m2 2l1 1m6 2l1 0m14-6l0 1m0-4l2 1m-405 22l1 2m2-12l-1 1m15 0l1 0m1-1l1 0m1 10l2 1m6-1l2 1m6-10l1 0m-1 8l0 1m6-9l1 1m6 8l2 1m5-6l-1 1m1-7l-1 1m3 7l1 0m1-4l1 1m-1 4l-2 1m2 0l1 0m11-3l0 1m10 1l0 1m0-4l1 2m5-1l-2 1m18 2l1 1m27-5l1 2m7 1l-1 2m1-5l1 1m3 2l1 1m18-5l-1 1m6 5l1 1m9-12l1 1m26 7l2 1m10-5l1 1m2 5l0 1m1-2l1 0m16-4l-1 2m7 3l1 2m5-6l2 1m8 1l0 1m2-4l0 1m2-4l1 0m4 4l1 1m4 1l1 2m9-8l1 0m0 7l-2 1m12-5l-2 1m3-5l0 1m0 7l2 1m2 0l0 1m3-5l1 1m-1-3l0 1m1 5l1 0m2 0l1 2m2-1l0 1m1-10l2 1m9-1l1 0m10 0l0 1m4 6l1 0m5-9l0 1m7 4l0 1m2-5l0 1m6 3l1 1m7-5l-1 2m-366 17l1 1m32-4l0 1m0-6l1 0m1 2l0 1m4 4l-1 2m8-7l1 0m5 8l2 1m3-1l-2 1m6-7l1 1m0-5l1 0m3 0l0 1m15 8l0 1m4 0l0 1m10-6l-1 1m19-4l0 1m2 6l-1 2m9-10l-1 2m13 2l1 0m3 1l1 2m1-8l-1 2m17 8l-1 1m12-7l0 1m3 2l-1 2m11-2l1 1m25-4l2 1m1 3l-2 1m3-2l1 2m8 1l1 1m17-6l-1 1m2 1l-1 2m8-1l-1 2m10-3l0 1m45 1l0 1m5 0l1 2m1-5l2 1m1-1l2 1m0-5l1 1m2-3l-1 2m7 7l1 0m5-1l0 1m25 1l1 2m9-11l1 0m2 0l1 0m2-2l1 0m-367 23l-1 2m4-13l2 1m8 7l1 2m2-4l-2 1m6-4l2 1m11-3l0 1m7 1l1 1m13-2l1 1m13 1l-1 2m3-3l0 1m12-3l1 2m16 7l0 1m1-5l-1 1m2-7l-2 1m3 3l1 0m24-2l0 1m10 8l1 0m1-3l0 1m1-6l1 1m3-2l1 0m15 9l0 1m11-8l1 2m55 0l1 0m2 5l1 1m2-6l-1 1m4 4l0 1m4-3l-1 1m2-7l0 1m8-1l-2 1m3 4l-2 1m3-5l1 2m16 5l1 0m41-11l2 1m1 9l2 1m8-11l1 1m16 0l1 1m-336 12l1 2m8 7l-1 2m8-9l0 1m2-2l1 1m-1 6l1 0m3-5l-1 2m18-5l-2 1m6-3l1 2m5 7l1 0m20 0l1 0m1-1l0 1m10-1l0 1m2 0l0 1m23-1l-1 1m2-8l-2 1m8 1l-1 2m6-6l1 0m4 7l0 1m5-4l-1 2m2-5l1 2m0 8l1 0m0-5l1 0m2-5l-1 1m3-1l0 1m23 3l1 1m5 0l2 1m47-4l1 0m-1 3l1 2m3-6l1 0m6 9l1 1m5-11l-1 2m8 5l1 0m6 3l-2 1m3-12l-1 1m11 8l1 1m14 1l1 1m28-3l-1 2m18-8l2 1m8 4l0 1m9 1l1 1m-341 2l1 2m6 2l1 0m-1-2l1 0m8 0l1 2m3 6l1 2m0-9l1 0m6 7l0 1m1-9l-1 2m14-4l2 1m8 9l1 1m1-11l1 0m4 6l1 0m4 2l-1 1m2-8l-2 1m2 0l2 1m4 5l-1 1m4-1l0 1m5-10l1 1m12 3l2 1m13-5l-1 1m4 10l2 1m-1-7l1 2m-1-7l1 0m27 10l1 2m0-4l0 1m4-8l1 0m2 3l1 2m2 4l1 0m1 0l1 0m4-8l1 1m5 0l-2 1m59-4l-2 1m13 0l0 1m12 3l1 2m3 3l-2 1m4-8l1 2m-1-5l-1 2m5 9l-2 1m28-8l-2 1m3 4l1 1m0-5l2 1m7 0l2 1m4-7l0 1m12 7l1 1m3-2l-1 2m2-7l1 2m13 5l1 0m-1-5l2 1m0 6l-1 1m12-11l1 1m-334 18l1 2m3-1l2 1m3-5l1 0m2 6l1 0m16-9l-1 1m7 0l1 1m9-3l-1 1m3 5l0 1m18 0l1 1m2-4l0 1m2-6l2 1m6 0l0 1m17 3l1 0m-1 2l0 1m12 2l-2 1m12 0l0 1m5-5l1 1m0 1l1 0m2 0l1 0m3-8l-1 2m4 7l1 0m2-9l2 1m-2 4l1 0m8-2l1 0m6 0l0 1m69 1l0 1m11-2l1 0m2 2l-1 2m17 1l1 1m2-10l0 1m4 4l2 1m2-3l0 1m6 1l-1 2m2 2l-1 2m4-7l1 0m1-1l-2 1m19 4l1 0m0-4l1 1m2-2l-1 1m3 6l0 1m4-9l-2 1m6 6l0 1m2-2l1 1m1 0l1 1m0 0l-2 1m20-3l0 1m10-9l1 0m2 6l1 1m-1-7l-1 1m7 7l-1 2m-356 10l1 2m8-9l1 0m6 3l1 1m-1 5l2 1m0-9l1 0m2 2l0 1m4-6l-1 1m1 10l0 1m10-10l1 0m6 3l0 1m1 4l-2 1m2-5l1 2m16 3l2 1m17-9l2 1m20-1l1 2m10-3l-1 1m2 8l1 1m0-9l0 1m31 1l-1 2m3 2l0 1m2-9l1 1m1 1l-1 1m15 1l1 0m49 6l2 1m9-11l1 1m1-2l1 1m0 4l1 2m0-5l1 2m0-2l1 0m18 7l1 1m7-8l-1 1m5 5l-1 2m2-9l-1 2m21 2l1 2m4-4l1 0m23-2l1 0m12 8l0 1m21-9l1 0m8 10l1 1m-348 9l1 1m6-2l1 1m6-9l-1 2m2 3l0 1m10 0l2 1m-1 0l0 1m4-6l1 1m1 1l1 0m0 2l-1 1m2-5l1 2m7-4l1 1m10 0l1 1m19 3l-2 1m6-1l1 1m0-2l1 2m1-5l0 1m15 0l0 1m14 1l2 1m6-2l-1 2m1 4l0 1m9-3l1 2m1-1l1 2m0-2l1 0m0 2l1 2m1-5l1 0m3 3l1 0m11-9l-1 1m3 3l1 0m5-3l-2 1m4 6l-1 2m7-1l0 1m7-10l1 0m13 8l1 0m2 1l-1 1m32-6l-2 1m9 5l2 1m0-11l1 0m16 9l0 1m3-7l0 1m4-2l1 2m12-1l0 1m2-3l1 1m-1 2l-2 1m3-5l0 1m2 2l1 2m0-4l-1 1m8 6l0 1m1-1l0 1m3-2l-2 1m12-9l-1 2m4 4l-1 1m19 1l-2 1m4-3l-1 1m6-6l1 2m12 2l2 1m11 2l-1 1m2-7l-2 1m3 2l1 0" stroke="#9ca2c6"/>
<path d="M568 936l0 1m2 0l0 1m5 6l0 1m7-8l-1 1m6 1l-2 1m2 1l1 0m4 2l1 2m4-1l1 2m1-4l0 1m7-6l1 0m10 8l-1 1m3-3l0 1m3 3l2 1m6-9l1 0m0-2l-1 2m15 0l1 0m1 6l0 1m14-5l1 0m-1 1l1 0m7-5l2 1m-2 3l1 0m-1-2l1 0m2 7l0 1m5-6l-1 2m23-7l0 1m1 8l1 2m19-6l-2 1m2 2l0 1m3-4l-2 1m12 1l1 0m-1 3l1 0m16-6l-2 1m38-1l-2 1m6-4l0 1m0 5l1 0m10-4l-2 1m30 1l1 1m10 5l-1 2m3-4l0 1m4-2l1 2m0-8l1 0m1 8l2 1m4-4l-2 1m67-6l1 0m5 0l2 1m16 3l-2 1m11 3l-1 2m3-7l-2 1m4-2l-2 1m6 6l0 1m1-6l1 0m0 1l0 1m5 3l-2 1m6-10l1 0m13 6l2 1m-1-5l0 1m1-4l0 1m3 0l1 1m0 7l-1 2m-427 4l2 1m-1 6l-1 2m5-2l-2 1m4-8l1 0m1 4l-2 1m9 0l0 1m9-3l2 1m-2 2l1 0m4-5l2 1m7-5l-1 1m8 6l-1 1m2 1l-2 1m6-4l1 2m3-1l0 1m0 2l1 0m-1-7l-1 2m24-5l2 1m-1 1l-1 1m2-2l1 0m3 2l0 1m5 0l1 2m13 2l-1 2m3-3l1 0m1 3l2 1m4-4l-1 1m5-1l-1 2m8-5l0 1m10-1l1 1m8-4l0 1m2 7l0 1m8-10l1 0m2 1l-1 1m1-2l-1 1m2 9l1 1m10-9l-1 2m10-5l2 1m0 7l1 1m6-5l1 0m1 1l1 2m7-3l2 1m5 3l2 1m38-1l0 1m4-4l1 1m4-3l0 1m3-1l-1 2m5 2l1 0m0-4l-2 1m6-4l0 1m2 9l0 1m6-2l1 1m33-4l1 0m0 2l0 1m0-2l1 0m-1-2l1 0m22 5l1 2m5-6l0 1m11-6l1 0m9 8l-1 2m9-11l1 0m19 2l1 0m2 2l2 1m9 2l2 1m8 0l1 0m10-8l0 1m18-1l-1 2m2-2l0 1m4 3l1 1m-1 6l0 1m9-10l2 1m-455 12l-1 2m3-2l-1 2m4-2l2 1m0 7l1 2m0-13l-1 1m2 6l0 1m1 0l1 2m12-9l1 1m7 7l-1 2m3-8l-1 1m3 5l-1 2m10-5l1 1m4-6l0 1m0 2l1 2m0 1l0 1m6 1l-1 2m5-9l1 0m1 0l1 0m5-1l1 0m1 9l-1 2m19-12l2 1m-1 2l1 2m4-4l1 0m2 5l1 0m12-4l-1 2m8 7l1 0m3-3l1 0m5 3l1 0m3 0l0 1m6-5l-2 1m6-5l1 0m6 3l0 1m7 2l2 1m13-4l2 1m0 0l0 1m7 2l-1 2m7-5l0 1m1-3l1 1m8-5l1 0m5 8l-2 1m11-1l1 1m5-9l0 1m2 1l2 1m6 7l-1 1m14-6l-1 2m3-5l1 0m2 0l0 1m4 3l-1 1m8-2l0 1m1-7l-1 2m9-1l1 1m5 0l0 1m2-3l2 1m39 2l0 1m4 5l-1 1m5-9l1 1m8 9l-1 1m9-5l0 1m0-7l1 0m8 7l-1 2m3-9l-1 2m22 6l2 1m2 1l-1 1m7-6l2 1m3-7l-1 1m1 5l1 0m1 3l2 1m2-2l0 1m3 0l-2 1m5 0l0 1m7-1l1 2m4-10l1 2m3-1l1 0m4 7l1 0m2-2l1 0m4 1l0 1m19-5l1 0m-443 16l0 1m15 1l-2 1m2-2l1 0m11-8l1 1m-1 2l-2 1m6 4l1 1m1-5l-1 1m14-3l1 2m2-6l-2 1m4 3l0 1m7 4l2 1m2-9l0 1m14-2l0 1m0 10l1 0m3-7l1 0m8 6l-2 1m5-5l-1 2m3 0l2 1m12 2l0 1m10-5l0 1m3-6l0 1m4 0l-1 2m11-5l2 1m-1 4l0 1m20 3l-1 1m24-3l1 0m0 0l-1 2m3-5l1 1m4 0l0 1m2-3l1 2m4-1l0 1m0 2l1 2m1-8l1 2m7 2l-1 1m28-2l0 1m9-3l1 2m5 0l-1 2m72 3l2 1m23-9l-1 1m7-2l-1 1m2-1l0 1m5 1l1 0m1 3l0 1m16 3l-1 1m5-4l-1 2m8-6l2 1m8 2l-1 1m11-5l1 0m-402 19l-2 1m4-5l1 1m16 0l1 0m13 6l1 0m3-10l1 2m9 3l1 1m-1-6l0 1m2 2l1 0m11 7l0 1m3-5l0 1m10-8l-1 1m1 3l1 0m3 2l1 0m8-2l1 0m1-2l-1 1m18-3l1 1m11 0l1 1m1-1l-1 1m4 8l1 1m5 0l-1 1m3-5l2 1m-2-6l0 1m6 0l1 0m4 2l0 1m5 4l1 0m4-7l0 1m10 4l0 1m6-8l0 1m1 8l1 2m2-9l1 0m0 6l1 0m9-1l2 1m3-3l1 0m1 0l0 1m2 2l-1 1m5-10l-1 2m3-1l0 1m8 7l0 1m18-10l1 2m10 5l-2 1m2-4l-1 2m4 5l0 1m0-3l-2 1m11-8l-2 1m3 5l0 1m66 2l-1 1m5-2l1 0m8-5l-1 2m9 4l1 1m4-3l1 0m1-1l2 1m6 2l0 1m4-1l1 0m1-6l1 0m13-2l1 1m7-4l-1 1m-381 15l1 0m9-3l2 1m3 5l1 2m2-6l-1 1m4 4l1 1m18 1l0 1m16-6l1 1m2-5l-2 1m15 3l0 1m3 3l1 1m12-5l1 0m3-5l-1 2m5 1l1 0m1 7l-2 1m3-3l-1 1m6 0l1 2m14-6l-2 1m8 2l1 1m2-4l-2 1m8 5l0 1m3-3l-1 2m16-8l1 2m-1 2l-2 1m5-1l-2 1m3 0l1 0m3-6l1 2m1-2l1 0m4 2l1 1m27 6l1 2m0-8l-1 1m29-6l-1 2m6 1l1 0m20 2l0 1m2-5l0 1m1 5l2 1m67-8l1 0m1 0l2 1m2 6l1 1m6 2l-1 2m10-1l-1 2m3-11l-1 2m11 6l1 0m-1-6l2 1m-351 15l-2 1m5-1l1 0m6-8l1 0m17 8l-1 2m29-10l0 1m1 2l-1 2m14-5l1 1m5 4l1 1m0 3l-1 1m15-6l1 0m3 3l-1 1m12 1l-1 2m8-6l0 1m15-6l1 0m5 4l-1 2m2-3l1 1m5 1l1 0m8-1l1 2m9 4l-2 1m6-9l1 2m7 5l0 1m144-3l0 1m17-8l1 1m1 8l0 1m-338 8l-2 1m3 1l-1 1m59-9l1 0m1 1l-2 1m8 7l1 2m0-8l-2 1m6-1l1 0m0 3l-1 2m4 2l1 0m-1-10l2 1m1 10l-1 1m18-2l1 0m1 0l1 2m0-9l-2 1m44-1l-1 2m3 0l0 1m20-5l0 1m12 6l1 0m0 1l1 2m-1-1l-1 1m14-3l0 1m2-8l-1 1m109 5l1 1m7-4l1 0m7-4l1 0m0 4l1 2m2 3l-1 1m1-1l1 1m12-4l-2 1m12-2l-1 1m19-2l0 1m-367 7l0 1m7 10l1 0m67-11l-2 1m7 2l-2 1m7 7l-1 1m15-4l2 1m1-8l0 1m2 0l0 1m0 2l1 1m-1 5l2 1m-1-11l-1 2m2 1l1 0m28 3l1 2m15 2l1 0m3-8l1 0m5-3l-1 1m7 2l0 1m9-4l1 0m-1 6l-1 1m3-2l1 0m0 6l2 1m-1-2l2 1m107-2l1 2m2-5l1 1m2 1l-2 1m31 1l1 0m1-9l2 1m9 0l-1 1m2 4l-2 1m15-1l-1 2m10 2l-2 1m6-6l-1 1m9-3l-1 1m2 6l-1 2m4-5l2 1m-375 5l-1 2m85 0l1 0m1-2l0 1m15 1l-1 2m5-3l-1 1m14 1l1 0m4-1l0 1m19 4l-2 1m7-6l1 0m12-3l1 1m0 5l-1 1m14-3l-2 1m109-2l-2 1m7 3l-1 2m17 0l2 1m-2-6l1 0m7 6l1 1m0-9l1 2m6 3l1 0m2 2l-1 1m5-5l-1 2m8-7l2 1m3 5l-1 2m11 2l-1 2m1-6l1 0m0-7l2 1m2 5l0 1m1-7l1 1m3 6l-2 1m7 2l-1 1m13-2l-1 1m2-8l1 0m3 0l-1 2m1-4l1 0m6 7l1 0m-1-7l1 0m-391 23l-1 1m6-4l1 2m67-7l0 1m4 2l-1 1m13 3l-1 2m2-1l-1 1m6-10l1 1m32 5l1 1m0 1l-1 2m3-8l0 1m0 1l1 2m2-2l1 0m8-1l-2 1m6-3l1 0m-1 7l0 1m6 0l-1 1m10-9l-2 1m4-3l-1 2m1 8l-2 1m4-4l0 1m3-1l1 1m0 0l0 1m2-2l1 0m1 1l1 0m3-4l0 1m1 4l-1 1m2 0l-1 1m11-9l1 0m3 5l1 2m4 0l1 0m35-10l0 1m49 10l0 1m4-9l2 1m-1-3l2 1m6 5l1 0m2 2l2 1m4-4l1 0m0-2l1 1m2 4l0 1m7-2l0 1m3-4l1 2m3 3l1 2m6-1l-1 2m2-5l2 1m11-6l0 1m31 6l1 0m5-7l-2 1m4-4l0 1m15 1l-2 1m3-1l1 1m0 3l1 0m2-1l1 1m2-5l1 1m2 6l1 0m4-2l-2 1m-406 5l-1 1m4 9l-1 2m56-10l2 1m1-1l0 1m6-3l-2 1m6 5l-1 2m13-7l1 1m26-2l0 1m24-1l-1 2m6 1l0 1m5 4l-1 1m2-9l1 2m1 7l1 2m2-8l-1 2m16 3l-1 2m6-3l1 0m1-2l-1 2m4-2l-2 1m6-1l0 1m3 1l1 0m0-1l2 1m0 1l-1 1m3-7l0 1m17 7l-1 1m4-3l-1 2m68 0l0 1m4 0l2 1m1-5l-1 2m5-7l1 1m5-1l1 0m5 6l0 1m0 0l0 1m0 1l-1 1m8-3l2 1m-1 1l-1 1m2-8l0 1m6 1l1 1m13-4l0 1m6 1l0 1m19 1l0 1m11-4l2 1m0-1l1 0m9 1l1 2m7-6l-2 1m11 7l0 1m12-6l2 1m-410 7l-1 1m7 8l-2 1m21 1l-2 1m13-7l0 1m10 1l0 1m3-4l0 1m5-2l0 1m4-1l1 1m5 2l-2 1m20-6l1 0m-1-1l1 1m27 1l0 1m16 1l1 0m4 5l1 1m2-5l-1 2m2-5l1 0m4 4l1 1m10-6l-1 1m11 5l2 1m6 1l1 0m1 0l1 0m6-3l-1 2m29 1l1 0m7 0l0 1m3 1l-2 1m4-2l-1 2m11-4l-1 2m5-2l1 0m12-3l-1 2m12-6l2 1m4 4l1 0m0 5l0 1m18-2l1 0m5-4l-2 1m8-2l-1 2m3 3l1 2m0-5l2 1m-1-2l0 1m10-7l0 1m17-1l-1 1m3 3l-2 1m5 1l1 2m11-6l1 1m0-3l0 1m10 6l1 2m8-6l1 2m6-1l-2 1m23 1l-1 2m10-6l1 0m-401 12l-2 1m4 0l1 0m17-1l-1 1m2 1l-1 2m9 1l1 2m1-8l-1 1m12 4l1 1m3-6l1 2m1 7l1 0m7-7l2 1m4 7l0 1m12-10l0 1m0 6l-1 1m1-1l2 1m3-8l1 0m2-2l-1 1m8 9l-2 1m15-6l-2 1m3-1l0 1m21-4l-1 1m3 7l-1 2m16-11l1 2m3 6l-1 2m30-6l-1 1m4 0l0 1m13-1l-1 1m5-2l1 1m9 5l-1 1m18-4l2 1m3 1l1 2m7-7l1 0m0 1l-1 1m21 3l1 0m11-7l1 0m8 2l1 1m2-4l2 1m1 6l1 1m4-2l1 0m3-3l-2 1m12 4l-1 1m3-7l-2 1m10-3l-1 1m7 7l1 0m12-6l-2 1m6 5l1 0m-1-5l1 0m15-5l-1 2m9 6l-2 1m17-3l1 0m5-1l-1 2m2-3l2 1m2-4l1 1m6-2l1 2m-389 14l1 1m3-2l0 1m7-1l1 1m14 6l1 1m15-10l0 1m4 9l-1 2m10-10l0 1m2 3l-2 1m24-3l2 1m28 1l1 2m-1-9l1 1m5 9l0 1m1-10l1 0m-1 8l1 0m1-8l-1 1m22 7l1 2m13-5l0 1m4 4l1 1m1-1l-1 1m6-8l1 1m1-5l-1 1m4 3l1 0m1-3l1 1m35 9l1 0m-1-10l0 1m3 2l0 1m1 1l0 1m8-2l-1 2m5-1l-2 1m12 1l0 1m15-6l1 0m2 7l1 0m2-3l1 0m14-2l1 0m18-5l1 0m35 7l2 1m3-8l1 1m1 3l-1 2m10-2l-1 1m2 5l-2 1m10 0l1 0m-351 8l-1 2m3-6l1 1m8-3l-1 1m3 3l0 1m1-6l1 2m11 0l-2 1m19 0l-2 1m3 7l-1 1m9-7l-1 1m17-6l1 2m4 0l1 2m5-4l1 0m8 4l0 1m7 0l0 1m0 0l-1 1m8-3l0 1m3-4l-2 1m8 9l2 1m0-7l2 1m0-5l2 1m1 3l2 1m3 3l1 2m16-2l1 2m-1-8l1 1m4 7l0 1m5-11l-1 2m1-1l1 1m3 7l0 1m3-4l-1 2m2 0l0 1m0-7l2 1m7 4l1 2m1-10l0 1m45 5l1 2m0-1l1 2m5 2l1 1m15-7l0 1m2-5l1 0m1 2l-1 1m51 7l-2 1m25-3l-2 1m11-1l2 1m-1-2l-1 1m9-6l-1 2m5-3l1 0m4 2l1 0m-1 3l1 0m-340 8l-1 2m4-3l-1 2m4 1l-1 1m7-2l1 2m6 1l-2 1m43-8l-1 1m5 7l1 1m3-7l0 1m14 5l1 2m10-10l-1 1m12 0l2 1m12 8l1 1m2-9l1 1m0 1l1 0m10 4l0 1m1-6l0 1m19 0l-1 2m8-4l0 1m60 0l2 1m4-1l1 1m13 2l-1 1m2-4l0 1m3 2l1 1m1-2l1 0m2 2l-1 1m3-4l1 1m14 3l1 1m8 1l0 1m5-8l0 1m6-3l0 1m2 3l-1 2m17-6l1 1m18 4l-1 2m-324 12l2 1m12 1l-1 1m1-6l1 2m8 3l-1 1m14-8l0 1m5 7l1 1m4-6l-1 2m11-7l0 1m0 1l0 1m3 4l1 2m13-7l0 1m4 6l-1 2m14-4l-2 1m3 1l1 1m0-11l0 1m0 2l1 2m6-1l1 2m13-1l1 1m1 1l0 1m6-5l2 1m1-4l1 1m0 0l0 1m1 4l1 0m4 3l1 2m5-10l-2 1m8 0l1 2m4-2l0 1m4 5l1 0m3-1l-1 1m89-3l0 1m0-3l0 1m8-1l1 0m0 6l1 0m9-9l-1 2m9 7l2 1m12-10l0 1m2 0l2 1m17 0l0 1m9 4l2 1m21 1l1 0m6-2l2 1m-343 11l-1 2m14 2l1 0m0-1l0 1m0-7l-1 1m20-3l0 1m3 2l1 1m6 1l1 0m0 1l0 1m9-1l-1 1m4 2l2 1m-1-8l-1 1m14 6l0 1m16-8l2 1m-2 2l2 1m9-7l0 1m1 1l1 1m0 3l1 1m7-8l0 1m5 3l1 0m0 7l0 1m5-11l-1 2m6 8l1 2m-1-8l-2 1m7 3l2 1m1-5l-2 1m3 2l1 1m3-1l-1 1m23 1l1 0m1-10l0 1m40 4l0 1m27 0l1 1m0 1l1 0m3-7l-2 1m44 5l-1 2m15-3l1 0m7 5l1 1m18-10l1 1m4 0l1 0m1 8l1 0m9-7l-1 2m9-5l1 1m5 6l0 1m-344 4l2 1m2 8l1 0m3-5l-1 2m2-4l0 1m10 0l1 2m12 2l2 1m14 1l1 0m0-10l0 1m6 0l2 1m5 9l1 0m2-10l1 2m15-1l-1 1m7 0l0 1m21 1l2 1m1-1l0 1m2-3l0 1m2-2l-1 1m2 0l1 2m12 3l2 1m6-6l0 1m4 6l-2 1m23-1l-1 2m46-11l1 2m7-3l-1 2m8 4l1 1m0-4l1 0m2 3l-1 2m10-6l-1 1m6 6l0 1m6-1l-1 2m11 0l1 2m0-7l1 1m3-4l-2 1m12-3l-2 1m8-1l2 1m4 5l0 1m0-1l-1 1m13-3l0 1m11 5l1 0m7-7l-1 1m4 4l1 1m3-7l-2 1m17 4l-1 1m3-8l0 1m1 8l0 1m14 0l-2 1m-358 7l1 0m7 4l0 1m3-4l-2 1m3-3l0 1m1 3l-1 2m1-12l1 2m1 1l-2 1m15-3l1 2m0 0l-2 1m18-1l0 1m9-3l2 1m4 3l0 1m0-4l2 1m18 2l1 1m1-4l0 1m1 1l-2 1m3-2l-2 1m12-2l1 2m0 5l-2 1m5-5l1 1m3 5l1 0m0-11l0 1m0 9l0 1m8-8l1 1m0 1l-1 2m8-7l1 0m0 2l-1 2m9 5l0 1m12-10l1 1m24 2l0 1m33 6l2 1m15-7l1 2m4 3l0 1m12-7l0 1m6 0l1 0m2 7l1 0m5-7l1 0m13-3l0 1m1 2l1 0m43 2l0 1m39 1l-2 1m12 0l0 1m6-10l-1 2" stroke="#8188b3"/>
<path d="M566 945l1 2m0-7l1 0m3 7l1 0m5-4l-1 1m4-7l2 1m8 2l1 0m-1 1l1 2m0 2l0 1m2-1l0 1m6-9l1 1m5 0l0 1m3 6l1 2m19-2l1 0m2-6l-2 1m6-1l-1 2m5 3l-2 1m2-1l-1 2m2-3l-1 1m12-5l-2 1m9 3l1 2m9-1l-1 2m13-4l0 1m6-4l1 0m4 0l0 1m3 6l-1 1m11-5l0 1m0 0l-2 1m11-6l1 0m1-1l-2 1m9-1l0 1m10 2l2 1m-1 0l-1 1m9-5l0 1m11 1l1 0m9 5l-1 1m10 0l1 0m0 0l2 1m8-1l1 2m7-2l1 0m13-4l1 0m1 4l1 0m3-5l1 0m32 2l1 1m3-5l0 1m61 5l1 1m28 0l1 0m7-7l1 1m4 8l0 1m9-10l-1 1m10-2l2 1m-2 1l-1 2m1 0l-2 1m7 5l1 0m6-8l0 1m1 1l1 0m0 4l1 0m-1-3l0 1m0-6l1 2m2-3l0 1m5 8l2 1m3-8l0 1m8 7l1 2m-1-3l0 1m7-2l1 2m2-2l0 1m3 2l1 0m-457 11l-1 2m8-6l0 1m10 2l2 1m-1 1l2 1m2-2l1 0m9-7l1 0m26 5l-1 1m5-1l1 1m1-9l2 1m0 7l2 1m0-5l-1 2m7-5l0 1m4 0l1 2m0 1l0 1m14-1l0 1m1-5l-2 1m2 5l0 1m8-4l-2 1m10 4l1 1m0-4l1 1m9-7l0 1m6 4l0 1m2-2l0 1m2-2l2 1m6-3l1 0m-1 8l0 1m1 1l0 1m0-12l2 1m23 2l-2 1m4 0l0 1m10 6l-1 1m6-1l0 1m2-5l-2 1m4 1l1 1m0 1l1 0m1-5l-1 1m11-1l2 1m0-1l1 0m2-3l-1 1m10-3l1 0m3 2l0 1m0-2l1 1m10 5l-1 1m7 2l1 0m3-9l-1 1m7 7l1 0m15-8l0 1m4 8l-1 2m2-3l1 0m1-1l1 0m8 2l1 0m65-11l1 2m23 3l1 2m12 3l0 1m14-9l1 2m5-2l2 1m13 2l0 1m6 3l1 2m2-7l1 0m2 1l1 0m1 0l-1 2m19 4l-1 1m6-3l-1 2m-449 7l1 2m38-6l0 1m3 2l-1 1m11 1l1 1m3-8l1 0m3 0l1 2m4 6l1 0m1-1l-2 1m7 1l2 1m6-3l1 2m5-8l-1 1m4-1l2 1m12 0l0 1m1 8l1 2m7-3l0 1m8-11l0 1m5 5l1 2m2-2l1 0m0 0l-1 1m4 3l1 0m6-3l-1 1m14 3l1 2m1-4l1 0m3-4l1 0m6 3l0 1m0-3l1 2m0-6l1 1m20 0l1 0m13 2l1 2m-1-7l1 0m1 1l1 0m0 0l1 2m-1 8l1 1m3-9l0 1m5 0l1 1m1 2l1 1m6-6l0 1m2 6l-1 1m8-2l0 1m2-9l2 1m-2 3l-2 1m5 6l0 1m18-10l0 1m3 5l1 0m15-7l1 2m25 5l1 0m9-8l1 1m14-1l1 0m5 3l1 1m0 3l-1 1m1-5l1 2m15-5l0 1m5 10l-1 1m16-7l0 1m0-4l0 1m8-2l1 0m3 8l1 2m3-7l1 2m0-6l1 2m17 8l-1 2m16-3l1 1m0-3l1 1m11-1l1 0m5-1l1 0m-438 9l0 1m3 6l-2 1m3-7l-1 2m3 3l1 2m2-8l-1 2m12 3l1 2m2-8l1 0m4 2l2 1m8 3l-1 2m23-9l-2 1m18 1l-2 1m6 0l1 1m11-1l1 0m1 2l0 1m6 2l0 1m0-9l1 0m6 1l1 2m1 6l-2 1m12-2l-1 1m2-9l-2 1m6 2l1 1m12 0l2 1m0 2l1 1m3-8l2 1m21 5l-1 2m9-7l1 0m5 7l-1 1m4-5l1 0m8-2l0 1m2 4l1 2m22-2l-1 1m9-5l1 0m6 3l2 1m0-4l1 1m7 1l0 1m2-1l-2 1m5-7l0 1m5 0l-2 1m3 5l1 0m2-4l1 1m3 6l2 1m32-2l0 1m36-7l-2 1m3 3l1 1m1-8l0 1m1 4l0 1m3-6l0 1m4-1l1 1m16 3l-1 1m9 1l1 0m0-5l0 1m2 6l2 1m1 0l0 1m1-3l-1 1m8-2l1 0m0-3l0 1m1 3l0 1m15-2l1 2m1-8l1 0m-381 13l-2 1m7 9l2 1m0-5l0 1m13 3l1 2m13-9l1 0m1-1l0 1m17-2l0 1m3-3l-2 1m11 5l-2 1m8 2l-1 1m3-3l1 2m10-4l1 2m7-1l0 1m0 1l0 1m8-7l0 1m0 6l-2 1m9 1l-1 2m1-7l2 1m43 2l1 1m2-2l2 1m1-5l-2 1m34-2l0 1m0 4l1 0m-1-7l0 1m2-1l1 0m3 0l-1 1m6 8l-1 2m19-2l1 1m2-11l-1 1m7 6l1 0m0 2l1 2m3-3l1 0m38-4l1 1m41-2l-1 1m11 7l1 0m19-1l2 1m-2-3l1 1m9 1l1 2m-367 1l-1 1m5 7l-2 1m10-1l-1 1m12-4l1 0m1-6l1 0m8 9l1 2m-1-5l1 0m15 3l0 1m24-10l-1 1m5 7l2 1m1-6l1 0m1-1l0 1m1 3l1 0m12 5l0 1m2-11l1 1m0 3l2 1m1-4l0 1m22-3l1 1m19-1l0 1m12 8l-2 1m6-5l-1 2m3-7l-2 1m7-1l0 1m2 3l1 0m0-3l-1 2m13 8l-2 1m2-1l1 0m2-11l-1 1m6 3l1 2m3 1l-1 1m1-2l1 0m14-6l0 1m38 3l1 2m0-5l-1 2m72-1l0 1m5 4l1 0m0 1l-1 1m7-6l1 1m0 3l1 1m5 2l0 1m7 0l0 1m1-6l-2 1m-334 12l1 1m1-6l1 0m1 4l1 1m31-6l1 1m3 2l0 1m11-2l0 1m5 7l1 0m36-6l-1 2m9-1l1 1m1-4l1 2m11 2l-1 2m12-7l1 2m3 4l1 2m8-9l-1 2m2 8l-1 1m5-7l-1 2m3 4l-1 1m3-4l-2 1m14 0l1 0m0-5l1 0m21 6l1 0m-1-2l-2 1m122-6l1 0m16 5l-1 1m7-9l1 0m1 2l1 0m-1 5l-1 2m11 0l1 1m5 1l1 0m0-1l2 1m-364 2l1 0m70 6l2 1m25-2l1 0m2-1l1 0m2-4l1 0m21 6l-2 1m14-2l1 1m3-7l1 1m24 7l0 1m5-5l-1 1m4 4l-2 1m6-4l1 2m5-1l0 1m7-4l1 0m6-3l-2 1m16 1l1 0m78 7l1 0m14-4l1 0m0-1l1 0m4-4l1 2m8 3l1 0m10-5l1 0m0 5l-2 1m8 2l-1 1m6-9l1 2m3 2l-1 2m14-4l2 1m-288 19l0 1m9-2l-1 2m5-1l1 2m8-12l0 1m24-1l-2 1m5 2l1 1m46 3l1 1m-1-4l-1 2m13 3l0 1m0-7l-1 2m2-1l0 1m3 5l1 1m50-11l-1 2m57 7l-1 2m13-8l1 0m6 1l-1 2m11-2l1 2m1-6l1 0m44 5l0 1m2-1l1 1m-303 13l0 1m8-7l0 1m2-1l1 1m-1 1l2 1m2 5l0 1m2-7l1 1m1 6l0 1m9-1l0 1m1-2l1 2m12-9l-2 1m13 5l0 1m20-5l1 1m1-2l-2 1m39-3l1 2m3 2l1 0m7 4l0 1m94-5l-1 2m4 3l1 1m2-5l1 0m13-4l-1 1m7-1l1 0m1 0l1 0m3 4l-1 1m11-7l1 2m3 0l0 1m1 7l1 2m0-12l2 1m2 7l1 0m11 1l1 1m10-11l2 1m6 3l1 0m15 2l-2 1m6-6l0 1m12 7l1 0m-402 7l1 0m69 5l1 2m12-7l1 1m10 1l0 1m8-3l1 1m15 0l-1 1m2 1l-2 1m18-8l1 0m6 2l-2 1m3 5l0 1m15-1l1 0m0-2l0 1m0 2l1 0m2-8l1 0m8 7l1 1m2-6l1 2m0-2l-1 1m7-1l1 0m-1 3l1 0m2 2l0 1m98 1l-1 1m13-10l-1 1m7 3l0 1m7 5l1 0m3-9l-1 2m4 5l0 1m10-1l1 0m1-4l0 1m9 3l2 1m4-1l-1 1m2-3l0 1m1-4l1 2m5-4l-1 2m9 5l-2 1m3-5l-2 1m5-4l-2 1m39 4l1 0m-402 7l1 2m60 3l1 0m6 4l1 1m-1-1l0 1m14-5l-1 2m2-1l1 1m9-7l1 1m9 6l-1 1m3 1l-2 1m11-6l0 1m17-5l-1 1m22 3l0 1m4-2l-1 2m3 2l-1 1m2-5l1 0m6-4l1 0m10 7l0 1m4 2l-2 1m14-1l0 1m10-8l-2 1m13 3l-2 1m14-7l1 1m52 0l0 1m9 5l1 1m4-6l1 2m-1-3l-1 2m3-5l0 1m3 2l0 1m7-3l1 2m1 0l1 0m6 2l0 1m2 1l0 1m24 1l1 0m4-4l-1 2m7-2l2 1m-1 0l1 2m9-3l0 1m10 0l-2 1m4 3l0 1m5-9l1 0m1-2l-2 1m5-1l-1 1m7 2l1 1m4 5l1 1m11-1l1 0m4-7l1 0m-394 16l-2 1m18 4l2 1m6-6l-1 1m26 0l-1 1m4-6l-1 1m9 8l1 2m3-8l-1 2m7-7l0 1m20 10l0 1m28-6l1 0m1-6l2 1m10 7l1 2m5 0l-1 2m2-5l-1 2m4-6l1 0m3 8l0 1m0-1l2 1m-2-7l1 2m-1 3l0 1m2-8l2 1m-2 7l-2 1m3-9l-2 1m4 0l-2 1m23 4l-1 1m4-7l-2 1m11 7l0 1m6-4l0 1m3 1l1 0m0-10l-2 1m8 5l-2 1m36 2l2 1m3-9l1 0m0 2l1 0m4 8l-2 1m6-3l-1 2m2-1l2 1m10-4l1 0m8-4l-1 1m4 5l2 1m6 0l2 1m-1-8l1 1m5 6l1 0m6-3l0 1m2 2l-1 2m4-6l2 1m4-2l-2 1m13-4l-1 2m4 7l-1 2m2-11l1 2m9 7l-2 1m3-8l1 0m0 4l-1 1m12 2l1 0m13-1l0 1m9-10l-2 1m11-1l1 0m2-1l2 1m-400 12l1 1m23-2l-1 1m3 10l1 2m2-9l1 1m0 1l-2 1m8-4l0 1m6 1l0 1m14-4l-1 2m5 5l-1 1m9-8l-2 1m6 2l1 0m7-2l0 1m0-3l0 1m26 9l1 2m9-3l-1 1m9-2l-1 2m8-3l1 2m2-10l0 1m5 9l1 1m13-11l1 0m13 1l-2 1m7 3l1 2m3-4l-2 1m10-2l-1 1m11 5l0 1m4-5l0 1m15-1l-2 1m3-5l-1 1m6 7l1 2m18-5l-1 1m15 3l1 0m6-3l0 1m7-1l-1 2m2 3l1 1m11-7l-2 1m3-1l2 1m4 2l-1 1m16-2l2 1m0 2l1 0m9-6l1 0m7 7l-2 1m3-6l2 1m1-6l2 1m3-1l-1 2m4 8l0 1m7-1l0 1m2-10l-1 2m5 7l0 1m12-11l1 0m-1 6l1 0m3-7l1 0m5 6l1 0m1 2l1 1m6-5l-1 1m-372 12l-1 1m5 1l1 2m7 1l1 2m1-12l1 2m25 9l2 1m18-3l0 1m7-9l-1 2m1-1l1 0m2 0l1 1m0 2l1 2m4 1l1 0m27-4l0 1m1-2l-2 1m9-4l-1 1m9 9l1 2m8-4l0 1m2-7l1 0m20 5l1 0m3-6l0 1m17 6l1 1m25-3l-1 2m6-4l2 1m8 3l1 0m1 2l1 0m14-4l-1 2m34-1l-2 1m2-4l1 2m6 0l2 1m-1 1l0 1m20-9l0 1m13 9l0 1m0 0l1 0m6-8l2 1m0-3l1 2m-1-1l-1 2m7 2l1 0m-1-5l1 2m1-2l0 1m11 0l0 1m10 3l1 2m-349 13l1 1m8 1l0 1m7-3l1 0m0-5l1 0m28 1l-1 1m4 5l1 0m1-3l-1 2m3 1l0 1m2-9l0 1m9 1l-1 2m7 3l0 1m7-3l1 0m1 2l-1 2m21-7l-1 2m16 4l1 1m-1-5l-1 1m13-3l0 1m2-4l0 1m5 4l-1 1m19 1l1 1m5-8l0 1m14-1l1 0m51 8l-1 2m5-2l-1 1m4 0l1 0m0-11l-2 1m25 0l1 0m-1 3l-2 1m11 5l1 2m29-4l1 0m5-2l-1 2m6-7l-1 2m7 4l1 2m-1-5l1 1m6 4l-2 1m5-1l-1 1m2-2l0 1m4-8l-1 2m4 6l-1 1m5-6l0 1m10-1l0 1m2-1l-1 1m7-1l-1 1m-339 12l2 1m9-6l2 1m10 2l0 1m1 2l0 1m2-2l1 0m23 0l-1 2m1-3l0 1m12-4l-1 2m3 2l0 1m3 1l1 1m24 0l-1 1m2 1l-2 1m6-8l1 1m6 0l2 1m-1-4l-2 1m37-1l0 1m4 8l1 2m3-2l-2 1m5-4l-2 1m9-7l1 2m56-1l-2 1m15 6l0 1m4-10l0 1m3 4l-1 1m2 2l0 1m7 1l1 1m10-9l-2 1m15 2l1 1m26 4l1 2m25-4l1 0m2 3l0 1m9-8l1 0m-1 3l1 0m2 3l1 2m-347 8l0 1m4-8l0 1m4 9l-1 2m11-2l1 0m0-10l1 0m22 6l-2 1m4 0l1 1m11-1l1 0m2 3l0 1m11-11l2 1m24 7l1 2m16-2l0 1m12-1l-2 1m15-7l-1 2m7 4l0 1m6 0l1 0m0 0l0 1m9-9l1 0m1-1l0 1m26-2l0 1m39 1l1 0m1 1l1 1m5 4l-2 1m4-9l-1 1m6 2l0 1m3-1l1 2m1-1l-1 2m3-6l0 1m4 0l1 0m5 3l2 1m-2 3l-2 1m7 2l-1 1m8-8l2 1m7 4l0 1m3-9l2 1m1 5l0 1m27 1l-1 2m1-5l0 1m9 0l-1 1m17-1l-2 1m11-7l-1 2m-329 20l1 2m13-3l-1 1m6-9l1 0m12 0l1 1m0 1l1 1m0 1l-1 1m12 4l1 2m4-7l-1 1m9 4l1 1m23-2l1 0m3-2l0 1m8-2l1 2m23-9l2 1m2 6l1 0m1 4l1 1m7-12l0 1m2 2l2 1m9-1l-1 1m3 4l1 0m0-3l-1 1m67 3l1 2m9-10l-2 1m4 5l1 0m-1 0l-1 2m2-7l1 0m1 9l1 0m0-6l1 1m18-6l0 1m6 3l1 2m21 4l1 0m1-4l0 1m2-6l-2 1m5 3l1 0m2 1l-1 2m4 3l1 1m18-8l2 1m-1-3l1 2m7 7l0 1m11-4l0 1m4-9l-1 1m-341 19l2 1m13-8l0 1m3 7l1 1m13-6l-1 1m4 3l-2 1m9-7l1 0m9-1l2 1m10-2l1 1m7 7l1 1m25-1l-2 1m5-5l0 1m4-1l-2 1m30 2l-1 2m2-5l-1 2m5 1l1 0m5 0l2 1m13 0l-2 1m97 1l2 1m9-7l1 0m8 1l0 1m0 3l1 2m18 0l2 1m1-4l1 2m8-1l1 2m7-4l1 0m16-4l1 0m2 3l1 0m16 3l1 2m-352 5l0 1m7-3l1 0m5 6l-1 1m10-9l1 1m0 2l0 1m12 3l0 1m3 2l-1 2m1-11l0 1m6-2l-1 1m5 4l-1 1m3-1l1 2m1 0l2 1m12-4l1 0m0 7l-1 2m3-8l-1 2m1-2l0 1m27 2l-2 1m12-8l-1 1m6 5l2 1m3-2l-1 1m8 1l1 0m2-5l-1 1m1-2l-1 2m6 4l2 1m6 1l1 0m8-6l0 1m1-4l1 0m2 0l2 1m-2 4l-1 1m2 0l1 2m18 0l1 1m21-1l1 1m28-5l1 1m6-3l1 2m5-3l2 1m11 4l-1 1m3 1l-1 1m7-7l0 1m1 3l1 2m1-8l-1 1m3 6l1 2m2-2l1 1m6 0l0 1m9-5l1 0m11 2l2 1m9-2l-1 2m14-3l-1 1m14 1l1 2m1-7l-1 1m1 3l-1 1m2 1l-1 1m24-2l1 2" stroke="#a9aece"/>
</g>
</g></g>
</svg>
</body></html>
